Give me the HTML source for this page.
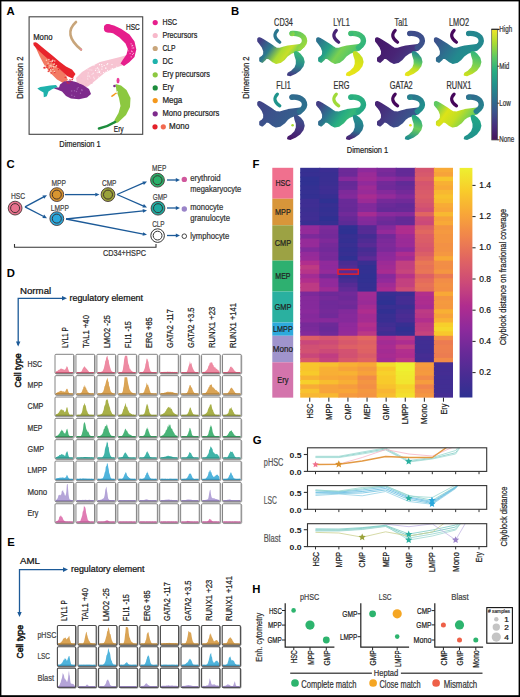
<!DOCTYPE html>
<html><head><meta charset="utf-8"><style>
html,body{margin:0;padding:0;background:#fff;}
svg{display:block;font-family:"Liberation Sans",sans-serif;}
</style></head><body>
<svg width="520" height="697" viewBox="0 0 520 697">
<rect width="520" height="697" fill="#fff"/>
<text x="6.6" y="15.3" font-size="11.3" font-weight="bold" fill="#000">A</text>
<text x="231.0" y="15.2" font-size="11.3" font-weight="bold" fill="#000">B</text>
<text x="6.6" y="167.5" font-size="11.3" font-weight="bold" fill="#000">C</text>
<text x="6.8" y="277.3" font-size="11.3" font-weight="bold" fill="#000">D</text>
<text x="7.2" y="545.5" font-size="11.3" font-weight="bold" fill="#000">E</text>
<text x="252.5" y="167.5" font-size="11.3" font-weight="bold" fill="#000">F</text>
<text x="252.8" y="443.8" font-size="11.3" font-weight="bold" fill="#000">G</text>
<text x="252.3" y="593.2" font-size="11.3" font-weight="bold" fill="#000">H</text>
<rect x="29.1" y="16.8" width="113.6" height="117.5" fill="none" stroke="#444" stroke-width="1.1"/>
<path d="M76,22 Q62.5,34.2 81,49.6" fill="none" stroke="#c8a57a" stroke-width="2.6" stroke-linecap="round"/>
<circle cx="81" cy="49.5" r="1" fill="#f08aa8"/>
<path d="M35,46 L42,52 L50,60 L58,67 L65,74 L68,80 L63,83 L57,79.5 L50,72.5 L44,64.5 L39.5,56 Z" fill="#f27a62"/>
<path d="M33.3,42.8 Q35.5,41.6 37.5,43.3 L45,49.5 L53,56 L60,62 L66,66.5 L72,69.5 L75.5,74 L72.5,78.5 L67,76 L60,69.5 L52,62.5 L44,55.5 L37.5,49.5 L33.6,45.3 Z" fill="#e8242c"/>
<path d="M76,78 L82,72 L90,67 L100,62 L110,59.5 L120,57 L127,55 L128,60 L125,64.5 L115,68 L105,72.5 L96,80 L88,86.5 L82,87.5 L77,84 Z" fill="#f7c4d2"/>
<path d="M60,84.5 L64,81.5 L70,80.5 L76,82 L83,85 L89,89 L91,94 L87,97.5 L79,99.2 L71,98.6 L66,96 L62,91.5 L57,89.6 L54,88.6 L55,87.2 L59,87.4 Z" fill="#7e2a8c"/>
<path d="M37.3,88.6 Q40,86.5 44,86.4 L50,85.6 L56,85 L57.5,87 L52,89.2 L48.5,91.5 L46.8,96.2 L43.8,97.2 L43.5,92.5 L40,90.6 Z" fill="#1fb2ac"/>
<path d="M104,27.5 Q104.3,24 108,24 L114,25.6 L121,28.8 L129.5,34.5 L134.5,41.5 L136.3,49.5 L134.5,57 L129,62.5 L124,66 L120.5,63.5 L123,59.5 L126.5,54.5 L127.8,49 L125.5,43.5 L119.5,37.5 L113,33.2 L107.5,32.3 Q104,31 104,27.5 Z" fill="#e61e8c"/>
<circle cx="108" cy="28.4" r="4.1" fill="#e61e8c"/>
<path d="M115.5,84 L121,85.5 L126.5,90 L130.5,98 L130,107 L126,115 L118,122.5 L114,123.5 L114.5,120 L118.5,113 L120.5,106 L119,98 L116.5,91 Z" fill="#8cc840"/>
<path d="M115,122 Q108,126.5 99,128.5" fill="none" stroke="#1c8c3c" stroke-width="2.6" stroke-linecap="round"/>
<path d="M112,96.2 L116,93.4" stroke="#f4981c" stroke-width="1.6" stroke-linecap="round"/>
<ellipse cx="118" cy="80.5" rx="1.5" ry="2.8" fill="#ea3c9a"/>
<circle cx="114.5" cy="86" r="1.3" fill="#7e2a8c"/>
<circle cx="54.3" cy="71.5" r="0.7" fill="#fbd0c0"/><circle cx="50.3" cy="62.0" r="0.7" fill="#fbd0c0"/><circle cx="45.3" cy="66.2" r="0.7" fill="#fbd0c0"/><circle cx="46.4" cy="60.2" r="0.7" fill="#fbd0c0"/><circle cx="51.0" cy="66.7" r="0.7" fill="#fbd0c0"/><circle cx="52.4" cy="61.5" r="0.7" fill="#fbd0c0"/><circle cx="50.0" cy="65.6" r="0.7" fill="#fbd0c0"/><circle cx="44.4" cy="68.3" r="0.7" fill="#fbd0c0"/><circle cx="50.9" cy="73.7" r="0.7" fill="#fbd0c0"/><circle cx="51.0" cy="65.2" r="0.7" fill="#fbd0c0"/><circle cx="55.1" cy="66.9" r="0.7" fill="#fbd0c0"/><circle cx="54.0" cy="64.2" r="0.7" fill="#fbd0c0"/><circle cx="50.9" cy="71.1" r="0.7" fill="#fbd0c0"/><circle cx="53.2" cy="66.7" r="0.7" fill="#fbd0c0"/><circle cx="45.4" cy="68.1" r="0.7" fill="#fbd0c0"/><circle cx="50.4" cy="69.8" r="0.7" fill="#fbd0c0"/><circle cx="50.9" cy="71.3" r="0.7" fill="#fbd0c0"/><circle cx="49.7" cy="67.1" r="0.7" fill="#fbd0c0"/><circle cx="52.7" cy="60.9" r="0.7" fill="#fbd0c0"/><circle cx="48.1" cy="63.3" r="0.7" fill="#fbd0c0"/><circle cx="56.5" cy="65.7" r="0.7" fill="#fbd0c0"/><circle cx="52.9" cy="69.2" r="0.7" fill="#fbd0c0"/><circle cx="48.9" cy="59.4" r="0.7" fill="#fbd0c0"/><circle cx="54.2" cy="64.0" r="0.7" fill="#fbd0c0"/><circle cx="52.8" cy="60.3" r="0.7" fill="#fbd0c0"/><circle cx="48.2" cy="71.8" r="0.7" fill="#fbd0c0"/><circle cx="54.8" cy="61.0" r="0.7" fill="#fbd0c0"/><circle cx="44.6" cy="65.8" r="0.7" fill="#fbd0c0"/><circle cx="53.4" cy="66.8" r="0.7" fill="#fbd0c0"/><circle cx="51.3" cy="61.1" r="0.7" fill="#fbd0c0"/><circle cx="54.8" cy="72.6" r="0.7" fill="#e8242c"/><circle cx="50.1" cy="62.5" r="0.7" fill="#e8242c"/><circle cx="48.3" cy="71.3" r="0.7" fill="#e8242c"/><circle cx="45.0" cy="67.7" r="0.7" fill="#e8242c"/><circle cx="47.0" cy="67.4" r="0.7" fill="#e8242c"/><circle cx="50.6" cy="68.1" r="0.7" fill="#e8242c"/><circle cx="58.5" cy="69.6" r="0.7" fill="#e8242c"/><circle cx="58.1" cy="67.4" r="0.7" fill="#e8242c"/><circle cx="49.4" cy="69.8" r="0.7" fill="#e8242c"/><circle cx="44.1" cy="67.9" r="0.7" fill="#e8242c"/><circle cx="52.8" cy="62.9" r="0.7" fill="#e8242c"/><circle cx="54.5" cy="65.4" r="0.7" fill="#e8242c"/><circle cx="44.2" cy="67.4" r="0.7" fill="#e8242c"/><circle cx="47.2" cy="65.8" r="0.7" fill="#e8242c"/><circle cx="51.3" cy="73.1" r="0.7" fill="#e8242c"/><circle cx="52.6" cy="67.9" r="0.7" fill="#e8242c"/><circle cx="53.5" cy="61.8" r="0.7" fill="#e8242c"/><circle cx="57.2" cy="64.1" r="0.7" fill="#e8242c"/><circle cx="117.5" cy="91.9" r="0.6" fill="#ffffff"/><circle cx="115.8" cy="97.1" r="0.6" fill="#ffffff"/><circle cx="118.8" cy="103.9" r="0.6" fill="#ffffff"/><circle cx="116.2" cy="97.7" r="0.6" fill="#ffffff"/><circle cx="115.6" cy="99.8" r="0.6" fill="#ffffff"/><circle cx="116.3" cy="105.5" r="0.6" fill="#ffffff"/><circle cx="115.5" cy="97.7" r="0.6" fill="#ffffff"/><circle cx="116.0" cy="94.7" r="0.6" fill="#ffffff"/><circle cx="117.9" cy="101.0" r="0.6" fill="#ffffff"/><circle cx="117.7" cy="108.2" r="0.6" fill="#ffffff"/><circle cx="112.0" cy="64.6" r="0.6" fill="#ffffff"/><circle cx="107.7" cy="63.7" r="0.6" fill="#ffffff"/><circle cx="103.6" cy="72.6" r="0.6" fill="#ffffff"/><circle cx="102.1" cy="66.7" r="0.6" fill="#ffffff"/><circle cx="105.7" cy="68.1" r="0.6" fill="#ffffff"/><circle cx="104.2" cy="65.5" r="0.6" fill="#ffffff"/><circle cx="112.5" cy="70.5" r="0.6" fill="#ffffff"/><circle cx="101.9" cy="69.1" r="0.6" fill="#ffffff"/><circle cx="109.5" cy="71.1" r="0.6" fill="#ffffff"/><circle cx="107.6" cy="70.3" r="0.6" fill="#ffffff"/><circle cx="101.7" cy="64.7" r="0.6" fill="#ffffff"/><circle cx="99.8" cy="71.1" r="0.6" fill="#ffffff"/><circle cx="112.6" cy="68.5" r="0.6" fill="#ffffff"/><circle cx="98.7" cy="69.0" r="0.6" fill="#ffffff"/><circle cx="114.3" cy="71.0" r="0.6" fill="#ffffff"/><circle cx="97.6" cy="67.9" r="0.6" fill="#ffffff"/><circle cx="94.0" cy="65.2" r="0.6" fill="#ffffff"/><circle cx="105.9" cy="68.1" r="0.6" fill="#ffffff"/><circle cx="111.2" cy="71.4" r="0.6" fill="#ffffff"/><circle cx="110.3" cy="71.5" r="0.6" fill="#ffffff"/><circle cx="99.5" cy="64.7" r="0.6" fill="#ffffff"/><circle cx="106.5" cy="72.9" r="0.6" fill="#ffffff"/><circle cx="107.0" cy="64.6" r="0.6" fill="#ffffff"/><circle cx="105.9" cy="72.0" r="0.6" fill="#ffffff"/><circle cx="95.6" cy="70.3" r="0.6" fill="#ffffff"/><circle cx="99.2" cy="71.6" r="0.6" fill="#ffffff"/><circle cx="111.1" cy="69.0" r="0.6" fill="#ffffff"/><circle cx="116.8" cy="67.1" r="0.6" fill="#ffffff"/><circle cx="99.5" cy="72.3" r="0.6" fill="#ffffff"/><circle cx="99.0" cy="72.5" r="0.6" fill="#ffffff"/><circle cx="91.8" cy="70.1" r="0.7" fill="#fbe0e8"/><circle cx="92.0" cy="74.6" r="0.7" fill="#fbe0e8"/><circle cx="93.4" cy="73.2" r="0.7" fill="#fbe0e8"/><circle cx="96.1" cy="68.7" r="0.7" fill="#fbe0e8"/><circle cx="88.3" cy="72.9" r="0.7" fill="#fbe0e8"/><circle cx="98.7" cy="69.6" r="0.7" fill="#fbe0e8"/><circle cx="90.0" cy="69.9" r="0.7" fill="#fbe0e8"/><circle cx="87.8" cy="76.5" r="0.7" fill="#fbe0e8"/><circle cx="94.3" cy="78.7" r="0.7" fill="#fbe0e8"/><circle cx="88.0" cy="75.1" r="0.7" fill="#fbe0e8"/><circle cx="98.5" cy="77.0" r="0.7" fill="#fbe0e8"/><circle cx="90.0" cy="78.1" r="0.7" fill="#fbe0e8"/><circle cx="87.7" cy="79.0" r="0.7" fill="#fbe0e8"/><circle cx="93.1" cy="73.5" r="0.7" fill="#fbe0e8"/><circle cx="93.7" cy="77.3" r="0.7" fill="#fbe0e8"/><circle cx="100.8" cy="73.6" r="0.7" fill="#fbe0e8"/><circle cx="89.5" cy="76.3" r="0.7" fill="#fbe0e8"/><circle cx="87.8" cy="69.1" r="0.7" fill="#fbe0e8"/><circle cx="97.3" cy="72.5" r="0.7" fill="#fbe0e8"/><circle cx="98.1" cy="70.7" r="0.7" fill="#fbe0e8"/><circle cx="128.0" cy="50.8" r="0.6" fill="#f9b8d8"/><circle cx="131.2" cy="56.8" r="0.6" fill="#f9b8d8"/><circle cx="132.1" cy="51.7" r="0.6" fill="#f9b8d8"/><circle cx="132.2" cy="48.0" r="0.6" fill="#f9b8d8"/><circle cx="131.1" cy="43.8" r="0.6" fill="#f9b8d8"/><circle cx="132.0" cy="45.9" r="0.6" fill="#f9b8d8"/><circle cx="130.1" cy="53.6" r="0.6" fill="#f9b8d8"/><circle cx="132.6" cy="45.4" r="0.6" fill="#f9b8d8"/><circle cx="133.7" cy="47.9" r="0.6" fill="#f9b8d8"/><circle cx="132.5" cy="54.5" r="0.6" fill="#f9b8d8"/><circle cx="131.5" cy="51.0" r="0.6" fill="#f9b8d8"/><circle cx="133.5" cy="53.3" r="0.6" fill="#f9b8d8"/><circle cx="78.2" cy="87.6" r="0.7" fill="#a060b0"/><circle cx="71.8" cy="95.3" r="0.7" fill="#a060b0"/><circle cx="77.2" cy="89.0" r="0.7" fill="#a060b0"/><circle cx="71.7" cy="91.0" r="0.7" fill="#a060b0"/><circle cx="80.5" cy="93.3" r="0.7" fill="#a060b0"/><circle cx="81.8" cy="89.6" r="0.7" fill="#a060b0"/><circle cx="82.0" cy="90.5" r="0.7" fill="#a060b0"/><circle cx="74.5" cy="96.4" r="0.7" fill="#a060b0"/><circle cx="76.5" cy="91.5" r="0.7" fill="#a060b0"/><circle cx="74.5" cy="90.7" r="0.7" fill="#a060b0"/><circle cx="91.6" cy="83.1" r="0.7" fill="#f6c0cf"/><circle cx="89.8" cy="80.6" r="0.7" fill="#f6c0cf"/><circle cx="91.2" cy="79.8" r="0.7" fill="#f6c0cf"/><circle cx="88.4" cy="81.4" r="0.7" fill="#f6c0cf"/><circle cx="86.4" cy="84.3" r="0.7" fill="#f6c0cf"/><circle cx="92.1" cy="82.9" r="0.7" fill="#f6c0cf"/><circle cx="80.3" cy="83.4" r="0.7" fill="#f6c0cf"/><circle cx="89.7" cy="78.5" r="0.7" fill="#f6c0cf"/><circle cx="85.9" cy="83.5" r="0.7" fill="#f6c0cf"/><circle cx="91.2" cy="82.4" r="0.7" fill="#f6c0cf"/><circle cx="86.8" cy="80.1" r="0.7" fill="#f6c0cf"/><circle cx="90.3" cy="79.7" r="0.7" fill="#f6c0cf"/><circle cx="81.6" cy="78.1" r="0.7" fill="#f6c0cf"/><circle cx="85.2" cy="81.2" r="0.7" fill="#f6c0cf"/><circle cx="73.1" cy="78.0" r="0.6" fill="#e8242c"/><circle cx="70.0" cy="79.7" r="0.6" fill="#e8242c"/><circle cx="69.0" cy="83.1" r="0.6" fill="#e8242c"/><circle cx="72.4" cy="79.6" r="0.6" fill="#e8242c"/><circle cx="66.2" cy="77.0" r="0.6" fill="#e8242c"/><circle cx="67.7" cy="82.9" r="0.6" fill="#e8242c"/><circle cx="67.0" cy="81.9" r="0.6" fill="#e8242c"/><circle cx="70.8" cy="81.0" r="0.6" fill="#e8242c"/><circle cx="72.0" cy="79.7" r="0.6" fill="#e8242c"/><circle cx="65.2" cy="77.4" r="0.6" fill="#e8242c"/>
<text x="33.20" y="40.10" font-size="8.6" text-anchor="start" fill="#222" stroke="#222" stroke-width="0.22" textLength="19.30" lengthAdjust="spacingAndGlyphs">Mono</text>
<text x="126.00" y="29.80" font-size="8.6" text-anchor="start" fill="#222" stroke="#222" stroke-width="0.22" textLength="13.80" lengthAdjust="spacingAndGlyphs">HSC</text>
<text x="113.80" y="131.60" font-size="8.6" text-anchor="start" fill="#222" stroke="#222" stroke-width="0.22" textLength="9.80" lengthAdjust="spacingAndGlyphs">Ery</text>
<text x="80.00" y="146.80" font-size="9.2" text-anchor="middle" fill="#222" stroke="#222" stroke-width="0.22" textLength="41.50" lengthAdjust="spacingAndGlyphs">Dimension 1</text>
<text transform="translate(22.90,77.70) rotate(-90)" font-size="9.2" text-anchor="middle" fill="#222" stroke="#222" stroke-width="0.22" textLength="42.20" lengthAdjust="spacingAndGlyphs">Dimension 2</text>
<circle cx="155.2" cy="22.6" r="2.6" fill="#e61e8c"/>
<text x="162.40" y="25.00" font-size="9.0" text-anchor="start" fill="#222" stroke="#222" stroke-width="0.22" textLength="14.70" lengthAdjust="spacingAndGlyphs">HSC</text>
<circle cx="155.2" cy="35.5" r="2.6" fill="#f7b8ca"/>
<text x="162.40" y="37.90" font-size="9.0" text-anchor="start" fill="#222" stroke="#222" stroke-width="0.22" textLength="34.90" lengthAdjust="spacingAndGlyphs">Precursors</text>
<circle cx="155.2" cy="48.5" r="2.6" fill="#c8a57a"/>
<text x="162.40" y="50.90" font-size="9.0" text-anchor="start" fill="#222" stroke="#222" stroke-width="0.22" textLength="13.20" lengthAdjust="spacingAndGlyphs">CLP</text>
<circle cx="155.2" cy="61.4" r="2.6" fill="#1fb2ac"/>
<text x="162.40" y="63.80" font-size="9.0" text-anchor="start" fill="#222" stroke="#222" stroke-width="0.22" textLength="10.50" lengthAdjust="spacingAndGlyphs">DC</text>
<circle cx="155.2" cy="74.8" r="2.6" fill="#8cc840"/>
<text x="162.40" y="77.20" font-size="9.0" text-anchor="start" fill="#222" stroke="#222" stroke-width="0.22" textLength="47.40" lengthAdjust="spacingAndGlyphs">Ery precursors</text>
<circle cx="155.2" cy="87.9" r="2.6" fill="#1c8c3c"/>
<text x="162.40" y="90.30" font-size="9.0" text-anchor="start" fill="#222" stroke="#222" stroke-width="0.22" textLength="11.30" lengthAdjust="spacingAndGlyphs">Ery</text>
<circle cx="155.2" cy="100.6" r="2.6" fill="#f4981c"/>
<text x="162.40" y="103.00" font-size="9.0" text-anchor="start" fill="#222" stroke="#222" stroke-width="0.22" textLength="19.90" lengthAdjust="spacingAndGlyphs">Mega</text>
<circle cx="155.2" cy="113.8" r="2.6" fill="#7e2a8c"/>
<text x="162.40" y="116.20" font-size="9.0" text-anchor="start" fill="#222" stroke="#222" stroke-width="0.22" textLength="57.00" lengthAdjust="spacingAndGlyphs">Mono precursors</text>
<circle cx="155" cy="126.8" r="2.6" fill="#e3212a"/>
<circle cx="163.3" cy="126.8" r="2.6" fill="#f26a50"/>
<text x="169.10" y="129.20" font-size="9.0" text-anchor="start" fill="#222" stroke="#222" stroke-width="0.22" textLength="20.10" lengthAdjust="spacingAndGlyphs">Mono</text>
<defs><linearGradient id="bbCD34" x1="0" y1="0.2" x2="1" y2="0.6"><stop offset="0" stop-color="#433e85"/><stop offset="0.3" stop-color="#2c7a8e"/><stop offset="0.55" stop-color="#aadc32"/><stop offset="0.7" stop-color="#c8df2a"/><stop offset="0.85" stop-color="#7ad151"/><stop offset="1" stop-color="#5ec962"/></linearGradient><linearGradient id="bhCD34" x1="0" y1="0" x2="1" y2="1"><stop offset="0" stop-color="#52c569"/><stop offset="1" stop-color="#a0da39"/></linearGradient><linearGradient id="beCD34" x1="0.5" y1="0" x2="0.3" y2="1"><stop offset="0" stop-color="#35b779"/><stop offset="0.5" stop-color="#2a8a8c"/><stop offset="1" stop-color="#413d84"/></linearGradient><linearGradient id="bbLYL1" x1="0" y1="0.2" x2="1" y2="0.6"><stop offset="0" stop-color="#2c728e"/><stop offset="0.3" stop-color="#25a286"/><stop offset="0.55" stop-color="#7ad151"/><stop offset="0.75" stop-color="#5ec962"/><stop offset="1" stop-color="#3fbc73"/></linearGradient><linearGradient id="bhLYL1" x1="0" y1="0" x2="1" y2="1"><stop offset="0" stop-color="#48c16e"/><stop offset="1" stop-color="#2fb47c"/></linearGradient><linearGradient id="beLYL1" x1="0.5" y1="0" x2="0.3" y2="1"><stop offset="0" stop-color="#c2df23"/><stop offset="0.5" stop-color="#dde318"/><stop offset="1" stop-color="#e8e419"/></linearGradient><linearGradient id="bbTal1" x1="0" y1="0.2" x2="1" y2="0.6"><stop offset="0" stop-color="#46186a"/><stop offset="0.5" stop-color="#482475"/><stop offset="0.8" stop-color="#453781"/><stop offset="1" stop-color="#3e4989"/></linearGradient><linearGradient id="bhTal1" x1="0" y1="0" x2="1" y2="1"><stop offset="0" stop-color="#3e4989"/><stop offset="1" stop-color="#3b528b"/></linearGradient><linearGradient id="beTal1" x1="0.5" y1="0" x2="0.3" y2="1"><stop offset="0" stop-color="#23898e"/><stop offset="0.4" stop-color="#5ec962"/><stop offset="0.7" stop-color="#c2df23"/><stop offset="1" stop-color="#e5e419"/></linearGradient><linearGradient id="bbLMO2" x1="0" y1="0.2" x2="1" y2="0.6"><stop offset="0" stop-color="#3b528b"/><stop offset="0.35" stop-color="#2c728e"/><stop offset="0.6" stop-color="#23898e"/><stop offset="1" stop-color="#21918c"/></linearGradient><linearGradient id="bhLMO2" x1="0" y1="0" x2="1" y2="1"><stop offset="0" stop-color="#25858e"/><stop offset="1" stop-color="#23898e"/></linearGradient><linearGradient id="beLMO2" x1="0.5" y1="0" x2="0.3" y2="1"><stop offset="0" stop-color="#35b779"/><stop offset="0.5" stop-color="#7ad151"/><stop offset="1" stop-color="#c8e020"/></linearGradient><linearGradient id="bbFLI1" x1="0" y1="0.2" x2="1" y2="0.6"><stop offset="0" stop-color="#414487"/><stop offset="0.35" stop-color="#3b528b"/><stop offset="1" stop-color="#33638d"/></linearGradient><linearGradient id="bhFLI1" x1="0" y1="0" x2="1" y2="1"><stop offset="0" stop-color="#31688e"/><stop offset="1" stop-color="#2c728e"/></linearGradient><linearGradient id="beFLI1" x1="0.5" y1="0" x2="0.3" y2="1"><stop offset="0" stop-color="#3b528b"/><stop offset="0.5" stop-color="#453781"/><stop offset="1" stop-color="#46186a"/></linearGradient><linearGradient id="bbERG" x1="0" y1="0.2" x2="1" y2="0.6"><stop offset="0" stop-color="#433e85"/><stop offset="0.3" stop-color="#2c728e"/><stop offset="0.6" stop-color="#27ad81"/><stop offset="0.75" stop-color="#35b779"/><stop offset="1" stop-color="#22a785"/></linearGradient><linearGradient id="bhERG" x1="0" y1="0" x2="1" y2="1"><stop offset="0" stop-color="#2fb47c"/><stop offset="1" stop-color="#22a785"/></linearGradient><linearGradient id="beERG" x1="0.5" y1="0" x2="0.3" y2="1"><stop offset="0" stop-color="#21918c"/><stop offset="0.6" stop-color="#2c728e"/><stop offset="1" stop-color="#482575"/></linearGradient><linearGradient id="bbGATA2" x1="0" y1="0.2" x2="1" y2="0.6"><stop offset="0" stop-color="#482475"/><stop offset="0.4" stop-color="#433e85"/><stop offset="0.75" stop-color="#3b528b"/><stop offset="1" stop-color="#33638d"/></linearGradient><linearGradient id="bhGATA2" x1="0" y1="0" x2="1" y2="1"><stop offset="0" stop-color="#2c728e"/><stop offset="1" stop-color="#1f948c"/></linearGradient><linearGradient id="beGATA2" x1="0.5" y1="0" x2="0.3" y2="1"><stop offset="0" stop-color="#20a386"/><stop offset="0.5" stop-color="#6ccd5a"/><stop offset="1" stop-color="#218e8d"/></linearGradient><linearGradient id="bbRUNX1" x1="0" y1="0.2" x2="1" y2="0.6"><stop offset="0" stop-color="#5ec962"/><stop offset="0.3" stop-color="#dde318"/><stop offset="0.55" stop-color="#c2df23"/><stop offset="0.8" stop-color="#7ad151"/><stop offset="1" stop-color="#35b779"/></linearGradient><linearGradient id="bhRUNX1" x1="0" y1="0" x2="1" y2="1"><stop offset="0" stop-color="#31688e"/><stop offset="1" stop-color="#25858e"/></linearGradient><linearGradient id="beRUNX1" x1="0.5" y1="0" x2="0.3" y2="1"><stop offset="0" stop-color="#22a785"/><stop offset="0.5" stop-color="#1f9a8a"/><stop offset="1" stop-color="#21918c"/></linearGradient></defs>
<g transform="translate(254.00,26.00)">
<path d="M4.3,13 Q5,11.5 8,13.5 L12,16 L16,18.5 L19.5,21 L22,22.5 L26,22.8 L30,21.5 L34,20.5 L38,20 L42,19.5 L46,19 L49,20.5 L46,23.8 L41,25.3 L36.5,27 L33,29.5 L30,33 L26,36 L22,36.8 L18.5,35 L15,32.2 L12.5,31.2 L10.5,33.8 L8.3,35.8 L6.3,34.8 L6.3,32.2 L8.6,30.6 L10.2,28.5 L10.3,25 L8.8,21 L6.3,17.5 L4.3,15 Z" fill="url(#bbCD34)" stroke="url(#bbCD34)" stroke-width="2.2" stroke-linejoin="round"/>
<path d="M38.2,7.4 Q45.5,7 49.3,11 Q52.2,15.2 48.6,19.2 L45.6,21.6" fill="none" stroke="url(#bhCD34)" stroke-width="5.4" stroke-linecap="round" stroke-linejoin="round"/>
<circle cx="38" cy="7.6" r="2.7" fill="url(#bhCD34)"/>
<path d="M40.8,26.5 Q42,25.6 43.5,26.5 L46,28.5 L48.7,32 L49.7,36 L48.6,40 L45.6,44 L41,47.2 L36.5,49.2 L34,48.8 L34.5,47.3 L38,45.3 L41.3,42 L42.8,38 L42.8,34 L41.5,30 Z" fill="url(#beCD34)" stroke="url(#beCD34)" stroke-width="2.0" stroke-linejoin="round"/>
<path d="M23.4,4.4 Q17.5,10.5 25.8,16.2" fill="none" stroke="#2a768e" stroke-width="3.2" stroke-linecap="round"/>
</g>
<text x="283.50" y="25.60" font-size="10.2" text-anchor="middle" fill="#333" stroke="#333" stroke-width="0.22" textLength="18.78" lengthAdjust="spacingAndGlyphs">CD34</text>
<g transform="translate(312.90,26.00)">
<path d="M4.3,13 Q5,11.5 8,13.5 L12,16 L16,18.5 L19.5,21 L22,22.5 L26,22.8 L30,21.5 L34,20.5 L38,20 L42,19.5 L46,19 L49,20.5 L46,23.8 L41,25.3 L36.5,27 L33,29.5 L30,33 L26,36 L22,36.8 L18.5,35 L15,32.2 L12.5,31.2 L10.5,33.8 L8.3,35.8 L6.3,34.8 L6.3,32.2 L8.6,30.6 L10.2,28.5 L10.3,25 L8.8,21 L6.3,17.5 L4.3,15 Z" fill="url(#bbLYL1)" stroke="url(#bbLYL1)" stroke-width="2.2" stroke-linejoin="round"/>
<path d="M38.2,7.4 Q45.5,7 49.3,11 Q52.2,15.2 48.6,19.2 L45.6,21.6" fill="none" stroke="url(#bhLYL1)" stroke-width="5.4" stroke-linecap="round" stroke-linejoin="round"/>
<circle cx="38" cy="7.6" r="2.7" fill="url(#bhLYL1)"/>
<path d="M40.8,26.5 Q42,25.6 43.5,26.5 L46,28.5 L48.7,32 L49.7,36 L48.6,40 L45.6,44 L41,47.2 L36.5,49.2 L34,48.8 L34.5,47.3 L38,45.3 L41.3,42 L42.8,38 L42.8,34 L41.5,30 Z" fill="url(#beLYL1)" stroke="url(#beLYL1)" stroke-width="2.0" stroke-linejoin="round"/>
<path d="M23.4,4.4 Q17.5,10.5 25.8,16.2" fill="none" stroke="#482374" stroke-width="3.2" stroke-linecap="round"/>
</g>
<text x="341.50" y="25.60" font-size="10.2" text-anchor="middle" fill="#333" stroke="#333" stroke-width="0.22" textLength="16.61" lengthAdjust="spacingAndGlyphs">LYL1</text>
<g transform="translate(371.80,26.00)">
<path d="M4.3,13 Q5,11.5 8,13.5 L12,16 L16,18.5 L19.5,21 L22,22.5 L26,22.8 L30,21.5 L34,20.5 L38,20 L42,19.5 L46,19 L49,20.5 L46,23.8 L41,25.3 L36.5,27 L33,29.5 L30,33 L26,36 L22,36.8 L18.5,35 L15,32.2 L12.5,31.2 L10.5,33.8 L8.3,35.8 L6.3,34.8 L6.3,32.2 L8.6,30.6 L10.2,28.5 L10.3,25 L8.8,21 L6.3,17.5 L4.3,15 Z" fill="url(#bbTal1)" stroke="url(#bbTal1)" stroke-width="2.2" stroke-linejoin="round"/>
<path d="M38.2,7.4 Q45.5,7 49.3,11 Q52.2,15.2 48.6,19.2 L45.6,21.6" fill="none" stroke="url(#bhTal1)" stroke-width="5.4" stroke-linecap="round" stroke-linejoin="round"/>
<circle cx="38" cy="7.6" r="2.7" fill="url(#bhTal1)"/>
<path d="M40.8,26.5 Q42,25.6 43.5,26.5 L46,28.5 L48.7,32 L49.7,36 L48.6,40 L45.6,44 L41,47.2 L36.5,49.2 L34,48.8 L34.5,47.3 L38,45.3 L41.3,42 L42.8,38 L42.8,34 L41.5,30 Z" fill="url(#beTal1)" stroke="url(#beTal1)" stroke-width="2.0" stroke-linejoin="round"/>
<path d="M23.4,4.4 Q17.5,10.5 25.8,16.2" fill="none" stroke="#450c5e" stroke-width="3.2" stroke-linecap="round"/>
</g>
<text x="401.20" y="25.60" font-size="10.2" text-anchor="middle" fill="#333" stroke="#333" stroke-width="0.22" textLength="13.47" lengthAdjust="spacingAndGlyphs">Tal1</text>
<g transform="translate(430.70,26.00)">
<path d="M4.3,13 Q5,11.5 8,13.5 L12,16 L16,18.5 L19.5,21 L22,22.5 L26,22.8 L30,21.5 L34,20.5 L38,20 L42,19.5 L46,19 L49,20.5 L46,23.8 L41,25.3 L36.5,27 L33,29.5 L30,33 L26,36 L22,36.8 L18.5,35 L15,32.2 L12.5,31.2 L10.5,33.8 L8.3,35.8 L6.3,34.8 L6.3,32.2 L8.6,30.6 L10.2,28.5 L10.3,25 L8.8,21 L6.3,17.5 L4.3,15 Z" fill="url(#bbLMO2)" stroke="url(#bbLMO2)" stroke-width="2.2" stroke-linejoin="round"/>
<path d="M38.2,7.4 Q45.5,7 49.3,11 Q52.2,15.2 48.6,19.2 L45.6,21.6" fill="none" stroke="url(#bhLMO2)" stroke-width="5.4" stroke-linecap="round" stroke-linejoin="round"/>
<circle cx="38" cy="7.6" r="2.7" fill="url(#bhLMO2)"/>
<path d="M40.8,26.5 Q42,25.6 43.5,26.5 L46,28.5 L48.7,32 L49.7,36 L48.6,40 L45.6,44 L41,47.2 L36.5,49.2 L34,48.8 L34.5,47.3 L38,45.3 L41.3,42 L42.8,38 L42.8,34 L41.5,30 Z" fill="url(#beLMO2)" stroke="url(#beLMO2)" stroke-width="2.0" stroke-linejoin="round"/>
<path d="M23.4,4.4 Q17.5,10.5 25.8,16.2" fill="none" stroke="#46085c" stroke-width="3.2" stroke-linecap="round"/>
</g>
<text x="459.00" y="25.60" font-size="10.2" text-anchor="middle" fill="#333" stroke="#333" stroke-width="0.22" textLength="20.00" lengthAdjust="spacingAndGlyphs">LMO2</text>
<g transform="translate(254.00,89.70)">
<path d="M4.3,13 Q5,11.5 8,13.5 L12,16 L16,18.5 L19.5,21 L22,22.5 L26,22.8 L30,21.5 L34,20.5 L38,20 L42,19.5 L46,19 L49,20.5 L46,23.8 L41,25.3 L36.5,27 L33,29.5 L30,33 L26,36 L22,36.8 L18.5,35 L15,32.2 L12.5,31.2 L10.5,33.8 L8.3,35.8 L6.3,34.8 L6.3,32.2 L8.6,30.6 L10.2,28.5 L10.3,25 L8.8,21 L6.3,17.5 L4.3,15 Z" fill="url(#bbFLI1)" stroke="url(#bbFLI1)" stroke-width="2.2" stroke-linejoin="round"/>
<path d="M38.2,7.4 Q45.5,7 49.3,11 Q52.2,15.2 48.6,19.2 L45.6,21.6" fill="none" stroke="url(#bhFLI1)" stroke-width="5.4" stroke-linecap="round" stroke-linejoin="round"/>
<circle cx="38" cy="7.6" r="2.7" fill="url(#bhFLI1)"/>
<path d="M40.8,26.5 Q42,25.6 43.5,26.5 L46,28.5 L48.7,32 L49.7,36 L48.6,40 L45.6,44 L41,47.2 L36.5,49.2 L34,48.8 L34.5,47.3 L38,45.3 L41.3,42 L42.8,38 L42.8,34 L41.5,30 Z" fill="url(#beFLI1)" stroke="url(#beFLI1)" stroke-width="2.0" stroke-linejoin="round"/>
<path d="M23.4,4.4 Q17.5,10.5 25.8,16.2" fill="none" stroke="#1f948c" stroke-width="3.2" stroke-linecap="round"/>
<circle cx="38.6" cy="35.5" r="1.3" fill="#aadc32"/>
</g>
<text x="283.50" y="89.30" font-size="10.2" text-anchor="middle" fill="#333" stroke="#333" stroke-width="0.22" textLength="14.69" lengthAdjust="spacingAndGlyphs">FLI1</text>
<g transform="translate(312.90,89.70)">
<path d="M4.3,13 Q5,11.5 8,13.5 L12,16 L16,18.5 L19.5,21 L22,22.5 L26,22.8 L30,21.5 L34,20.5 L38,20 L42,19.5 L46,19 L49,20.5 L46,23.8 L41,25.3 L36.5,27 L33,29.5 L30,33 L26,36 L22,36.8 L18.5,35 L15,32.2 L12.5,31.2 L10.5,33.8 L8.3,35.8 L6.3,34.8 L6.3,32.2 L8.6,30.6 L10.2,28.5 L10.3,25 L8.8,21 L6.3,17.5 L4.3,15 Z" fill="url(#bbERG)" stroke="url(#bbERG)" stroke-width="2.2" stroke-linejoin="round"/>
<path d="M38.2,7.4 Q45.5,7 49.3,11 Q52.2,15.2 48.6,19.2 L45.6,21.6" fill="none" stroke="url(#bhERG)" stroke-width="5.4" stroke-linecap="round" stroke-linejoin="round"/>
<circle cx="38" cy="7.6" r="2.7" fill="url(#bhERG)"/>
<path d="M40.8,26.5 Q42,25.6 43.5,26.5 L46,28.5 L48.7,32 L49.7,36 L48.6,40 L45.6,44 L41,47.2 L36.5,49.2 L34,48.8 L34.5,47.3 L38,45.3 L41.3,42 L42.8,38 L42.8,34 L41.5,30 Z" fill="url(#beERG)" stroke="url(#beERG)" stroke-width="2.0" stroke-linejoin="round"/>
<path d="M23.4,4.4 Q17.5,10.5 25.8,16.2" fill="none" stroke="#a0da39" stroke-width="3.2" stroke-linecap="round"/>
</g>
<text x="341.50" y="89.30" font-size="10.2" text-anchor="middle" fill="#333" stroke="#333" stroke-width="0.22" textLength="15.91" lengthAdjust="spacingAndGlyphs">ERG</text>
<g transform="translate(371.80,89.70)">
<path d="M4.3,13 Q5,11.5 8,13.5 L12,16 L16,18.5 L19.5,21 L22,22.5 L26,22.8 L30,21.5 L34,20.5 L38,20 L42,19.5 L46,19 L49,20.5 L46,23.8 L41,25.3 L36.5,27 L33,29.5 L30,33 L26,36 L22,36.8 L18.5,35 L15,32.2 L12.5,31.2 L10.5,33.8 L8.3,35.8 L6.3,34.8 L6.3,32.2 L8.6,30.6 L10.2,28.5 L10.3,25 L8.8,21 L6.3,17.5 L4.3,15 Z" fill="url(#bbGATA2)" stroke="url(#bbGATA2)" stroke-width="2.2" stroke-linejoin="round"/>
<path d="M38.2,7.4 Q45.5,7 49.3,11 Q52.2,15.2 48.6,19.2 L45.6,21.6" fill="none" stroke="url(#bhGATA2)" stroke-width="5.4" stroke-linecap="round" stroke-linejoin="round"/>
<circle cx="38" cy="7.6" r="2.7" fill="url(#bhGATA2)"/>
<path d="M40.8,26.5 Q42,25.6 43.5,26.5 L46,28.5 L48.7,32 L49.7,36 L48.6,40 L45.6,44 L41,47.2 L36.5,49.2 L34,48.8 L34.5,47.3 L38,45.3 L41.3,42 L42.8,38 L42.8,34 L41.5,30 Z" fill="url(#beGATA2)" stroke="url(#beGATA2)" stroke-width="2.0" stroke-linejoin="round"/>
<path d="M23.4,4.4 Q17.5,10.5 25.8,16.2" fill="none" stroke="#46085c" stroke-width="3.2" stroke-linecap="round"/>
<circle cx="38.6" cy="35.5" r="1.3" fill="#e8e419"/>
</g>
<text x="401.20" y="89.30" font-size="10.2" text-anchor="middle" fill="#333" stroke="#333" stroke-width="0.22" textLength="22.99" lengthAdjust="spacingAndGlyphs">GATA2</text>
<g transform="translate(430.70,89.70)">
<path d="M4.3,13 Q5,11.5 8,13.5 L12,16 L16,18.5 L19.5,21 L22,22.5 L26,22.8 L30,21.5 L34,20.5 L38,20 L42,19.5 L46,19 L49,20.5 L46,23.8 L41,25.3 L36.5,27 L33,29.5 L30,33 L26,36 L22,36.8 L18.5,35 L15,32.2 L12.5,31.2 L10.5,33.8 L8.3,35.8 L6.3,34.8 L6.3,32.2 L8.6,30.6 L10.2,28.5 L10.3,25 L8.8,21 L6.3,17.5 L4.3,15 Z" fill="url(#bbRUNX1)" stroke="url(#bbRUNX1)" stroke-width="2.2" stroke-linejoin="round"/>
<path d="M38.2,7.4 Q45.5,7 49.3,11 Q52.2,15.2 48.6,19.2 L45.6,21.6" fill="none" stroke="url(#bhRUNX1)" stroke-width="5.4" stroke-linecap="round" stroke-linejoin="round"/>
<circle cx="38" cy="7.6" r="2.7" fill="url(#bhRUNX1)"/>
<path d="M40.8,26.5 Q42,25.6 43.5,26.5 L46,28.5 L48.7,32 L49.7,36 L48.6,40 L45.6,44 L41,47.2 L36.5,49.2 L34,48.8 L34.5,47.3 L38,45.3 L41.3,42 L42.8,38 L42.8,34 L41.5,30 Z" fill="url(#beRUNX1)" stroke="url(#beRUNX1)" stroke-width="2.0" stroke-linejoin="round"/>
<path d="M23.4,4.4 Q17.5,10.5 25.8,16.2" fill="none" stroke="#45065a" stroke-width="3.2" stroke-linecap="round"/>
</g>
<text x="459.00" y="89.30" font-size="10.2" text-anchor="middle" fill="#333" stroke="#333" stroke-width="0.22" textLength="24.89" lengthAdjust="spacingAndGlyphs">RUNX1</text>
<linearGradient id="vcb" x1="0" y1="0" x2="0" y2="1"><stop offset="0.0" stop-color="#f2e52a"/><stop offset="0.125" stop-color="#aadc32"/><stop offset="0.25" stop-color="#5ec962"/><stop offset="0.375" stop-color="#27ad81"/><stop offset="0.5" stop-color="#21918c"/><stop offset="0.625" stop-color="#2c728e"/><stop offset="0.75" stop-color="#3b528b"/><stop offset="0.875" stop-color="#472e7c"/><stop offset="1.0" stop-color="#46155a"/></linearGradient>
<rect x="491.7" y="29.2" width="5.9" height="110.8" fill="url(#vcb)" stroke="#555" stroke-width="0.7"/>
<line x1="491.4" y1="29.3" x2="499.4" y2="29.3" stroke="#222" stroke-width="1.1"/>
<line x1="497.4" y1="29.6" x2="499.4" y2="29.6" stroke="#222" stroke-width="0.9"/>
<text x="499.30" y="32.00" font-size="8.2" text-anchor="start" fill="#333" stroke="#333" stroke-width="0.22" textLength="12.82" lengthAdjust="spacingAndGlyphs">High</text>
<line x1="497.4" y1="66.2" x2="499.4" y2="66.2" stroke="#222" stroke-width="0.9"/>
<text x="499.30" y="68.60" font-size="8.2" text-anchor="start" fill="#333" stroke="#333" stroke-width="0.22" textLength="10.04" lengthAdjust="spacingAndGlyphs">Mid</text>
<line x1="497.4" y1="103.2" x2="499.4" y2="103.2" stroke="#222" stroke-width="0.9"/>
<text x="499.30" y="105.60" font-size="8.2" text-anchor="start" fill="#333" stroke="#333" stroke-width="0.22" textLength="11.43" lengthAdjust="spacingAndGlyphs">Low</text>
<line x1="497.4" y1="139.8" x2="499.4" y2="139.8" stroke="#222" stroke-width="0.9"/>
<text x="499.30" y="142.20" font-size="8.2" text-anchor="start" fill="#333" stroke="#333" stroke-width="0.22" textLength="14.90" lengthAdjust="spacingAndGlyphs">None</text>
<text x="367.50" y="153.00" font-size="9.2" text-anchor="middle" fill="#222" stroke="#222" stroke-width="0.22" textLength="41.50" lengthAdjust="spacingAndGlyphs">Dimension 1</text>
<text transform="translate(249.30,77.60) rotate(-90)" font-size="9.2" text-anchor="middle" fill="#222" stroke="#222" stroke-width="0.22" textLength="42.20" lengthAdjust="spacingAndGlyphs">Dimension 2</text>
<line x1="25.00" y1="206.80" x2="43.73" y2="196.93" stroke="#1c5a98" stroke-width="1.3"/>
<path d="M47.00,195.20 L44.17,198.83 L42.40,195.49 Z" fill="#1c5a98"/>
<line x1="25.00" y1="206.80" x2="43.71" y2="216.50" stroke="#1c5a98" stroke-width="1.3"/>
<path d="M47.00,218.20 L42.40,217.95 L44.14,214.59 Z" fill="#1c5a98"/>
<line x1="65.00" y1="194.60" x2="95.80" y2="194.60" stroke="#1c5a98" stroke-width="1.3"/>
<path d="M99.50,194.60 L95.30,196.49 L95.30,192.71 Z" fill="#1c5a98"/>
<line x1="117.00" y1="194.50" x2="143.61" y2="182.97" stroke="#1c5a98" stroke-width="1.3"/>
<path d="M147.00,181.50 L143.90,184.90 L142.39,181.44 Z" fill="#1c5a98"/>
<line x1="117.00" y1="194.50" x2="143.61" y2="206.03" stroke="#1c5a98" stroke-width="1.3"/>
<path d="M147.00,207.50 L142.39,207.56 L143.90,204.10 Z" fill="#1c5a98"/>
<line x1="66.00" y1="219.00" x2="143.32" y2="210.89" stroke="#1c5a98" stroke-width="1.3"/>
<path d="M147.00,210.50 L143.02,212.82 L142.63,209.06 Z" fill="#1c5a98"/>
<line x1="66.00" y1="219.00" x2="143.37" y2="234.09" stroke="#1c5a98" stroke-width="1.3"/>
<path d="M147.00,234.80 L142.52,235.85 L143.24,232.14 Z" fill="#1c5a98"/>
<line x1="167.00" y1="180.00" x2="176.30" y2="180.00" stroke="#1c5a98" stroke-width="1.3"/>
<path d="M180.00,180.00 L175.80,181.89 L175.80,178.11 Z" fill="#1c5a98"/>
<line x1="167.00" y1="208.00" x2="176.30" y2="208.00" stroke="#1c5a98" stroke-width="1.3"/>
<path d="M180.00,208.00 L175.80,209.89 L175.80,206.11 Z" fill="#1c5a98"/>
<line x1="167.00" y1="235.50" x2="176.30" y2="235.50" stroke="#1c5a98" stroke-width="1.3"/>
<path d="M180.00,235.50 L175.80,237.39 L175.80,233.61 Z" fill="#1c5a98"/>
<circle cx="15.1" cy="208.1" r="6.9" fill="#e8728e" stroke="#4a3a3a" stroke-width="0.9"/>
<circle cx="15.1" cy="208.1" r="4.5" fill="#e8728e" stroke="#3a2a2a" stroke-width="0.9"/>
<circle cx="56.8" cy="194.6" r="6.9" fill="#d99530" stroke="#4a3a3a" stroke-width="0.9"/>
<circle cx="56.8" cy="194.6" r="4.5" fill="#d99530" stroke="#3a2a2a" stroke-width="0.9"/>
<circle cx="56.8" cy="218.6" r="6.9" fill="#2aa8dc" stroke="#4a3a3a" stroke-width="0.9"/>
<circle cx="56.8" cy="218.6" r="4.5" fill="#2aa8dc" stroke="#3a2a2a" stroke-width="0.9"/>
<circle cx="108" cy="194.6" r="6.9" fill="#9aa23a" stroke="#4a3a3a" stroke-width="0.9"/>
<circle cx="108" cy="194.6" r="4.5" fill="#9aa23a" stroke="#3a2a2a" stroke-width="0.9"/>
<circle cx="157.5" cy="180.2" r="6.9" fill="#2ab06a" stroke="#4a3a3a" stroke-width="0.9"/>
<circle cx="157.5" cy="180.2" r="4.5" fill="#2ab06a" stroke="#3a2a2a" stroke-width="0.9"/>
<circle cx="158" cy="208.2" r="6.9" fill="#1eaaa0" stroke="#4a3a3a" stroke-width="0.9"/>
<circle cx="158" cy="208.2" r="4.5" fill="#1eaaa0" stroke="#3a2a2a" stroke-width="0.9"/>
<circle cx="157.6" cy="235.6" r="6.8" fill="#fff" stroke="#333" stroke-width="1"/>
<circle cx="157.6" cy="235.6" r="4.4" fill="#fff" stroke="#333" stroke-width="1"/>
<circle cx="184.3" cy="179.4" r="2.7" fill="#d0589c"/>
<circle cx="184.3" cy="209" r="2.7" fill="#9a84c8"/>
<circle cx="184.3" cy="236.2" r="2.3" fill="#fff" stroke="#333" stroke-width="0.9"/>
<text x="18.10" y="198.50" font-size="9.4" text-anchor="middle" fill="#444" stroke="#444" stroke-width="0.22" textLength="14.20" lengthAdjust="spacingAndGlyphs">HSC</text>
<text x="58.80" y="186.40" font-size="9.4" text-anchor="middle" fill="#444" stroke="#444" stroke-width="0.22" textLength="14.50" lengthAdjust="spacingAndGlyphs">MPP</text>
<text x="59.90" y="211.20" font-size="9.4" text-anchor="middle" fill="#444" stroke="#444" stroke-width="0.22" textLength="18.10" lengthAdjust="spacingAndGlyphs">LMPP</text>
<text x="109.20" y="186.40" font-size="9.4" text-anchor="middle" fill="#444" stroke="#444" stroke-width="0.22" textLength="14.50" lengthAdjust="spacingAndGlyphs">CMP</text>
<text x="159.20" y="171.40" font-size="9.4" text-anchor="middle" fill="#444" stroke="#444" stroke-width="0.22" textLength="14.20" lengthAdjust="spacingAndGlyphs">MEP</text>
<text x="160.00" y="199.60" font-size="9.4" text-anchor="middle" fill="#444" stroke="#444" stroke-width="0.22" textLength="14.50" lengthAdjust="spacingAndGlyphs">GMP</text>
<text x="158.40" y="226.80" font-size="9.4" text-anchor="middle" fill="#444" stroke="#444" stroke-width="0.22" textLength="12.50" lengthAdjust="spacingAndGlyphs">CLP</text>
<text x="190.20" y="181.00" font-size="9.0" text-anchor="start" fill="#333" stroke="#333" stroke-width="0.22" textLength="30.40" lengthAdjust="spacingAndGlyphs">erythroid</text>
<text x="190.20" y="192.30" font-size="9.0" text-anchor="start" fill="#333" stroke="#333" stroke-width="0.22" textLength="51.00" lengthAdjust="spacingAndGlyphs">megakaryocyte</text>
<text x="190.20" y="210.10" font-size="9.0" text-anchor="start" fill="#333" stroke="#333" stroke-width="0.22" textLength="33.00" lengthAdjust="spacingAndGlyphs">monocyte</text>
<text x="190.20" y="220.90" font-size="9.0" text-anchor="start" fill="#333" stroke="#333" stroke-width="0.22" textLength="39.80" lengthAdjust="spacingAndGlyphs">granulocyte</text>
<text x="190.20" y="239.30" font-size="9.0" text-anchor="start" fill="#333" stroke="#333" stroke-width="0.22" textLength="39.00" lengthAdjust="spacingAndGlyphs">lymphocyte</text>
<path d="M14.5,244 L14.5,247.2 L156,247.2 L156,244" fill="none" stroke="#333" stroke-width="1.1"/>
<text x="124.50" y="255.60" font-size="9.4" text-anchor="middle" fill="#333" stroke="#333" stroke-width="0.22" textLength="43.00" lengthAdjust="spacingAndGlyphs">CD34+HSPC</text>
<text x="20.00" y="293.80" font-size="8.8" text-anchor="start" fill="#111" stroke="#111" stroke-width="0.22" textLength="31.20" lengthAdjust="spacingAndGlyphs">Normal</text>
<path d="M18.2,345 L18.2,298.3 L62,298.3" fill="none" stroke="#1c5a98" stroke-width="1.3"/>
<path d="M67,298.3 L62,296 L62,300.6 Z" fill="#1c5a98"/>
<path d="M18.2,346.5 L16,341.5 L20.4,341.5 Z" fill="#1c5a98"/>
<text x="69.50" y="300.50" font-size="8.2" text-anchor="start" fill="#111" stroke="#111" stroke-width="0.22" textLength="73.50" lengthAdjust="spacingAndGlyphs">regulatory element</text>
<g stroke="#111" stroke-width="0.45">
<text transform="translate(21.40,370.40) rotate(-90)" font-size="9.6" text-anchor="middle" fill="#111" stroke="#111" stroke-width="0.5" textLength="34.20" lengthAdjust="spacingAndGlyphs">Cell type</text>
</g>
<text transform="translate(68.00,348.00) rotate(-90)" font-size="9.4" text-anchor="start" fill="#222" stroke="#222" stroke-width="0.22" textLength="20.90" lengthAdjust="spacingAndGlyphs">LYL1 P</text>
<text transform="translate(88.94,348.00) rotate(-90)" font-size="9.4" text-anchor="start" fill="#222" stroke="#222" stroke-width="0.22" textLength="32.90" lengthAdjust="spacingAndGlyphs">TAL1 +40</text>
<text transform="translate(109.88,348.00) rotate(-90)" font-size="9.4" text-anchor="start" fill="#222" stroke="#222" stroke-width="0.22" textLength="32.90" lengthAdjust="spacingAndGlyphs">LMO2 -25</text>
<text transform="translate(130.82,348.00) rotate(-90)" font-size="9.4" text-anchor="start" fill="#222" stroke="#222" stroke-width="0.22" textLength="26.80" lengthAdjust="spacingAndGlyphs">FLI1 -15</text>
<text transform="translate(151.76,348.00) rotate(-90)" font-size="9.4" text-anchor="start" fill="#222" stroke="#222" stroke-width="0.22" textLength="30.70" lengthAdjust="spacingAndGlyphs">ERG +85</text>
<text transform="translate(172.70,348.00) rotate(-90)" font-size="9.4" text-anchor="start" fill="#222" stroke="#222" stroke-width="0.22" textLength="38.70" lengthAdjust="spacingAndGlyphs">GATA2 -117</text>
<text transform="translate(193.64,348.00) rotate(-90)" font-size="9.4" text-anchor="start" fill="#222" stroke="#222" stroke-width="0.22" textLength="40.40" lengthAdjust="spacingAndGlyphs">GATA2 +3.5</text>
<text transform="translate(214.58,348.00) rotate(-90)" font-size="9.4" text-anchor="start" fill="#222" stroke="#222" stroke-width="0.22" textLength="41.20" lengthAdjust="spacingAndGlyphs">RUNX1 +23</text>
<text transform="translate(235.52,348.00) rotate(-90)" font-size="9.4" text-anchor="start" fill="#222" stroke="#222" stroke-width="0.22" textLength="45.00" lengthAdjust="spacingAndGlyphs">RUNX1 +141</text>
<text x="27.50" y="366.70" font-size="9.2" text-anchor="start" fill="#333" stroke="#333" stroke-width="0.22" textLength="14.60" lengthAdjust="spacingAndGlyphs">HSC</text>
<text x="27.50" y="388.05" font-size="9.2" text-anchor="start" fill="#333" stroke="#333" stroke-width="0.22" textLength="15.30" lengthAdjust="spacingAndGlyphs">MPP</text>
<text x="27.50" y="409.40" font-size="9.2" text-anchor="start" fill="#333" stroke="#333" stroke-width="0.22" textLength="15.90" lengthAdjust="spacingAndGlyphs">CMP</text>
<text x="27.50" y="430.75" font-size="9.2" text-anchor="start" fill="#333" stroke="#333" stroke-width="0.22" textLength="14.90" lengthAdjust="spacingAndGlyphs">MEP</text>
<text x="27.50" y="452.10" font-size="9.2" text-anchor="start" fill="#333" stroke="#333" stroke-width="0.22" textLength="16.60" lengthAdjust="spacingAndGlyphs">GMP</text>
<text x="27.50" y="473.45" font-size="9.2" text-anchor="start" fill="#333" stroke="#333" stroke-width="0.22" textLength="19.40" lengthAdjust="spacingAndGlyphs">LMPP</text>
<text x="27.50" y="494.80" font-size="9.2" text-anchor="start" fill="#333" stroke="#333" stroke-width="0.22" textLength="19.60" lengthAdjust="spacingAndGlyphs">Mono</text>
<text x="27.50" y="516.15" font-size="9.2" text-anchor="start" fill="#333" stroke="#333" stroke-width="0.22" textLength="10.80" lengthAdjust="spacingAndGlyphs">Ery</text>
<rect x="55.60" y="354.90" width="18.60" height="19.20" rx="1" fill="#fff" stroke="#9a9a9a" stroke-width="0.9"/>
<rect x="55.00" y="354.30" width="18.60" height="19.20" rx="1" fill="#fff" stroke="#777" stroke-width="0.9"/>
<path d="M55.80,372.80 L55.80,371.63 L56.22,371.26 L56.65,371.15 L57.07,370.84 L57.50,370.89 L57.92,370.50 L58.35,369.92 L58.77,369.87 L59.20,369.89 L59.62,369.60 L60.05,368.79 L60.47,369.01 L60.90,368.58 L61.32,368.51 L61.75,368.72 L62.17,369.35 L62.60,368.70 L63.02,369.34 L63.45,369.19 L63.88,369.68 L64.30,369.76 L64.72,369.77 L65.15,369.60 L65.57,368.87 L66.00,368.34 L66.42,367.07 L66.85,365.91 L67.28,366.65 L67.70,367.20 L68.12,369.09 L68.55,370.09 L68.97,371.13 L69.40,371.76 L69.82,372.09 L70.25,371.93 L70.67,372.01 L71.10,372.23 L71.53,372.08 L71.95,372.18 L72.38,372.07 L72.80,372.09 L72.80,372.80 Z" fill="#ee8aa2"/>
<line x1="55.60" y1="372.60" x2="73.00" y2="372.60" stroke="#c0506a" stroke-width="1"/>
<rect x="76.54" y="354.90" width="18.60" height="19.20" rx="1" fill="#fff" stroke="#9a9a9a" stroke-width="0.9"/>
<rect x="75.94" y="354.30" width="18.60" height="19.20" rx="1" fill="#fff" stroke="#777" stroke-width="0.9"/>
<path d="M76.74,372.80 L76.74,372.22 L77.16,371.98 L77.59,372.06 L78.02,372.21 L78.44,372.05 L78.86,371.95 L79.29,372.21 L79.71,371.99 L80.14,372.04 L80.56,371.87 L80.99,371.81 L81.41,371.42 L81.84,370.82 L82.27,369.83 L82.69,368.72 L83.11,368.18 L83.54,367.13 L83.96,367.19 L84.39,365.96 L84.81,366.83 L85.24,367.24 L85.66,367.71 L86.09,368.28 L86.51,368.73 L86.94,368.91 L87.36,369.63 L87.79,370.23 L88.22,370.86 L88.64,371.26 L89.06,371.90 L89.49,371.99 L89.91,371.88 L90.34,372.21 L90.76,372.01 L91.19,372.02 L91.61,372.23 L92.04,372.04 L92.47,372.14 L92.89,372.24 L93.31,371.99 L93.74,372.27 L93.74,372.80 Z" fill="#ee8aa2"/>
<line x1="76.54" y1="372.60" x2="93.94" y2="372.60" stroke="#c0506a" stroke-width="1"/>
<rect x="97.48" y="354.90" width="18.60" height="19.20" rx="1" fill="#fff" stroke="#9a9a9a" stroke-width="0.9"/>
<rect x="96.88" y="354.30" width="18.60" height="19.20" rx="1" fill="#fff" stroke="#777" stroke-width="0.9"/>
<path d="M97.68,372.80 L97.68,372.08 L98.10,372.05 L98.53,372.16 L98.95,372.09 L99.38,372.10 L99.80,372.09 L100.23,372.00 L100.65,372.13 L101.08,371.87 L101.50,371.76 L101.93,371.59 L102.35,371.27 L102.78,370.74 L103.20,369.64 L103.63,369.06 L104.05,367.40 L104.48,365.38 L104.90,363.77 L105.33,360.39 L105.75,360.77 L106.18,357.65 L106.60,356.93 L107.03,355.91 L107.45,355.80 L107.88,358.15 L108.30,359.86 L108.73,360.34 L109.16,363.76 L109.58,365.15 L110.00,367.02 L110.43,368.16 L110.85,369.71 L111.28,370.53 L111.70,371.20 L112.13,371.56 L112.55,371.78 L112.98,372.03 L113.41,371.98 L113.83,372.11 L114.25,372.11 L114.68,372.25 L114.68,372.80 Z" fill="#ee8aa2"/>
<line x1="97.48" y1="372.60" x2="114.88" y2="372.60" stroke="#c0506a" stroke-width="1"/>
<rect x="118.42" y="354.90" width="18.60" height="19.20" rx="1" fill="#fff" stroke="#9a9a9a" stroke-width="0.9"/>
<rect x="117.82" y="354.30" width="18.60" height="19.20" rx="1" fill="#fff" stroke="#777" stroke-width="0.9"/>
<path d="M118.62,372.80 L118.62,372.13 L119.05,372.04 L119.47,372.26 L119.90,372.25 L120.32,371.98 L120.75,372.22 L121.17,372.13 L121.59,371.98 L122.02,371.63 L122.45,370.77 L122.87,369.43 L123.30,366.32 L123.72,363.71 L124.15,359.49 L124.57,357.39 L125.00,355.80 L125.42,355.80 L125.84,355.80 L126.27,355.80 L126.70,355.80 L127.12,355.80 L127.55,358.48 L127.97,361.88 L128.40,364.15 L128.82,364.86 L129.25,366.60 L129.67,368.73 L130.09,368.41 L130.52,369.52 L130.94,370.13 L131.37,370.58 L131.80,370.95 L132.22,371.28 L132.65,371.69 L133.07,371.78 L133.50,371.88 L133.92,371.96 L134.34,372.10 L134.77,372.03 L135.19,372.11 L135.62,372.09 L135.62,372.80 Z" fill="#ee8aa2"/>
<line x1="118.42" y1="372.60" x2="135.82" y2="372.60" stroke="#c0506a" stroke-width="1"/>
<rect x="139.36" y="354.90" width="18.60" height="19.20" rx="1" fill="#fff" stroke="#9a9a9a" stroke-width="0.9"/>
<rect x="138.76" y="354.30" width="18.60" height="19.20" rx="1" fill="#fff" stroke="#777" stroke-width="0.9"/>
<path d="M139.56,372.80 L139.56,371.99 L139.99,372.21 L140.41,372.05 L140.84,372.28 L141.26,371.97 L141.69,372.04 L142.11,371.99 L142.53,371.88 L142.96,371.78 L143.38,371.22 L143.81,370.66 L144.24,369.62 L144.66,368.50 L145.09,367.04 L145.51,363.66 L145.94,363.36 L146.36,359.76 L146.78,358.47 L147.21,358.74 L147.63,359.56 L148.06,361.15 L148.49,361.65 L148.91,365.57 L149.34,367.62 L149.76,369.10 L150.19,370.06 L150.61,371.25 L151.03,371.58 L151.46,371.86 L151.88,371.97 L152.31,372.07 L152.74,372.17 L153.16,372.05 L153.59,371.99 L154.01,372.11 L154.44,372.04 L154.86,372.28 L155.28,372.22 L155.71,372.14 L156.13,372.09 L156.56,372.01 L156.56,372.80 Z" fill="#ee8aa2"/>
<line x1="139.36" y1="372.60" x2="156.76" y2="372.60" stroke="#c0506a" stroke-width="1"/>
<rect x="160.30" y="354.90" width="18.60" height="19.20" rx="1" fill="#fff" stroke="#9a9a9a" stroke-width="0.9"/>
<rect x="159.70" y="354.30" width="18.60" height="19.20" rx="1" fill="#fff" stroke="#777" stroke-width="0.9"/>
<path d="M160.50,372.80 L160.50,372.09 L160.93,371.87 L161.35,371.93 L161.78,372.12 L162.20,371.91 L162.62,371.93 L163.05,372.08 L163.47,371.98 L163.90,371.79 L164.32,371.97 L164.75,371.81 L165.18,371.73 L165.60,371.93 L166.03,371.63 L166.45,371.94 L166.88,371.69 L167.30,371.60 L167.72,371.66 L168.15,371.78 L168.57,371.69 L169.00,371.66 L169.43,371.75 L169.85,371.64 L170.28,371.68 L170.70,371.86 L171.12,371.91 L171.55,371.99 L171.97,371.74 L172.40,371.66 L172.82,372.03 L173.25,372.06 L173.68,371.94 L174.10,371.92 L174.53,371.81 L174.95,372.09 L175.38,372.02 L175.80,372.05 L176.22,371.87 L176.65,372.16 L177.07,371.88 L177.50,372.16 L177.50,372.80 Z" fill="#ee8aa2"/>
<line x1="160.30" y1="372.60" x2="177.70" y2="372.60" stroke="#c0506a" stroke-width="1"/>
<rect x="181.24" y="354.90" width="18.60" height="19.20" rx="1" fill="#fff" stroke="#9a9a9a" stroke-width="0.9"/>
<rect x="180.64" y="354.30" width="18.60" height="19.20" rx="1" fill="#fff" stroke="#777" stroke-width="0.9"/>
<path d="M181.44,372.80 L181.44,371.98 L181.87,371.97 L182.29,372.27 L182.72,372.02 L183.14,371.96 L183.57,372.14 L183.99,372.06 L184.42,372.19 L184.84,372.24 L185.27,372.11 L185.69,372.13 L186.12,372.07 L186.54,371.92 L186.97,371.39 L187.39,370.58 L187.82,369.29 L188.24,367.45 L188.67,365.97 L189.09,364.92 L189.52,363.46 L189.94,361.04 L190.37,363.46 L190.79,363.89 L191.22,362.79 L191.64,364.10 L192.07,366.31 L192.49,367.18 L192.92,368.41 L193.34,369.15 L193.77,370.31 L194.19,370.85 L194.62,371.58 L195.04,371.79 L195.47,371.93 L195.89,372.02 L196.32,372.18 L196.74,372.02 L197.17,372.21 L197.59,372.02 L198.02,372.27 L198.44,372.19 L198.44,372.80 Z" fill="#ee8aa2"/>
<line x1="181.24" y1="372.60" x2="198.64" y2="372.60" stroke="#c0506a" stroke-width="1"/>
<rect x="202.18" y="354.90" width="18.60" height="19.20" rx="1" fill="#fff" stroke="#9a9a9a" stroke-width="0.9"/>
<rect x="201.58" y="354.30" width="18.60" height="19.20" rx="1" fill="#fff" stroke="#777" stroke-width="0.9"/>
<path d="M202.38,372.80 L202.38,372.07 L202.81,372.02 L203.23,372.11 L203.66,371.84 L204.08,371.98 L204.51,371.71 L204.93,371.63 L205.36,371.51 L205.78,370.85 L206.21,370.59 L206.63,370.23 L207.06,369.60 L207.48,368.96 L207.91,367.98 L208.33,366.15 L208.76,365.49 L209.18,365.28 L209.61,363.13 L210.03,362.55 L210.46,362.31 L210.88,363.44 L211.31,362.41 L211.73,361.94 L212.16,362.40 L212.58,363.80 L213.01,364.96 L213.43,365.05 L213.86,366.75 L214.28,366.82 L214.71,367.54 L215.13,367.51 L215.56,367.54 L215.98,369.07 L216.41,368.56 L216.83,369.12 L217.26,369.48 L217.68,369.66 L218.11,369.93 L218.53,370.38 L218.96,370.76 L219.38,371.38 L219.38,372.80 Z" fill="#ee8aa2"/>
<line x1="202.18" y1="372.60" x2="219.58" y2="372.60" stroke="#c0506a" stroke-width="1"/>
<rect x="223.12" y="354.90" width="18.60" height="19.20" rx="1" fill="#fff" stroke="#9a9a9a" stroke-width="0.9"/>
<rect x="222.52" y="354.30" width="18.60" height="19.20" rx="1" fill="#fff" stroke="#777" stroke-width="0.9"/>
<path d="M223.32,372.80 L223.32,372.01 L223.75,372.16 L224.17,372.22 L224.60,372.22 L225.02,372.00 L225.45,372.22 L225.87,371.96 L226.30,372.15 L226.72,372.06 L227.15,371.87 L227.57,371.89 L228.00,371.29 L228.42,371.04 L228.85,370.01 L229.27,369.23 L229.70,368.32 L230.12,366.96 L230.55,367.02 L230.97,366.34 L231.40,366.84 L231.82,367.56 L232.25,367.48 L232.67,367.91 L233.10,368.58 L233.52,369.57 L233.95,369.53 L234.37,370.56 L234.80,370.99 L235.22,371.22 L235.65,371.83 L236.07,371.79 L236.50,372.14 L236.92,372.10 L237.35,372.01 L237.77,372.12 L238.20,372.16 L238.62,372.23 L239.05,372.10 L239.47,372.09 L239.90,372.28 L240.32,372.18 L240.32,372.80 Z" fill="#ee8aa2"/>
<line x1="223.12" y1="372.60" x2="240.52" y2="372.60" stroke="#c0506a" stroke-width="1"/>
<rect x="55.60" y="376.25" width="18.60" height="19.20" rx="1" fill="#fff" stroke="#9a9a9a" stroke-width="0.9"/>
<rect x="55.00" y="375.65" width="18.60" height="19.20" rx="1" fill="#fff" stroke="#777" stroke-width="0.9"/>
<path d="M55.80,394.15 L55.80,393.19 L56.22,393.05 L56.65,392.92 L57.07,392.57 L57.50,392.35 L57.92,392.21 L58.35,392.12 L58.77,391.84 L59.20,391.76 L59.62,391.22 L60.05,390.94 L60.47,391.04 L60.90,390.49 L61.32,391.30 L61.75,390.59 L62.17,391.46 L62.60,391.27 L63.02,391.49 L63.45,391.28 L63.88,391.38 L64.30,392.11 L64.72,391.60 L65.15,391.80 L65.57,390.65 L66.00,389.99 L66.42,388.94 L66.85,388.78 L67.28,388.67 L67.70,389.50 L68.12,391.04 L68.55,392.29 L68.97,392.72 L69.40,393.23 L69.82,393.24 L70.25,393.38 L70.67,393.28 L71.10,393.35 L71.53,393.39 L71.95,393.40 L72.38,393.40 L72.80,393.51 L72.80,394.15 Z" fill="#daa455"/>
<line x1="55.60" y1="393.95" x2="73.00" y2="393.95" stroke="#a87830" stroke-width="1"/>
<rect x="76.54" y="376.25" width="18.60" height="19.20" rx="1" fill="#fff" stroke="#9a9a9a" stroke-width="0.9"/>
<rect x="75.94" y="375.65" width="18.60" height="19.20" rx="1" fill="#fff" stroke="#777" stroke-width="0.9"/>
<path d="M76.74,394.15 L76.74,393.58 L77.16,393.52 L77.59,393.54 L78.02,393.43 L78.44,393.43 L78.86,393.46 L79.29,393.39 L79.71,393.59 L80.14,393.48 L80.56,393.01 L80.99,392.86 L81.41,392.47 L81.84,391.86 L82.27,390.50 L82.69,389.22 L83.11,388.94 L83.54,386.19 L83.96,387.06 L84.39,386.78 L84.81,384.67 L85.24,386.53 L85.66,387.84 L86.09,387.81 L86.51,389.56 L86.94,389.93 L87.36,390.52 L87.79,391.91 L88.22,392.06 L88.64,392.67 L89.06,393.10 L89.49,393.09 L89.91,393.29 L90.34,393.35 L90.76,393.45 L91.19,393.59 L91.61,393.62 L92.04,393.34 L92.47,393.31 L92.89,393.42 L93.31,393.54 L93.74,393.53 L93.74,394.15 Z" fill="#daa455"/>
<line x1="76.54" y1="393.95" x2="93.94" y2="393.95" stroke="#a87830" stroke-width="1"/>
<rect x="97.48" y="376.25" width="18.60" height="19.20" rx="1" fill="#fff" stroke="#9a9a9a" stroke-width="0.9"/>
<rect x="96.88" y="375.65" width="18.60" height="19.20" rx="1" fill="#fff" stroke="#777" stroke-width="0.9"/>
<path d="M97.68,394.15 L97.68,393.58 L98.10,393.46 L98.53,393.45 L98.95,393.61 L99.38,393.30 L99.80,393.53 L100.23,393.53 L100.65,393.42 L101.08,393.35 L101.50,393.10 L101.93,393.11 L102.35,392.58 L102.78,392.05 L103.20,391.46 L103.63,390.30 L104.05,388.99 L104.48,386.35 L104.90,386.30 L105.33,384.62 L105.75,382.99 L106.18,380.99 L106.60,379.89 L107.03,379.03 L107.45,377.48 L107.88,379.81 L108.30,381.78 L108.73,381.91 L109.16,386.61 L109.58,386.32 L110.00,388.64 L110.43,390.50 L110.85,391.56 L111.28,391.92 L111.70,392.54 L112.13,392.87 L112.55,393.12 L112.98,393.22 L113.41,393.55 L113.83,393.52 L114.25,393.39 L114.68,393.39 L114.68,394.15 Z" fill="#daa455"/>
<line x1="97.48" y1="393.95" x2="114.88" y2="393.95" stroke="#a87830" stroke-width="1"/>
<rect x="118.42" y="376.25" width="18.60" height="19.20" rx="1" fill="#fff" stroke="#9a9a9a" stroke-width="0.9"/>
<rect x="117.82" y="375.65" width="18.60" height="19.20" rx="1" fill="#fff" stroke="#777" stroke-width="0.9"/>
<path d="M118.62,394.15 L118.62,393.58 L119.05,393.42 L119.47,393.32 L119.90,393.37 L120.32,393.55 L120.75,393.36 L121.17,393.30 L121.59,393.35 L122.02,392.97 L122.45,392.04 L122.87,391.06 L123.30,387.79 L123.72,386.30 L124.15,382.16 L124.57,377.15 L125.00,377.15 L125.42,377.15 L125.84,377.15 L126.27,377.15 L126.70,377.15 L127.12,377.15 L127.55,380.05 L127.97,382.71 L128.40,384.70 L128.82,386.23 L129.25,388.50 L129.67,389.68 L130.09,390.35 L130.52,391.27 L130.94,391.41 L131.37,392.02 L131.80,392.38 L132.22,392.76 L132.65,392.85 L133.07,393.19 L133.50,393.22 L133.92,393.17 L134.34,393.54 L134.77,393.55 L135.19,393.55 L135.62,393.56 L135.62,394.15 Z" fill="#daa455"/>
<line x1="118.42" y1="393.95" x2="135.82" y2="393.95" stroke="#a87830" stroke-width="1"/>
<rect x="139.36" y="376.25" width="18.60" height="19.20" rx="1" fill="#fff" stroke="#9a9a9a" stroke-width="0.9"/>
<rect x="138.76" y="375.65" width="18.60" height="19.20" rx="1" fill="#fff" stroke="#777" stroke-width="0.9"/>
<path d="M139.56,394.15 L139.56,393.44 L139.99,393.33 L140.41,393.46 L140.84,393.54 L141.26,393.49 L141.69,393.28 L142.11,393.36 L142.53,393.46 L142.96,393.01 L143.38,392.74 L143.81,392.36 L144.24,391.51 L144.66,389.67 L145.09,388.76 L145.51,387.47 L145.94,386.47 L146.36,384.61 L146.78,382.50 L147.21,384.31 L147.63,385.22 L148.06,384.45 L148.49,386.52 L148.91,387.36 L149.34,388.95 L149.76,390.60 L150.19,391.57 L150.61,392.73 L151.03,393.16 L151.46,393.13 L151.88,393.33 L152.31,393.32 L152.74,393.43 L153.16,393.53 L153.59,393.55 L154.01,393.51 L154.44,393.64 L154.86,393.47 L155.28,393.40 L155.71,393.51 L156.13,393.61 L156.56,393.62 L156.56,394.15 Z" fill="#daa455"/>
<line x1="139.36" y1="393.95" x2="156.76" y2="393.95" stroke="#a87830" stroke-width="1"/>
<rect x="160.30" y="376.25" width="18.60" height="19.20" rx="1" fill="#fff" stroke="#9a9a9a" stroke-width="0.9"/>
<rect x="159.70" y="375.65" width="18.60" height="19.20" rx="1" fill="#fff" stroke="#777" stroke-width="0.9"/>
<path d="M160.50,394.15 L160.50,393.32 L160.93,393.18 L161.35,393.17 L161.78,393.11 L162.20,393.10 L162.62,393.15 L163.05,392.92 L163.47,392.89 L163.90,392.94 L164.32,392.65 L164.75,392.46 L165.18,392.48 L165.60,392.46 L166.03,392.32 L166.45,391.91 L166.88,391.89 L167.30,391.83 L167.72,391.82 L168.15,391.68 L168.57,391.89 L169.00,391.62 L169.43,391.89 L169.85,391.90 L170.28,391.82 L170.70,392.01 L171.12,391.83 L171.55,392.27 L171.97,391.96 L172.40,392.11 L172.82,392.31 L173.25,392.61 L173.68,392.62 L174.10,392.90 L174.53,392.73 L174.95,393.05 L175.38,393.23 L175.80,393.22 L176.22,393.23 L176.65,393.39 L177.07,393.19 L177.50,393.29 L177.50,394.15 Z" fill="#daa455"/>
<line x1="160.30" y1="393.95" x2="177.70" y2="393.95" stroke="#a87830" stroke-width="1"/>
<rect x="181.24" y="376.25" width="18.60" height="19.20" rx="1" fill="#fff" stroke="#9a9a9a" stroke-width="0.9"/>
<rect x="180.64" y="375.65" width="18.60" height="19.20" rx="1" fill="#fff" stroke="#777" stroke-width="0.9"/>
<path d="M181.44,394.15 L181.44,393.61 L181.87,393.60 L182.29,393.63 L182.72,393.53 L183.14,393.59 L183.57,393.53 L183.99,393.64 L184.42,393.61 L184.84,393.61 L185.27,393.48 L185.69,393.56 L186.12,393.27 L186.54,393.09 L186.97,392.90 L187.39,391.99 L187.82,391.24 L188.24,390.20 L188.67,388.30 L189.09,387.44 L189.52,385.41 L189.94,385.06 L190.37,385.11 L190.79,386.11 L191.22,387.28 L191.64,387.38 L192.07,387.98 L192.49,389.41 L192.92,390.57 L193.34,391.52 L193.77,391.96 L194.19,392.73 L194.62,393.05 L195.04,393.27 L195.47,393.24 L195.89,393.35 L196.32,393.28 L196.74,393.55 L197.17,393.58 L197.59,393.49 L198.02,393.62 L198.44,393.57 L198.44,394.15 Z" fill="#daa455"/>
<line x1="181.24" y1="393.95" x2="198.64" y2="393.95" stroke="#a87830" stroke-width="1"/>
<rect x="202.18" y="376.25" width="18.60" height="19.20" rx="1" fill="#fff" stroke="#9a9a9a" stroke-width="0.9"/>
<rect x="201.58" y="375.65" width="18.60" height="19.20" rx="1" fill="#fff" stroke="#777" stroke-width="0.9"/>
<path d="M202.38,394.15 L202.38,393.43 L202.81,393.28 L203.23,393.31 L203.66,393.48 L204.08,393.15 L204.51,393.22 L204.93,393.11 L205.36,392.93 L205.78,392.68 L206.21,391.96 L206.63,391.70 L207.06,391.09 L207.48,390.12 L207.91,388.90 L208.33,388.40 L208.76,387.10 L209.18,387.00 L209.61,385.85 L210.03,384.38 L210.46,384.93 L210.88,385.08 L211.31,384.26 L211.73,384.48 L212.16,386.51 L212.58,387.13 L213.01,387.49 L213.43,387.29 L213.86,388.25 L214.28,388.53 L214.71,388.81 L215.13,389.66 L215.56,390.30 L215.98,389.49 L216.41,390.58 L216.83,390.22 L217.26,390.96 L217.68,391.45 L218.11,391.85 L218.53,392.06 L218.96,392.36 L219.38,392.67 L219.38,394.15 Z" fill="#daa455"/>
<line x1="202.18" y1="393.95" x2="219.58" y2="393.95" stroke="#a87830" stroke-width="1"/>
<rect x="223.12" y="376.25" width="18.60" height="19.20" rx="1" fill="#fff" stroke="#9a9a9a" stroke-width="0.9"/>
<rect x="222.52" y="375.65" width="18.60" height="19.20" rx="1" fill="#fff" stroke="#777" stroke-width="0.9"/>
<path d="M223.32,394.15 L223.32,393.56 L223.75,393.54 L224.17,393.52 L224.60,393.43 L225.02,393.40 L225.45,393.46 L225.87,393.41 L226.30,393.50 L226.72,393.49 L227.15,393.41 L227.57,393.14 L228.00,392.76 L228.42,392.21 L228.85,391.48 L229.27,391.20 L229.70,390.31 L230.12,389.12 L230.55,388.51 L230.97,388.12 L231.40,387.40 L231.82,388.05 L232.25,388.31 L232.67,389.10 L233.10,389.47 L233.52,390.30 L233.95,390.79 L234.37,391.40 L234.80,391.98 L235.22,392.70 L235.65,393.06 L236.07,393.20 L236.50,393.42 L236.92,393.28 L237.35,393.45 L237.77,393.40 L238.20,393.44 L238.62,393.56 L239.05,393.39 L239.47,393.48 L239.90,393.55 L240.32,393.55 L240.32,394.15 Z" fill="#daa455"/>
<line x1="223.12" y1="393.95" x2="240.52" y2="393.95" stroke="#a87830" stroke-width="1"/>
<rect x="55.60" y="397.60" width="18.60" height="19.20" rx="1" fill="#fff" stroke="#9a9a9a" stroke-width="0.9"/>
<rect x="55.00" y="397.00" width="18.60" height="19.20" rx="1" fill="#fff" stroke="#777" stroke-width="0.9"/>
<path d="M55.80,415.50 L55.80,414.65 L56.22,414.21 L56.65,414.06 L57.07,414.01 L57.50,413.84 L57.92,413.38 L58.35,412.84 L58.77,412.78 L59.20,411.72 L59.62,411.14 L60.05,410.23 L60.47,410.19 L60.90,409.33 L61.32,409.90 L61.75,408.94 L62.17,409.49 L62.60,410.42 L63.02,410.05 L63.45,410.25 L63.88,410.70 L64.30,411.65 L64.72,412.34 L65.15,412.08 L65.57,411.33 L66.00,410.35 L66.42,408.12 L66.85,407.32 L67.28,407.36 L67.70,408.70 L68.12,411.42 L68.55,412.62 L68.97,413.57 L69.40,414.48 L69.82,414.80 L70.25,414.88 L70.67,414.71 L71.10,414.81 L71.53,414.73 L71.95,414.86 L72.38,414.91 L72.80,414.70 L72.80,415.50 Z" fill="#a8b048"/>
<line x1="55.60" y1="415.30" x2="73.00" y2="415.30" stroke="#7a8430" stroke-width="1"/>
<rect x="76.54" y="397.60" width="18.60" height="19.20" rx="1" fill="#fff" stroke="#9a9a9a" stroke-width="0.9"/>
<rect x="75.94" y="397.00" width="18.60" height="19.20" rx="1" fill="#fff" stroke="#777" stroke-width="0.9"/>
<path d="M76.74,415.50 L76.74,414.78 L77.16,414.82 L77.59,414.95 L78.02,414.79 L78.44,414.77 L78.86,414.69 L79.29,414.68 L79.71,414.81 L80.14,414.81 L80.56,414.54 L80.99,413.87 L81.41,413.37 L81.84,412.48 L82.27,411.08 L82.69,408.40 L83.11,406.61 L83.54,404.90 L83.96,405.28 L84.39,403.69 L84.81,402.98 L85.24,405.65 L85.66,404.94 L86.09,407.62 L86.51,409.71 L86.94,411.03 L87.36,411.43 L87.79,412.91 L88.22,413.74 L88.64,414.06 L89.06,414.45 L89.49,414.72 L89.91,414.67 L90.34,414.87 L90.76,414.68 L91.19,414.71 L91.61,414.83 L92.04,414.98 L92.47,414.66 L92.89,414.88 L93.31,414.73 L93.74,414.78 L93.74,415.50 Z" fill="#a8b048"/>
<line x1="76.54" y1="415.30" x2="93.94" y2="415.30" stroke="#7a8430" stroke-width="1"/>
<rect x="97.48" y="397.60" width="18.60" height="19.20" rx="1" fill="#fff" stroke="#9a9a9a" stroke-width="0.9"/>
<rect x="96.88" y="397.00" width="18.60" height="19.20" rx="1" fill="#fff" stroke="#777" stroke-width="0.9"/>
<path d="M97.68,415.50 L97.68,414.81 L98.10,414.73 L98.53,414.93 L98.95,414.95 L99.38,414.70 L99.80,414.85 L100.23,414.55 L100.65,414.58 L101.08,414.24 L101.50,414.10 L101.93,413.66 L102.35,413.21 L102.78,412.36 L103.20,410.66 L103.63,410.36 L104.05,407.45 L104.48,405.76 L104.90,405.29 L105.33,404.35 L105.75,401.12 L106.18,399.64 L106.60,400.23 L107.03,398.50 L107.45,400.80 L107.88,399.01 L108.30,402.66 L108.73,403.73 L109.16,405.39 L109.58,406.65 L110.00,407.69 L110.43,410.41 L110.85,410.81 L111.28,412.02 L111.70,412.84 L112.13,413.64 L112.55,414.23 L112.98,414.23 L113.41,414.39 L113.83,414.78 L114.25,414.70 L114.68,414.79 L114.68,415.50 Z" fill="#a8b048"/>
<line x1="97.48" y1="415.30" x2="114.88" y2="415.30" stroke="#7a8430" stroke-width="1"/>
<rect x="118.42" y="397.60" width="18.60" height="19.20" rx="1" fill="#fff" stroke="#9a9a9a" stroke-width="0.9"/>
<rect x="117.82" y="397.00" width="18.60" height="19.20" rx="1" fill="#fff" stroke="#777" stroke-width="0.9"/>
<path d="M118.62,415.50 L118.62,414.85 L119.05,414.90 L119.47,414.69 L119.90,414.75 L120.32,414.56 L120.75,414.68 L121.17,414.33 L121.59,414.24 L122.02,413.26 L122.45,412.34 L122.87,410.95 L123.30,409.24 L123.72,408.99 L124.15,407.34 L124.57,406.01 L125.00,405.55 L125.42,402.80 L125.84,404.15 L126.27,406.30 L126.70,407.15 L127.12,406.85 L127.55,408.14 L127.97,410.09 L128.40,410.45 L128.82,411.31 L129.25,412.39 L129.67,412.86 L130.09,413.31 L130.52,413.32 L130.94,413.61 L131.37,413.95 L131.80,414.11 L132.22,414.61 L132.65,414.67 L133.07,414.59 L133.50,414.59 L133.92,414.64 L134.34,414.88 L134.77,414.90 L135.19,414.71 L135.62,414.72 L135.62,415.50 Z" fill="#a8b048"/>
<line x1="118.42" y1="415.30" x2="135.82" y2="415.30" stroke="#7a8430" stroke-width="1"/>
<rect x="139.36" y="397.60" width="18.60" height="19.20" rx="1" fill="#fff" stroke="#9a9a9a" stroke-width="0.9"/>
<rect x="138.76" y="397.00" width="18.60" height="19.20" rx="1" fill="#fff" stroke="#777" stroke-width="0.9"/>
<path d="M139.56,415.50 L139.56,414.84 L139.99,414.92 L140.41,414.91 L140.84,414.84 L141.26,414.74 L141.69,414.65 L142.11,414.80 L142.53,414.73 L142.96,414.77 L143.38,414.58 L143.81,414.11 L144.24,413.70 L144.66,412.71 L145.09,411.42 L145.51,409.70 L145.94,407.32 L146.36,405.82 L146.78,404.27 L147.21,403.69 L147.63,405.19 L148.06,405.71 L148.49,408.47 L148.91,409.32 L149.34,411.72 L149.76,412.78 L150.19,413.49 L150.61,414.09 L151.03,414.64 L151.46,414.69 L151.88,414.67 L152.31,414.94 L152.74,414.77 L153.16,414.91 L153.59,414.81 L154.01,414.83 L154.44,414.90 L154.86,414.84 L155.28,414.75 L155.71,414.89 L156.13,414.72 L156.56,414.70 L156.56,415.50 Z" fill="#a8b048"/>
<line x1="139.36" y1="415.30" x2="156.76" y2="415.30" stroke="#7a8430" stroke-width="1"/>
<rect x="160.30" y="397.60" width="18.60" height="19.20" rx="1" fill="#fff" stroke="#9a9a9a" stroke-width="0.9"/>
<rect x="159.70" y="397.00" width="18.60" height="19.20" rx="1" fill="#fff" stroke="#777" stroke-width="0.9"/>
<path d="M160.50,415.50 L160.50,414.65 L160.93,414.50 L161.35,414.46 L161.78,414.39 L162.20,414.14 L162.62,414.06 L163.05,413.80 L163.47,413.23 L163.90,413.30 L164.32,412.76 L164.75,412.41 L165.18,411.69 L165.60,410.98 L166.03,410.83 L166.45,408.66 L166.88,409.81 L167.30,407.95 L167.72,407.83 L168.15,407.17 L168.57,406.74 L169.00,407.40 L169.43,407.73 L169.85,407.19 L170.28,407.20 L170.70,408.76 L171.12,408.81 L171.55,408.86 L171.97,409.58 L172.40,410.82 L172.82,411.72 L173.25,412.31 L173.68,412.65 L174.10,413.28 L174.53,413.28 L174.95,413.94 L175.38,413.99 L175.80,414.17 L176.22,414.57 L176.65,414.66 L177.07,414.58 L177.50,414.62 L177.50,415.50 Z" fill="#a8b048"/>
<line x1="160.30" y1="415.30" x2="177.70" y2="415.30" stroke="#7a8430" stroke-width="1"/>
<rect x="181.24" y="397.60" width="18.60" height="19.20" rx="1" fill="#fff" stroke="#9a9a9a" stroke-width="0.9"/>
<rect x="180.64" y="397.00" width="18.60" height="19.20" rx="1" fill="#fff" stroke="#777" stroke-width="0.9"/>
<path d="M181.44,415.50 L181.44,414.96 L181.87,414.81 L182.29,414.74 L182.72,414.93 L183.14,414.70 L183.57,414.66 L183.99,414.91 L184.42,414.70 L184.84,414.68 L185.27,414.80 L185.69,414.81 L186.12,414.72 L186.54,414.58 L186.97,414.40 L187.39,414.04 L187.82,413.17 L188.24,412.60 L188.67,411.64 L189.09,410.05 L189.52,408.95 L189.94,407.59 L190.37,407.44 L190.79,407.99 L191.22,409.71 L191.64,410.55 L192.07,411.92 L192.49,412.56 L192.92,413.38 L193.34,414.19 L193.77,414.37 L194.19,414.50 L194.62,414.60 L195.04,414.81 L195.47,414.81 L195.89,414.65 L196.32,414.92 L196.74,414.77 L197.17,414.96 L197.59,414.78 L198.02,414.91 L198.44,414.88 L198.44,415.50 Z" fill="#a8b048"/>
<line x1="181.24" y1="415.30" x2="198.64" y2="415.30" stroke="#7a8430" stroke-width="1"/>
<rect x="202.18" y="397.60" width="18.60" height="19.20" rx="1" fill="#fff" stroke="#9a9a9a" stroke-width="0.9"/>
<rect x="201.58" y="397.00" width="18.60" height="19.20" rx="1" fill="#fff" stroke="#777" stroke-width="0.9"/>
<path d="M202.38,415.50 L202.38,414.95 L202.81,414.87 L203.23,414.89 L203.66,414.65 L204.08,414.42 L204.51,414.51 L204.93,414.16 L205.36,413.97 L205.78,413.56 L206.21,413.21 L206.63,412.76 L207.06,412.23 L207.48,411.41 L207.91,409.72 L208.33,408.83 L208.76,407.83 L209.18,407.03 L209.61,406.29 L210.03,404.29 L210.46,404.46 L210.88,404.78 L211.31,404.37 L211.73,406.47 L212.16,408.40 L212.58,409.77 L213.01,410.08 L213.43,411.83 L213.86,412.52 L214.28,413.57 L214.71,414.04 L215.13,414.47 L215.56,414.70 L215.98,414.54 L216.41,414.80 L216.83,414.65 L217.26,414.76 L217.68,414.88 L218.11,414.86 L218.53,414.75 L218.96,414.67 L219.38,414.94 L219.38,415.50 Z" fill="#a8b048"/>
<line x1="202.18" y1="415.30" x2="219.58" y2="415.30" stroke="#7a8430" stroke-width="1"/>
<rect x="223.12" y="397.60" width="18.60" height="19.20" rx="1" fill="#fff" stroke="#9a9a9a" stroke-width="0.9"/>
<rect x="222.52" y="397.00" width="18.60" height="19.20" rx="1" fill="#fff" stroke="#777" stroke-width="0.9"/>
<path d="M223.32,415.50 L223.32,414.76 L223.75,414.82 L224.17,414.70 L224.60,414.95 L225.02,414.78 L225.45,414.76 L225.87,414.82 L226.30,414.71 L226.72,414.33 L227.15,414.06 L227.57,413.75 L228.00,413.13 L228.42,412.65 L228.85,411.00 L229.27,409.61 L229.70,408.47 L230.12,408.57 L230.55,408.61 L230.97,407.88 L231.40,406.93 L231.82,409.02 L232.25,409.81 L232.67,410.06 L233.10,411.59 L233.52,412.07 L233.95,412.72 L234.37,413.77 L234.80,414.33 L235.22,414.31 L235.65,414.63 L236.07,414.86 L236.50,414.66 L236.92,414.75 L237.35,414.68 L237.77,414.66 L238.20,414.65 L238.62,414.98 L239.05,414.96 L239.47,414.98 L239.90,414.73 L240.32,414.97 L240.32,415.50 Z" fill="#a8b048"/>
<line x1="223.12" y1="415.30" x2="240.52" y2="415.30" stroke="#7a8430" stroke-width="1"/>
<rect x="55.60" y="418.95" width="18.60" height="19.20" rx="1" fill="#fff" stroke="#9a9a9a" stroke-width="0.9"/>
<rect x="55.00" y="418.35" width="18.60" height="19.20" rx="1" fill="#fff" stroke="#777" stroke-width="0.9"/>
<path d="M55.80,436.85 L55.80,435.99 L56.22,435.99 L56.65,435.82 L57.07,435.74 L57.50,435.57 L57.92,435.17 L58.35,434.68 L58.77,434.20 L59.20,433.94 L59.62,433.04 L60.05,432.49 L60.47,431.60 L60.90,431.01 L61.32,430.86 L61.75,429.28 L62.17,430.98 L62.60,430.30 L63.02,431.35 L63.45,431.76 L63.88,432.91 L64.30,433.07 L64.72,433.57 L65.15,433.83 L65.57,432.57 L66.00,431.59 L66.42,429.89 L66.85,428.93 L67.28,428.86 L67.70,430.49 L68.12,432.16 L68.55,434.40 L68.97,435.25 L69.40,435.83 L69.82,436.01 L70.25,436.27 L70.67,436.17 L71.10,436.22 L71.53,436.32 L71.95,436.10 L72.38,436.31 L72.80,436.16 L72.80,436.85 Z" fill="#48b478"/>
<line x1="55.60" y1="436.65" x2="73.00" y2="436.65" stroke="#2a8a50" stroke-width="1"/>
<rect x="76.54" y="418.95" width="18.60" height="19.20" rx="1" fill="#fff" stroke="#9a9a9a" stroke-width="0.9"/>
<rect x="75.94" y="418.35" width="18.60" height="19.20" rx="1" fill="#fff" stroke="#777" stroke-width="0.9"/>
<path d="M76.74,436.85 L76.74,436.21 L77.16,436.01 L77.59,436.13 L78.02,436.13 L78.44,436.08 L78.86,436.05 L79.29,436.01 L79.71,436.23 L80.14,436.29 L80.56,435.97 L80.99,435.91 L81.41,435.09 L81.84,434.29 L82.27,432.23 L82.69,431.12 L83.11,428.48 L83.54,424.38 L83.96,422.93 L84.39,421.96 L84.81,422.81 L85.24,423.69 L85.66,425.77 L86.09,428.35 L86.51,429.51 L86.94,430.33 L87.36,431.06 L87.79,431.95 L88.22,431.41 L88.64,432.56 L89.06,433.41 L89.49,434.75 L89.91,435.32 L90.34,435.63 L90.76,435.80 L91.19,436.03 L91.61,436.26 L92.04,436.27 L92.47,436.31 L92.89,436.23 L93.31,436.01 L93.74,436.08 L93.74,436.85 Z" fill="#48b478"/>
<line x1="76.54" y1="436.65" x2="93.94" y2="436.65" stroke="#2a8a50" stroke-width="1"/>
<rect x="97.48" y="418.95" width="18.60" height="19.20" rx="1" fill="#fff" stroke="#9a9a9a" stroke-width="0.9"/>
<rect x="96.88" y="418.35" width="18.60" height="19.20" rx="1" fill="#fff" stroke="#777" stroke-width="0.9"/>
<path d="M97.68,436.85 L97.68,436.31 L98.10,436.04 L98.53,436.12 L98.95,436.00 L99.38,435.92 L99.80,435.97 L100.23,435.83 L100.65,435.52 L101.08,435.20 L101.50,434.94 L101.93,434.32 L102.35,433.95 L102.78,432.80 L103.20,432.00 L103.63,429.67 L104.05,428.81 L104.48,428.73 L104.90,426.53 L105.33,426.02 L105.75,426.29 L106.18,426.17 L106.60,424.52 L107.03,424.59 L107.45,426.21 L107.88,428.13 L108.30,428.48 L108.73,430.58 L109.16,431.90 L109.58,432.66 L110.00,433.58 L110.43,434.66 L110.85,434.84 L111.28,435.63 L111.70,435.65 L112.13,435.87 L112.55,436.06 L112.98,436.20 L113.41,436.10 L113.83,436.14 L114.25,436.30 L114.68,436.32 L114.68,436.85 Z" fill="#48b478"/>
<line x1="97.48" y1="436.65" x2="114.88" y2="436.65" stroke="#2a8a50" stroke-width="1"/>
<rect x="118.42" y="418.95" width="18.60" height="19.20" rx="1" fill="#fff" stroke="#9a9a9a" stroke-width="0.9"/>
<rect x="117.82" y="418.35" width="18.60" height="19.20" rx="1" fill="#fff" stroke="#777" stroke-width="0.9"/>
<path d="M118.62,436.85 L118.62,436.03 L119.05,436.06 L119.47,436.34 L119.90,436.07 L120.32,436.10 L120.75,436.28 L121.17,436.07 L121.59,436.05 L122.02,435.68 L122.45,435.21 L122.87,434.65 L123.30,433.78 L123.72,432.67 L124.15,431.92 L124.57,430.43 L125.00,429.26 L125.42,428.43 L125.84,429.46 L126.27,430.01 L126.70,431.03 L127.12,430.77 L127.55,432.01 L127.97,432.83 L128.40,433.32 L128.82,434.19 L129.25,434.17 L129.67,434.40 L130.09,434.55 L130.52,434.91 L130.94,435.00 L131.37,435.58 L131.80,435.57 L132.22,435.95 L132.65,435.98 L133.07,436.04 L133.50,435.97 L133.92,436.00 L134.34,436.22 L134.77,436.13 L135.19,436.09 L135.62,436.20 L135.62,436.85 Z" fill="#48b478"/>
<line x1="118.42" y1="436.65" x2="135.82" y2="436.65" stroke="#2a8a50" stroke-width="1"/>
<rect x="139.36" y="418.95" width="18.60" height="19.20" rx="1" fill="#fff" stroke="#9a9a9a" stroke-width="0.9"/>
<rect x="138.76" y="418.35" width="18.60" height="19.20" rx="1" fill="#fff" stroke="#777" stroke-width="0.9"/>
<path d="M139.56,436.85 L139.56,436.16 L139.99,436.01 L140.41,436.20 L140.84,436.06 L141.26,436.24 L141.69,436.00 L142.11,436.31 L142.53,436.22 L142.96,436.00 L143.38,435.84 L143.81,435.45 L144.24,435.02 L144.66,434.41 L145.09,433.15 L145.51,431.76 L145.94,430.02 L146.36,429.38 L146.78,428.30 L147.21,427.37 L147.63,429.28 L148.06,428.77 L148.49,430.85 L148.91,431.84 L149.34,432.83 L149.76,434.30 L150.19,435.00 L150.61,435.55 L151.03,436.01 L151.46,435.97 L151.88,436.28 L152.31,436.30 L152.74,436.13 L153.16,436.33 L153.59,436.25 L154.01,436.26 L154.44,436.19 L154.86,436.04 L155.28,436.12 L155.71,436.10 L156.13,436.24 L156.56,436.02 L156.56,436.85 Z" fill="#48b478"/>
<line x1="139.36" y1="436.65" x2="156.76" y2="436.65" stroke="#2a8a50" stroke-width="1"/>
<rect x="160.30" y="418.95" width="18.60" height="19.20" rx="1" fill="#fff" stroke="#9a9a9a" stroke-width="0.9"/>
<rect x="159.70" y="418.35" width="18.60" height="19.20" rx="1" fill="#fff" stroke="#777" stroke-width="0.9"/>
<path d="M160.50,436.85 L160.50,435.91 L160.93,436.04 L161.35,436.02 L161.78,435.82 L162.20,435.60 L162.62,435.36 L163.05,435.17 L163.47,434.87 L163.90,434.15 L164.32,433.43 L164.75,433.15 L165.18,432.50 L165.60,431.60 L166.03,429.64 L166.45,430.40 L166.88,429.09 L167.30,428.19 L167.72,425.68 L168.15,427.35 L168.57,426.20 L169.00,423.82 L169.43,425.32 L169.85,425.78 L170.28,424.37 L170.70,426.86 L171.12,428.19 L171.55,428.86 L171.97,428.58 L172.40,429.53 L172.82,430.90 L173.25,431.56 L173.68,432.15 L174.10,433.03 L174.53,433.45 L174.95,434.68 L175.38,434.66 L175.80,435.26 L176.22,435.59 L176.65,435.59 L177.07,435.93 L177.50,435.75 L177.50,436.85 Z" fill="#48b478"/>
<line x1="160.30" y1="436.65" x2="177.70" y2="436.65" stroke="#2a8a50" stroke-width="1"/>
<rect x="181.24" y="418.95" width="18.60" height="19.20" rx="1" fill="#fff" stroke="#9a9a9a" stroke-width="0.9"/>
<rect x="180.64" y="418.35" width="18.60" height="19.20" rx="1" fill="#fff" stroke="#777" stroke-width="0.9"/>
<path d="M181.44,436.85 L181.44,436.26 L181.87,436.22 L182.29,436.06 L182.72,436.26 L183.14,436.30 L183.57,436.04 L183.99,436.21 L184.42,436.11 L184.84,436.18 L185.27,436.04 L185.69,436.07 L186.12,436.17 L186.54,435.95 L186.97,435.83 L187.39,435.04 L187.82,434.12 L188.24,433.23 L188.67,431.62 L189.09,431.11 L189.52,428.34 L189.94,427.82 L190.37,428.61 L190.79,429.95 L191.22,431.04 L191.64,433.23 L192.07,434.69 L192.49,435.30 L192.92,435.92 L193.34,435.86 L193.77,436.05 L194.19,436.08 L194.62,436.27 L195.04,436.22 L195.47,436.09 L195.89,436.26 L196.32,436.17 L196.74,436.15 L197.17,436.31 L197.59,436.01 L198.02,436.14 L198.44,436.27 L198.44,436.85 Z" fill="#48b478"/>
<line x1="181.24" y1="436.65" x2="198.64" y2="436.65" stroke="#2a8a50" stroke-width="1"/>
<rect x="202.18" y="418.95" width="18.60" height="19.20" rx="1" fill="#fff" stroke="#9a9a9a" stroke-width="0.9"/>
<rect x="201.58" y="418.35" width="18.60" height="19.20" rx="1" fill="#fff" stroke="#777" stroke-width="0.9"/>
<path d="M202.38,436.85 L202.38,436.00 L202.81,436.31 L203.23,436.08 L203.66,436.12 L204.08,436.32 L204.51,436.15 L204.93,436.31 L205.36,436.09 L205.78,436.30 L206.21,436.25 L206.63,436.14 L207.06,435.73 L207.48,435.40 L207.91,434.84 L208.33,434.08 L208.76,432.11 L209.18,430.57 L209.61,429.48 L210.03,426.57 L210.46,427.03 L210.88,424.79 L211.31,425.90 L211.73,427.10 L212.16,428.64 L212.58,431.39 L213.01,433.01 L213.43,433.81 L213.86,435.11 L214.28,435.61 L214.71,435.78 L215.13,435.95 L215.56,436.01 L215.98,436.30 L216.41,436.31 L216.83,436.05 L217.26,436.08 L217.68,436.30 L218.11,436.18 L218.53,436.13 L218.96,436.20 L219.38,436.13 L219.38,436.85 Z" fill="#48b478"/>
<line x1="202.18" y1="436.65" x2="219.58" y2="436.65" stroke="#2a8a50" stroke-width="1"/>
<rect x="223.12" y="418.95" width="18.60" height="19.20" rx="1" fill="#fff" stroke="#9a9a9a" stroke-width="0.9"/>
<rect x="222.52" y="418.35" width="18.60" height="19.20" rx="1" fill="#fff" stroke="#777" stroke-width="0.9"/>
<path d="M223.32,436.85 L223.32,436.11 L223.75,436.05 L224.17,436.32 L224.60,436.18 L225.02,436.06 L225.45,436.09 L225.87,435.92 L226.30,435.99 L226.72,435.67 L227.15,435.22 L227.57,434.93 L228.00,434.35 L228.42,433.50 L228.85,433.10 L229.27,431.62 L229.70,432.06 L230.12,430.65 L230.55,431.15 L230.97,430.90 L231.40,429.89 L231.82,431.12 L232.25,432.03 L232.67,432.36 L233.10,432.70 L233.52,433.76 L233.95,434.36 L234.37,434.80 L234.80,435.50 L235.22,435.47 L235.65,435.80 L236.07,435.93 L236.50,436.18 L236.92,435.97 L237.35,436.22 L237.77,436.01 L238.20,436.11 L238.62,436.28 L239.05,436.09 L239.47,436.23 L239.90,436.18 L240.32,436.33 L240.32,436.85 Z" fill="#48b478"/>
<line x1="223.12" y1="436.65" x2="240.52" y2="436.65" stroke="#2a8a50" stroke-width="1"/>
<rect x="55.60" y="440.30" width="18.60" height="19.20" rx="1" fill="#fff" stroke="#9a9a9a" stroke-width="0.9"/>
<rect x="55.00" y="439.70" width="18.60" height="19.20" rx="1" fill="#fff" stroke="#777" stroke-width="0.9"/>
<path d="M55.80,458.20 L55.80,457.32 L56.22,457.35 L56.65,457.03 L57.07,456.87 L57.50,456.59 L57.92,456.58 L58.35,456.08 L58.77,456.02 L59.20,455.31 L59.62,454.67 L60.05,455.20 L60.47,454.74 L60.90,454.68 L61.32,454.06 L61.75,454.27 L62.17,454.55 L62.60,454.39 L63.02,454.44 L63.45,454.63 L63.88,455.23 L64.30,455.58 L64.72,455.71 L65.15,455.91 L65.57,454.42 L66.00,452.84 L66.42,452.55 L66.85,451.61 L67.28,451.32 L67.70,452.20 L68.12,454.26 L68.55,456.10 L68.97,456.83 L69.40,457.39 L69.82,457.60 L70.25,457.58 L70.67,457.39 L71.10,457.42 L71.53,457.38 L71.95,457.60 L72.38,457.66 L72.80,457.46 L72.80,458.20 Z" fill="#40b4a8"/>
<line x1="55.60" y1="458.00" x2="73.00" y2="458.00" stroke="#228a80" stroke-width="1"/>
<rect x="76.54" y="440.30" width="18.60" height="19.20" rx="1" fill="#fff" stroke="#9a9a9a" stroke-width="0.9"/>
<rect x="75.94" y="439.70" width="18.60" height="19.20" rx="1" fill="#fff" stroke="#777" stroke-width="0.9"/>
<path d="M76.74,458.20 L76.74,457.48 L77.16,457.65 L77.59,457.57 L78.02,457.59 L78.44,457.40 L78.86,457.63 L79.29,457.58 L79.71,457.38 L80.14,457.53 L80.56,457.32 L80.99,457.44 L81.41,457.36 L81.84,457.25 L82.27,457.38 L82.69,457.26 L83.11,457.33 L83.54,457.23 L83.96,456.93 L84.39,456.89 L84.81,457.09 L85.24,456.91 L85.66,457.08 L86.09,457.02 L86.51,456.98 L86.94,457.13 L87.36,457.20 L87.79,457.06 L88.22,457.32 L88.64,457.21 L89.06,457.26 L89.49,457.32 L89.91,457.27 L90.34,457.50 L90.76,457.47 L91.19,457.37 L91.61,457.59 L92.04,457.35 L92.47,457.67 L92.89,457.42 L93.31,457.45 L93.74,457.50 L93.74,458.20 Z" fill="#40b4a8"/>
<line x1="76.54" y1="458.00" x2="93.94" y2="458.00" stroke="#228a80" stroke-width="1"/>
<rect x="97.48" y="440.30" width="18.60" height="19.20" rx="1" fill="#fff" stroke="#9a9a9a" stroke-width="0.9"/>
<rect x="96.88" y="439.70" width="18.60" height="19.20" rx="1" fill="#fff" stroke="#777" stroke-width="0.9"/>
<path d="M97.68,458.20 L97.68,457.38 L98.10,457.58 L98.53,457.60 L98.95,457.42 L99.38,457.38 L99.80,457.52 L100.23,457.49 L100.65,457.40 L101.08,457.59 L101.50,457.54 L101.93,457.51 L102.35,457.30 L102.78,456.78 L103.20,456.23 L103.63,455.62 L104.05,454.60 L104.48,453.11 L104.90,449.47 L105.33,447.64 L105.75,446.51 L106.18,445.48 L106.60,443.25 L107.03,441.20 L107.45,442.63 L107.88,442.78 L108.30,447.46 L108.73,446.82 L109.16,451.22 L109.58,452.82 L110.00,454.59 L110.43,455.43 L110.85,456.33 L111.28,456.76 L111.70,457.27 L112.13,457.16 L112.55,457.43 L112.98,457.63 L113.41,457.37 L113.83,457.45 L114.25,457.64 L114.68,457.65 L114.68,458.20 Z" fill="#40b4a8"/>
<line x1="97.48" y1="458.00" x2="114.88" y2="458.00" stroke="#228a80" stroke-width="1"/>
<rect x="118.42" y="440.30" width="18.60" height="19.20" rx="1" fill="#fff" stroke="#9a9a9a" stroke-width="0.9"/>
<rect x="117.82" y="439.70" width="18.60" height="19.20" rx="1" fill="#fff" stroke="#777" stroke-width="0.9"/>
<path d="M118.62,458.20 L118.62,457.50 L119.05,457.65 L119.47,457.38 L119.90,457.63 L120.32,457.57 L120.75,457.61 L121.17,457.30 L121.59,457.20 L122.02,457.09 L122.45,457.04 L122.87,456.50 L123.30,455.54 L123.72,454.70 L124.15,453.63 L124.57,453.18 L125.00,452.46 L125.42,452.50 L125.84,452.85 L126.27,453.56 L126.70,454.29 L127.12,454.71 L127.55,455.60 L127.97,456.38 L128.40,456.87 L128.82,456.98 L129.25,457.47 L129.67,457.39 L130.09,457.55 L130.52,457.52 L130.94,457.51 L131.37,457.69 L131.80,457.46 L132.22,457.67 L132.65,457.47 L133.07,457.61 L133.50,457.40 L133.92,457.48 L134.34,457.63 L134.77,457.52 L135.19,457.54 L135.62,457.69 L135.62,458.20 Z" fill="#40b4a8"/>
<line x1="118.42" y1="458.00" x2="135.82" y2="458.00" stroke="#228a80" stroke-width="1"/>
<rect x="139.36" y="440.30" width="18.60" height="19.20" rx="1" fill="#fff" stroke="#9a9a9a" stroke-width="0.9"/>
<rect x="138.76" y="439.70" width="18.60" height="19.20" rx="1" fill="#fff" stroke="#777" stroke-width="0.9"/>
<path d="M139.56,458.20 L139.56,457.62 L139.99,457.44 L140.41,457.53 L140.84,457.37 L141.26,457.45 L141.69,457.38 L142.11,457.64 L142.53,457.32 L142.96,457.53 L143.38,457.37 L143.81,457.05 L144.24,456.64 L144.66,456.01 L145.09,455.44 L145.51,454.78 L145.94,453.71 L146.36,452.55 L146.78,451.96 L147.21,450.96 L147.63,452.22 L148.06,452.60 L148.49,453.43 L148.91,453.95 L149.34,455.22 L149.76,456.10 L150.19,456.89 L150.61,457.08 L151.03,457.16 L151.46,457.25 L151.88,457.52 L152.31,457.45 L152.74,457.48 L153.16,457.53 L153.59,457.47 L154.01,457.61 L154.44,457.51 L154.86,457.61 L155.28,457.66 L155.71,457.42 L156.13,457.46 L156.56,457.56 L156.56,458.20 Z" fill="#40b4a8"/>
<line x1="139.36" y1="458.00" x2="156.76" y2="458.00" stroke="#228a80" stroke-width="1"/>
<rect x="160.30" y="440.30" width="18.60" height="19.20" rx="1" fill="#fff" stroke="#9a9a9a" stroke-width="0.9"/>
<rect x="159.70" y="439.70" width="18.60" height="19.20" rx="1" fill="#fff" stroke="#777" stroke-width="0.9"/>
<path d="M160.50,458.20 L160.50,457.41 L160.93,457.35 L161.35,457.44 L161.78,457.37 L162.20,457.33 L162.62,457.19 L163.05,457.10 L163.47,457.11 L163.90,456.94 L164.32,456.90 L164.75,456.58 L165.18,456.66 L165.60,456.49 L166.03,456.42 L166.45,456.04 L166.88,456.27 L167.30,455.90 L167.72,455.68 L168.15,455.67 L168.57,455.81 L169.00,455.90 L169.43,455.88 L169.85,456.23 L170.28,456.20 L170.70,456.37 L171.12,456.25 L171.55,456.51 L171.97,456.78 L172.40,456.74 L172.82,457.03 L173.25,457.26 L173.68,457.03 L174.10,457.27 L174.53,457.35 L174.95,457.33 L175.38,457.36 L175.80,457.41 L176.22,457.34 L176.65,457.45 L177.07,457.51 L177.50,457.49 L177.50,458.20 Z" fill="#40b4a8"/>
<line x1="160.30" y1="458.00" x2="177.70" y2="458.00" stroke="#228a80" stroke-width="1"/>
<rect x="181.24" y="440.30" width="18.60" height="19.20" rx="1" fill="#fff" stroke="#9a9a9a" stroke-width="0.9"/>
<rect x="180.64" y="439.70" width="18.60" height="19.20" rx="1" fill="#fff" stroke="#777" stroke-width="0.9"/>
<path d="M181.44,458.20 L181.44,457.54 L181.87,457.57 L182.29,457.61 L182.72,457.57 L183.14,457.56 L183.57,457.46 L183.99,457.48 L184.42,457.46 L184.84,457.41 L185.27,457.47 L185.69,457.47 L186.12,457.44 L186.54,457.29 L186.97,456.71 L187.39,456.62 L187.82,455.90 L188.24,455.14 L188.67,454.35 L189.09,453.27 L189.52,452.07 L189.94,452.19 L190.37,452.90 L190.79,452.63 L191.22,453.55 L191.64,454.38 L192.07,455.38 L192.49,456.05 L192.92,456.76 L193.34,457.07 L193.77,457.23 L194.19,457.45 L194.62,457.52 L195.04,457.53 L195.47,457.53 L195.89,457.35 L196.32,457.45 L196.74,457.45 L197.17,457.68 L197.59,457.62 L198.02,457.39 L198.44,457.41 L198.44,458.20 Z" fill="#40b4a8"/>
<line x1="181.24" y1="458.00" x2="198.64" y2="458.00" stroke="#228a80" stroke-width="1"/>
<rect x="202.18" y="440.30" width="18.60" height="19.20" rx="1" fill="#fff" stroke="#9a9a9a" stroke-width="0.9"/>
<rect x="201.58" y="439.70" width="18.60" height="19.20" rx="1" fill="#fff" stroke="#777" stroke-width="0.9"/>
<path d="M202.38,458.20 L202.38,457.67 L202.81,457.42 L203.23,457.35 L203.66,457.65 L204.08,457.50 L204.51,457.54 L204.93,457.51 L205.36,457.28 L205.78,457.18 L206.21,456.92 L206.63,456.41 L207.06,455.95 L207.48,455.09 L207.91,454.61 L208.33,453.76 L208.76,452.71 L209.18,449.89 L209.61,449.44 L210.03,448.73 L210.46,446.40 L210.88,446.39 L211.31,448.21 L211.73,446.77 L212.16,448.83 L212.58,449.25 L213.01,452.01 L213.43,451.75 L213.86,453.02 L214.28,452.81 L214.71,453.66 L215.13,453.72 L215.56,454.36 L215.98,454.18 L216.41,453.75 L216.83,454.29 L217.26,454.11 L217.68,454.74 L218.11,455.31 L218.53,455.58 L218.96,456.40 L219.38,456.34 L219.38,458.20 Z" fill="#40b4a8"/>
<line x1="202.18" y1="458.00" x2="219.58" y2="458.00" stroke="#228a80" stroke-width="1"/>
<rect x="223.12" y="440.30" width="18.60" height="19.20" rx="1" fill="#fff" stroke="#9a9a9a" stroke-width="0.9"/>
<rect x="222.52" y="439.70" width="18.60" height="19.20" rx="1" fill="#fff" stroke="#777" stroke-width="0.9"/>
<path d="M223.32,458.20 L223.32,457.43 L223.75,457.65 L224.17,457.47 L224.60,457.50 L225.02,457.36 L225.45,457.36 L225.87,457.57 L226.30,457.45 L226.72,457.40 L227.15,457.39 L227.57,457.02 L228.00,456.34 L228.42,455.41 L228.85,454.59 L229.27,453.36 L229.70,453.22 L230.12,452.07 L230.55,450.93 L230.97,452.30 L231.40,451.79 L231.82,451.88 L232.25,451.39 L232.67,452.23 L233.10,453.11 L233.52,453.65 L233.95,454.50 L234.37,455.55 L234.80,456.45 L235.22,456.82 L235.65,457.37 L236.07,457.58 L236.50,457.52 L236.92,457.67 L237.35,457.55 L237.77,457.62 L238.20,457.37 L238.62,457.51 L239.05,457.39 L239.47,457.67 L239.90,457.47 L240.32,457.69 L240.32,458.20 Z" fill="#40b4a8"/>
<line x1="223.12" y1="458.00" x2="240.52" y2="458.00" stroke="#228a80" stroke-width="1"/>
<rect x="55.60" y="461.65" width="18.60" height="19.20" rx="1" fill="#fff" stroke="#9a9a9a" stroke-width="0.9"/>
<rect x="55.00" y="461.05" width="18.60" height="19.20" rx="1" fill="#fff" stroke="#777" stroke-width="0.9"/>
<path d="M55.80,479.55 L55.80,478.35 L56.22,478.54 L56.65,478.34 L57.07,478.45 L57.50,478.01 L57.92,478.07 L58.35,478.03 L58.77,477.94 L59.20,477.76 L59.62,477.68 L60.05,477.74 L60.47,477.62 L60.90,477.80 L61.32,477.67 L61.75,477.46 L62.17,477.55 L62.60,477.62 L63.02,477.33 L63.45,477.80 L63.88,477.63 L64.30,477.90 L64.72,477.72 L65.15,477.76 L65.57,477.17 L66.00,476.93 L66.42,475.92 L66.85,474.72 L67.28,475.34 L67.70,476.35 L68.12,476.94 L68.55,478.08 L68.97,478.24 L69.40,478.77 L69.82,478.86 L70.25,478.63 L70.67,478.94 L71.10,478.72 L71.53,478.70 L71.95,478.88 L72.38,478.99 L72.80,478.69 L72.80,479.55 Z" fill="#50b4dc"/>
<line x1="55.60" y1="479.35" x2="73.00" y2="479.35" stroke="#2a88b0" stroke-width="1"/>
<rect x="76.54" y="461.65" width="18.60" height="19.20" rx="1" fill="#fff" stroke="#9a9a9a" stroke-width="0.9"/>
<rect x="75.94" y="461.05" width="18.60" height="19.20" rx="1" fill="#fff" stroke="#777" stroke-width="0.9"/>
<path d="M76.74,479.55 L76.74,478.86 L77.16,478.84 L77.59,478.76 L78.02,478.91 L78.44,478.94 L78.86,478.82 L79.29,478.80 L79.71,478.75 L80.14,478.82 L80.56,478.62 L80.99,478.58 L81.41,478.70 L81.84,478.90 L82.27,478.55 L82.69,478.56 L83.11,478.60 L83.54,478.56 L83.96,478.55 L84.39,478.56 L84.81,478.75 L85.24,478.69 L85.66,478.53 L86.09,478.61 L86.51,478.69 L86.94,478.86 L87.36,478.79 L87.79,478.76 L88.22,478.82 L88.64,478.75 L89.06,478.85 L89.49,478.74 L89.91,478.80 L90.34,478.92 L90.76,478.68 L91.19,478.74 L91.61,478.78 L92.04,478.76 L92.47,478.93 L92.89,478.95 L93.31,478.96 L93.74,478.72 L93.74,479.55 Z" fill="#50b4dc"/>
<line x1="76.54" y1="479.35" x2="93.94" y2="479.35" stroke="#2a88b0" stroke-width="1"/>
<rect x="97.48" y="461.65" width="18.60" height="19.20" rx="1" fill="#fff" stroke="#9a9a9a" stroke-width="0.9"/>
<rect x="96.88" y="461.05" width="18.60" height="19.20" rx="1" fill="#fff" stroke="#777" stroke-width="0.9"/>
<path d="M97.68,479.55 L97.68,478.88 L98.10,478.84 L98.53,478.84 L98.95,478.79 L99.38,478.78 L99.80,478.89 L100.23,478.92 L100.65,478.73 L101.08,478.78 L101.50,478.64 L101.93,478.60 L102.35,478.54 L102.78,478.27 L103.20,477.46 L103.63,476.51 L104.05,475.59 L104.48,473.39 L104.90,471.93 L105.33,471.21 L105.75,467.02 L106.18,466.14 L106.60,465.77 L107.03,462.94 L107.45,463.56 L107.88,464.47 L108.30,467.49 L108.73,469.34 L109.16,472.88 L109.58,473.74 L110.00,475.24 L110.43,477.01 L110.85,477.93 L111.28,478.30 L111.70,478.64 L112.13,478.75 L112.55,478.81 L112.98,478.75 L113.41,478.85 L113.83,478.74 L114.25,478.99 L114.68,478.95 L114.68,479.55 Z" fill="#50b4dc"/>
<line x1="97.48" y1="479.35" x2="114.88" y2="479.35" stroke="#2a88b0" stroke-width="1"/>
<rect x="118.42" y="461.65" width="18.60" height="19.20" rx="1" fill="#fff" stroke="#9a9a9a" stroke-width="0.9"/>
<rect x="117.82" y="461.05" width="18.60" height="19.20" rx="1" fill="#fff" stroke="#777" stroke-width="0.9"/>
<path d="M118.62,479.55 L118.62,478.75 L119.05,478.73 L119.47,478.81 L119.90,478.73 L120.32,478.70 L120.75,478.80 L121.17,478.86 L121.59,478.91 L122.02,478.79 L122.45,478.58 L122.87,478.06 L123.30,477.50 L123.72,476.44 L124.15,475.52 L124.57,474.33 L125.00,473.92 L125.42,472.14 L125.84,472.44 L126.27,472.85 L126.70,474.01 L127.12,475.68 L127.55,475.75 L127.97,476.44 L128.40,477.14 L128.82,477.07 L129.25,477.94 L129.67,478.08 L130.09,478.41 L130.52,478.62 L130.94,478.70 L131.37,478.74 L131.80,478.71 L132.22,478.75 L132.65,478.77 L133.07,478.96 L133.50,478.77 L133.92,478.71 L134.34,478.86 L134.77,478.84 L135.19,478.91 L135.62,478.71 L135.62,479.55 Z" fill="#50b4dc"/>
<line x1="118.42" y1="479.35" x2="135.82" y2="479.35" stroke="#2a88b0" stroke-width="1"/>
<rect x="139.36" y="461.65" width="18.60" height="19.20" rx="1" fill="#fff" stroke="#9a9a9a" stroke-width="0.9"/>
<rect x="138.76" y="461.05" width="18.60" height="19.20" rx="1" fill="#fff" stroke="#777" stroke-width="0.9"/>
<path d="M139.56,479.55 L139.56,478.79 L139.99,478.85 L140.41,478.79 L140.84,478.81 L141.26,478.97 L141.69,478.90 L142.11,478.83 L142.53,478.92 L142.96,478.67 L143.38,478.61 L143.81,478.28 L144.24,478.16 L144.66,477.28 L145.09,476.70 L145.51,475.12 L145.94,474.93 L146.36,473.25 L146.78,473.12 L147.21,471.29 L147.63,473.09 L148.06,473.07 L148.49,474.78 L148.91,475.26 L149.34,476.21 L149.76,477.32 L150.19,477.76 L150.61,478.33 L151.03,478.51 L151.46,478.67 L151.88,478.79 L152.31,478.76 L152.74,478.75 L153.16,478.78 L153.59,478.92 L154.01,478.72 L154.44,479.01 L154.86,478.71 L155.28,478.80 L155.71,478.75 L156.13,478.80 L156.56,478.98 L156.56,479.55 Z" fill="#50b4dc"/>
<line x1="139.36" y1="479.35" x2="156.76" y2="479.35" stroke="#2a88b0" stroke-width="1"/>
<rect x="160.30" y="461.65" width="18.60" height="19.20" rx="1" fill="#fff" stroke="#9a9a9a" stroke-width="0.9"/>
<rect x="159.70" y="461.05" width="18.60" height="19.20" rx="1" fill="#fff" stroke="#777" stroke-width="0.9"/>
<path d="M160.50,479.55 L160.50,478.78 L160.93,478.97 L161.35,478.72 L161.78,478.74 L162.20,478.70 L162.62,478.72 L163.05,478.79 L163.47,478.90 L163.90,478.75 L164.32,478.97 L164.75,478.75 L165.18,478.75 L165.60,478.85 L166.03,478.93 L166.45,478.91 L166.88,478.91 L167.30,478.75 L167.72,478.88 L168.15,478.96 L168.57,478.95 L169.00,478.97 L169.43,478.70 L169.85,478.83 L170.28,478.77 L170.70,478.83 L171.12,478.73 L171.55,478.81 L171.97,478.94 L172.40,478.86 L172.82,478.93 L173.25,478.98 L173.68,478.85 L174.10,478.86 L174.53,478.92 L174.95,478.82 L175.38,478.83 L175.80,478.94 L176.22,479.00 L176.65,478.87 L177.07,479.03 L177.50,478.85 L177.50,479.55 Z" fill="#50b4dc"/>
<line x1="160.30" y1="479.35" x2="177.70" y2="479.35" stroke="#2a88b0" stroke-width="1"/>
<rect x="181.24" y="461.65" width="18.60" height="19.20" rx="1" fill="#fff" stroke="#9a9a9a" stroke-width="0.9"/>
<rect x="180.64" y="461.05" width="18.60" height="19.20" rx="1" fill="#fff" stroke="#777" stroke-width="0.9"/>
<path d="M181.44,479.55 L181.44,478.77 L181.87,478.87 L182.29,478.90 L182.72,478.88 L183.14,478.73 L183.57,478.92 L183.99,478.79 L184.42,478.75 L184.84,478.85 L185.27,478.70 L185.69,478.83 L186.12,478.80 L186.54,478.31 L186.97,477.91 L187.39,477.59 L187.82,476.45 L188.24,476.06 L188.67,474.89 L189.09,473.51 L189.52,473.98 L189.94,473.54 L190.37,473.83 L190.79,473.42 L191.22,474.49 L191.64,475.46 L192.07,476.54 L192.49,477.57 L192.92,478.14 L193.34,478.29 L193.77,478.68 L194.19,478.90 L194.62,478.93 L195.04,478.94 L195.47,478.89 L195.89,478.79 L196.32,478.91 L196.74,478.72 L197.17,478.80 L197.59,478.93 L198.02,478.75 L198.44,478.79 L198.44,479.55 Z" fill="#50b4dc"/>
<line x1="181.24" y1="479.35" x2="198.64" y2="479.35" stroke="#2a88b0" stroke-width="1"/>
<rect x="202.18" y="461.65" width="18.60" height="19.20" rx="1" fill="#fff" stroke="#9a9a9a" stroke-width="0.9"/>
<rect x="201.58" y="461.05" width="18.60" height="19.20" rx="1" fill="#fff" stroke="#777" stroke-width="0.9"/>
<path d="M202.38,479.55 L202.38,478.94 L202.81,478.72 L203.23,478.89 L203.66,478.90 L204.08,478.69 L204.51,478.94 L204.93,478.67 L205.36,478.68 L205.78,478.42 L206.21,477.99 L206.63,477.58 L207.06,476.83 L207.48,476.37 L207.91,475.15 L208.33,473.72 L208.76,471.87 L209.18,472.32 L209.61,470.74 L210.03,470.00 L210.46,470.40 L210.88,472.38 L211.31,472.12 L211.73,473.55 L212.16,474.92 L212.58,475.53 L213.01,476.11 L213.43,476.74 L213.86,477.03 L214.28,476.73 L214.71,476.26 L215.13,476.14 L215.56,475.57 L215.98,475.17 L216.41,474.62 L216.83,475.30 L217.26,474.86 L217.68,474.60 L218.11,475.73 L218.53,475.70 L218.96,476.32 L219.38,477.22 L219.38,479.55 Z" fill="#50b4dc"/>
<line x1="202.18" y1="479.35" x2="219.58" y2="479.35" stroke="#2a88b0" stroke-width="1"/>
<rect x="223.12" y="461.65" width="18.60" height="19.20" rx="1" fill="#fff" stroke="#9a9a9a" stroke-width="0.9"/>
<rect x="222.52" y="461.05" width="18.60" height="19.20" rx="1" fill="#fff" stroke="#777" stroke-width="0.9"/>
<path d="M223.32,479.55 L223.32,478.74 L223.75,478.71 L224.17,478.86 L224.60,478.93 L225.02,478.85 L225.45,478.72 L225.87,478.95 L226.30,478.82 L226.72,478.84 L227.15,478.54 L227.57,478.40 L228.00,478.25 L228.42,477.37 L228.85,476.50 L229.27,475.37 L229.70,474.88 L230.12,473.81 L230.55,472.57 L230.97,472.61 L231.40,472.64 L231.82,474.34 L232.25,475.16 L232.67,475.47 L233.10,476.62 L233.52,477.69 L233.95,478.15 L234.37,478.35 L234.80,478.71 L235.22,478.71 L235.65,478.73 L236.07,478.91 L236.50,478.83 L236.92,478.90 L237.35,478.87 L237.77,479.00 L238.20,478.71 L238.62,479.02 L239.05,478.80 L239.47,478.72 L239.90,478.84 L240.32,479.00 L240.32,479.55 Z" fill="#50b4dc"/>
<line x1="223.12" y1="479.35" x2="240.52" y2="479.35" stroke="#2a88b0" stroke-width="1"/>
<rect x="55.60" y="483.00" width="18.60" height="19.20" rx="1" fill="#fff" stroke="#9a9a9a" stroke-width="0.9"/>
<rect x="55.00" y="482.40" width="18.60" height="19.20" rx="1" fill="#fff" stroke="#777" stroke-width="0.9"/>
<path d="M55.80,500.90 L55.80,500.05 L56.22,500.05 L56.65,499.42 L57.07,498.96 L57.50,498.49 L57.92,497.46 L58.35,495.85 L58.77,495.07 L59.20,495.17 L59.62,494.71 L60.05,494.73 L60.47,495.42 L60.90,494.45 L61.32,494.18 L61.75,491.20 L62.17,490.51 L62.60,491.28 L63.02,489.56 L63.45,492.57 L63.88,492.21 L64.30,493.23 L64.72,494.99 L65.15,495.89 L65.57,494.97 L66.00,494.31 L66.42,490.91 L66.85,484.67 L67.28,483.90 L67.70,483.90 L68.12,489.48 L68.55,494.50 L68.97,497.21 L69.40,498.97 L69.82,499.53 L70.25,499.73 L70.67,499.77 L71.10,499.99 L71.53,500.21 L71.95,500.13 L72.38,500.33 L72.80,500.25 L72.80,500.90 Z" fill="#b4a4d8"/>
<line x1="55.60" y1="500.70" x2="73.00" y2="500.70" stroke="#8a78b0" stroke-width="1"/>
<rect x="76.54" y="483.00" width="18.60" height="19.20" rx="1" fill="#fff" stroke="#9a9a9a" stroke-width="0.9"/>
<rect x="75.94" y="482.40" width="18.60" height="19.20" rx="1" fill="#fff" stroke="#777" stroke-width="0.9"/>
<path d="M76.74,500.90 L76.74,500.04 L77.16,500.23 L77.59,500.08 L78.02,500.05 L78.44,499.99 L78.86,500.22 L79.29,500.17 L79.71,499.87 L80.14,500.11 L80.56,500.11 L80.99,500.04 L81.41,499.97 L81.84,500.08 L82.27,499.86 L82.69,499.90 L83.11,499.79 L83.54,499.90 L83.96,499.93 L84.39,499.95 L84.81,499.75 L85.24,499.83 L85.66,499.83 L86.09,499.83 L86.51,500.03 L86.94,500.00 L87.36,499.88 L87.79,500.07 L88.22,499.87 L88.64,499.95 L89.06,499.79 L89.49,499.79 L89.91,499.81 L90.34,499.94 L90.76,500.07 L91.19,500.08 L91.61,500.07 L92.04,499.99 L92.47,500.27 L92.89,500.01 L93.31,500.13 L93.74,500.25 L93.74,500.90 Z" fill="#b4a4d8"/>
<line x1="76.54" y1="500.70" x2="93.94" y2="500.70" stroke="#8a78b0" stroke-width="1"/>
<rect x="97.48" y="483.00" width="18.60" height="19.20" rx="1" fill="#fff" stroke="#9a9a9a" stroke-width="0.9"/>
<rect x="96.88" y="482.40" width="18.60" height="19.20" rx="1" fill="#fff" stroke="#777" stroke-width="0.9"/>
<path d="M97.68,500.90 L97.68,500.32 L98.10,500.28 L98.53,500.19 L98.95,500.19 L99.38,500.14 L99.80,499.92 L100.23,499.66 L100.65,499.78 L101.08,499.69 L101.50,499.58 L101.93,499.32 L102.35,499.00 L102.78,498.84 L103.20,498.53 L103.63,498.35 L104.05,497.42 L104.48,496.00 L104.90,493.72 L105.33,489.85 L105.75,488.64 L106.18,486.48 L106.60,487.91 L107.03,491.15 L107.45,493.61 L107.88,497.06 L108.30,498.72 L108.73,499.26 L109.16,499.89 L109.58,499.87 L110.00,500.05 L110.43,499.97 L110.85,500.12 L111.28,500.12 L111.70,500.17 L112.13,500.25 L112.55,500.04 L112.98,500.25 L113.41,500.26 L113.83,500.13 L114.25,500.26 L114.68,500.33 L114.68,500.90 Z" fill="#b4a4d8"/>
<line x1="97.48" y1="500.70" x2="114.88" y2="500.70" stroke="#8a78b0" stroke-width="1"/>
<rect x="118.42" y="483.00" width="18.60" height="19.20" rx="1" fill="#fff" stroke="#9a9a9a" stroke-width="0.9"/>
<rect x="117.82" y="482.40" width="18.60" height="19.20" rx="1" fill="#fff" stroke="#777" stroke-width="0.9"/>
<path d="M118.62,500.90 L118.62,500.14 L119.05,500.22 L119.47,500.31 L119.90,500.21 L120.32,500.14 L120.75,500.06 L121.17,500.32 L121.59,500.28 L122.02,500.39 L122.45,500.18 L122.87,500.28 L123.30,500.18 L123.72,500.29 L124.15,500.21 L124.57,500.05 L125.00,500.27 L125.42,500.15 L125.84,500.06 L126.27,500.36 L126.70,500.32 L127.12,500.34 L127.55,500.14 L127.97,500.27 L128.40,500.12 L128.82,500.35 L129.25,500.31 L129.67,500.17 L130.09,500.22 L130.52,500.10 L130.94,500.19 L131.37,500.07 L131.80,500.30 L132.22,500.26 L132.65,500.30 L133.07,500.10 L133.50,500.35 L133.92,500.33 L134.34,500.11 L134.77,500.39 L135.19,500.14 L135.62,500.30 L135.62,500.90 Z" fill="#b4a4d8"/>
<line x1="118.42" y1="500.70" x2="135.82" y2="500.70" stroke="#8a78b0" stroke-width="1"/>
<rect x="139.36" y="483.00" width="18.60" height="19.20" rx="1" fill="#fff" stroke="#9a9a9a" stroke-width="0.9"/>
<rect x="138.76" y="482.40" width="18.60" height="19.20" rx="1" fill="#fff" stroke="#777" stroke-width="0.9"/>
<path d="M139.56,500.90 L139.56,500.29 L139.99,500.10 L140.41,500.06 L140.84,500.30 L141.26,500.17 L141.69,500.14 L142.11,500.16 L142.53,500.28 L142.96,500.14 L143.38,500.23 L143.81,500.14 L144.24,500.14 L144.66,499.71 L145.09,499.59 L145.51,499.66 L145.94,499.13 L146.36,499.19 L146.78,499.53 L147.21,499.41 L147.63,499.48 L148.06,499.95 L148.49,499.80 L148.91,500.26 L149.34,500.23 L149.76,500.13 L150.19,500.32 L150.61,500.05 L151.03,500.37 L151.46,500.38 L151.88,500.24 L152.31,500.28 L152.74,500.13 L153.16,500.07 L153.59,500.39 L154.01,500.17 L154.44,500.19 L154.86,500.14 L155.28,500.38 L155.71,500.23 L156.13,500.16 L156.56,500.07 L156.56,500.90 Z" fill="#b4a4d8"/>
<line x1="139.36" y1="500.70" x2="156.76" y2="500.70" stroke="#8a78b0" stroke-width="1"/>
<rect x="160.30" y="483.00" width="18.60" height="19.20" rx="1" fill="#fff" stroke="#9a9a9a" stroke-width="0.9"/>
<rect x="159.70" y="482.40" width="18.60" height="19.20" rx="1" fill="#fff" stroke="#777" stroke-width="0.9"/>
<path d="M160.50,500.90 L160.50,500.16 L160.93,500.30 L161.35,500.15 L161.78,500.13 L162.20,500.33 L162.62,500.28 L163.05,500.00 L163.47,500.15 L163.90,500.20 L164.32,500.20 L164.75,499.87 L165.18,499.82 L165.60,499.85 L166.03,499.86 L166.45,499.76 L166.88,499.59 L167.30,499.65 L167.72,499.54 L168.15,499.42 L168.57,499.56 L169.00,499.54 L169.43,499.66 L169.85,499.57 L170.28,499.85 L170.70,499.94 L171.12,499.86 L171.55,499.87 L171.97,499.97 L172.40,499.91 L172.82,500.04 L173.25,500.04 L173.68,500.31 L174.10,500.35 L174.53,500.27 L174.95,500.24 L175.38,500.16 L175.80,500.33 L176.22,500.05 L176.65,500.29 L177.07,500.23 L177.50,500.09 L177.50,500.90 Z" fill="#b4a4d8"/>
<line x1="160.30" y1="500.70" x2="177.70" y2="500.70" stroke="#8a78b0" stroke-width="1"/>
<rect x="181.24" y="483.00" width="18.60" height="19.20" rx="1" fill="#fff" stroke="#9a9a9a" stroke-width="0.9"/>
<rect x="180.64" y="482.40" width="18.60" height="19.20" rx="1" fill="#fff" stroke="#777" stroke-width="0.9"/>
<path d="M181.44,500.90 L181.44,500.12 L181.87,500.11 L182.29,500.18 L182.72,500.28 L183.14,500.02 L183.57,500.22 L183.99,499.98 L184.42,499.99 L184.84,500.18 L185.27,500.06 L185.69,500.04 L186.12,499.87 L186.54,499.74 L186.97,499.64 L187.39,499.55 L187.82,499.53 L188.24,499.57 L188.67,499.41 L189.09,499.40 L189.52,499.38 L189.94,499.67 L190.37,499.57 L190.79,499.71 L191.22,499.78 L191.64,499.77 L192.07,500.06 L192.49,499.98 L192.92,500.13 L193.34,500.18 L193.77,500.16 L194.19,499.99 L194.62,500.32 L195.04,500.29 L195.47,500.10 L195.89,500.25 L196.32,500.04 L196.74,500.23 L197.17,500.34 L197.59,500.10 L198.02,500.15 L198.44,500.28 L198.44,500.90 Z" fill="#b4a4d8"/>
<line x1="181.24" y1="500.70" x2="198.64" y2="500.70" stroke="#8a78b0" stroke-width="1"/>
<rect x="202.18" y="483.00" width="18.60" height="19.20" rx="1" fill="#fff" stroke="#9a9a9a" stroke-width="0.9"/>
<rect x="201.58" y="482.40" width="18.60" height="19.20" rx="1" fill="#fff" stroke="#777" stroke-width="0.9"/>
<path d="M202.38,500.90 L202.38,500.34 L202.81,500.22 L203.23,500.24 L203.66,500.04 L204.08,500.12 L204.51,500.20 L204.93,500.04 L205.36,500.08 L205.78,499.79 L206.21,499.65 L206.63,499.82 L207.06,499.45 L207.48,499.45 L207.91,498.96 L208.33,498.24 L208.76,495.91 L209.18,493.37 L209.61,491.19 L210.03,489.64 L210.46,489.93 L210.88,493.74 L211.31,495.88 L211.73,497.42 L212.16,497.68 L212.58,498.14 L213.01,498.24 L213.43,498.01 L213.86,498.40 L214.28,498.21 L214.71,498.45 L215.13,498.70 L215.56,498.96 L215.98,499.04 L216.41,498.91 L216.83,499.25 L217.26,499.25 L217.68,499.52 L218.11,499.73 L218.53,499.70 L218.96,499.79 L219.38,499.93 L219.38,500.90 Z" fill="#b4a4d8"/>
<line x1="202.18" y1="500.70" x2="219.58" y2="500.70" stroke="#8a78b0" stroke-width="1"/>
<rect x="223.12" y="483.00" width="18.60" height="19.20" rx="1" fill="#fff" stroke="#9a9a9a" stroke-width="0.9"/>
<rect x="222.52" y="482.40" width="18.60" height="19.20" rx="1" fill="#fff" stroke="#777" stroke-width="0.9"/>
<path d="M223.32,500.90 L223.32,500.16 L223.75,500.25 L224.17,500.38 L224.60,500.38 L225.02,500.20 L225.45,500.09 L225.87,500.35 L226.30,500.21 L226.72,500.04 L227.15,499.85 L227.57,499.76 L228.00,499.65 L228.42,499.55 L228.85,499.63 L229.27,499.33 L229.70,499.55 L230.12,499.57 L230.55,499.59 L230.97,499.99 L231.40,499.92 L231.82,499.96 L232.25,500.07 L232.67,500.13 L233.10,500.26 L233.52,500.25 L233.95,500.15 L234.37,500.34 L234.80,500.19 L235.22,500.35 L235.65,500.34 L236.07,500.15 L236.50,500.18 L236.92,500.23 L237.35,500.13 L237.77,500.24 L238.20,500.09 L238.62,500.29 L239.05,500.34 L239.47,500.11 L239.90,500.34 L240.32,500.17 L240.32,500.90 Z" fill="#b4a4d8"/>
<line x1="223.12" y1="500.70" x2="240.52" y2="500.70" stroke="#8a78b0" stroke-width="1"/>
<rect x="55.60" y="504.35" width="18.60" height="19.20" rx="1" fill="#fff" stroke="#9a9a9a" stroke-width="0.9"/>
<rect x="55.00" y="503.75" width="18.60" height="19.20" rx="1" fill="#fff" stroke="#777" stroke-width="0.9"/>
<path d="M55.80,522.25 L55.80,521.54 L56.22,521.37 L56.65,521.39 L57.07,520.92 L57.50,520.98 L57.92,520.16 L58.35,519.91 L58.77,519.23 L59.20,517.34 L59.62,516.57 L60.05,516.40 L60.47,516.04 L60.90,515.25 L61.32,515.99 L61.75,516.97 L62.17,516.95 L62.60,517.63 L63.02,518.95 L63.45,519.67 L63.88,520.41 L64.30,520.64 L64.72,521.08 L65.15,521.44 L65.57,521.25 L66.00,521.40 L66.42,521.42 L66.85,521.50 L67.28,521.41 L67.70,521.57 L68.12,521.49 L68.55,521.65 L68.97,521.51 L69.40,521.60 L69.82,521.54 L70.25,521.60 L70.67,521.66 L71.10,521.56 L71.53,521.67 L71.95,521.73 L72.38,521.66 L72.80,521.71 L72.80,522.25 Z" fill="#e07cb4"/>
<line x1="55.60" y1="522.05" x2="73.00" y2="522.05" stroke="#b04a88" stroke-width="1"/>
<rect x="76.54" y="504.35" width="18.60" height="19.20" rx="1" fill="#fff" stroke="#9a9a9a" stroke-width="0.9"/>
<rect x="75.94" y="503.75" width="18.60" height="19.20" rx="1" fill="#fff" stroke="#777" stroke-width="0.9"/>
<path d="M76.74,522.25 L76.74,521.66 L77.16,521.64 L77.59,521.57 L78.02,521.64 L78.44,521.56 L78.86,521.59 L79.29,521.32 L79.71,521.15 L80.14,520.89 L80.56,520.47 L80.99,519.03 L81.41,517.98 L81.84,516.62 L82.27,515.27 L82.69,511.71 L83.11,511.17 L83.54,509.89 L83.96,505.33 L84.39,506.81 L84.81,506.85 L85.24,507.51 L85.66,508.99 L86.09,512.78 L86.51,514.21 L86.94,515.95 L87.36,518.07 L87.79,519.68 L88.22,520.31 L88.64,520.79 L89.06,521.27 L89.49,521.33 L89.91,521.35 L90.34,521.70 L90.76,521.64 L91.19,521.54 L91.61,521.54 L92.04,521.66 L92.47,521.62 L92.89,521.68 L93.31,521.41 L93.74,521.47 L93.74,522.25 Z" fill="#e07cb4"/>
<line x1="76.54" y1="522.05" x2="93.94" y2="522.05" stroke="#b04a88" stroke-width="1"/>
<rect x="97.48" y="504.35" width="18.60" height="19.20" rx="1" fill="#fff" stroke="#9a9a9a" stroke-width="0.9"/>
<rect x="96.88" y="503.75" width="18.60" height="19.20" rx="1" fill="#fff" stroke="#777" stroke-width="0.9"/>
<path d="M97.68,522.25 L97.68,521.71 L98.10,521.46 L98.53,521.48 L98.95,521.59 L99.38,521.72 L99.80,521.53 L100.23,521.68 L100.65,521.46 L101.08,521.71 L101.50,521.42 L101.93,521.48 L102.35,521.50 L102.78,521.70 L103.20,521.46 L103.63,521.47 L104.05,521.48 L104.48,521.50 L104.90,521.12 L105.33,521.25 L105.75,520.58 L106.18,520.51 L106.60,520.40 L107.03,519.99 L107.45,520.45 L107.88,520.50 L108.30,520.87 L108.73,521.08 L109.16,521.30 L109.58,521.38 L110.00,521.60 L110.43,521.54 L110.85,521.67 L111.28,521.41 L111.70,521.67 L112.13,521.54 L112.55,521.61 L112.98,521.66 L113.41,521.56 L113.83,521.41 L114.25,521.52 L114.68,521.61 L114.68,522.25 Z" fill="#e07cb4"/>
<line x1="97.48" y1="522.05" x2="114.88" y2="522.05" stroke="#b04a88" stroke-width="1"/>
<rect x="118.42" y="504.35" width="18.60" height="19.20" rx="1" fill="#fff" stroke="#9a9a9a" stroke-width="0.9"/>
<rect x="117.82" y="503.75" width="18.60" height="19.20" rx="1" fill="#fff" stroke="#777" stroke-width="0.9"/>
<path d="M118.62,522.25 L118.62,521.66 L119.05,521.73 L119.47,521.49 L119.90,521.71 L120.32,521.42 L120.75,521.57 L121.17,521.62 L121.59,521.63 L122.02,521.59 L122.45,521.43 L122.87,521.65 L123.30,521.57 L123.72,521.57 L124.15,521.63 L124.57,521.49 L125.00,521.53 L125.42,521.43 L125.84,521.67 L126.27,521.53 L126.70,521.61 L127.12,521.52 L127.55,521.71 L127.97,521.62 L128.40,521.73 L128.82,521.45 L129.25,521.60 L129.67,521.60 L130.09,521.64 L130.52,521.44 L130.94,521.61 L131.37,521.60 L131.80,521.62 L132.22,521.70 L132.65,521.73 L133.07,521.66 L133.50,521.68 L133.92,521.58 L134.34,521.45 L134.77,521.73 L135.19,521.48 L135.62,521.73 L135.62,522.25 Z" fill="#e07cb4"/>
<line x1="118.42" y1="522.05" x2="135.82" y2="522.05" stroke="#b04a88" stroke-width="1"/>
<rect x="139.36" y="504.35" width="18.60" height="19.20" rx="1" fill="#fff" stroke="#9a9a9a" stroke-width="0.9"/>
<rect x="138.76" y="503.75" width="18.60" height="19.20" rx="1" fill="#fff" stroke="#777" stroke-width="0.9"/>
<path d="M139.56,522.25 L139.56,521.59 L139.99,521.56 L140.41,521.51 L140.84,521.56 L141.26,521.48 L141.69,521.41 L142.11,521.43 L142.53,521.62 L142.96,521.60 L143.38,521.51 L143.81,521.41 L144.24,521.46 L144.66,521.55 L145.09,521.68 L145.51,521.70 L145.94,521.57 L146.36,521.62 L146.78,521.47 L147.21,521.50 L147.63,521.55 L148.06,521.64 L148.49,521.57 L148.91,521.44 L149.34,521.43 L149.76,521.54 L150.19,521.71 L150.61,521.53 L151.03,521.59 L151.46,521.74 L151.88,521.63 L152.31,521.60 L152.74,521.48 L153.16,521.74 L153.59,521.69 L154.01,521.47 L154.44,521.61 L154.86,521.66 L155.28,521.54 L155.71,521.56 L156.13,521.55 L156.56,521.73 L156.56,522.25 Z" fill="#e07cb4"/>
<line x1="139.36" y1="522.05" x2="156.76" y2="522.05" stroke="#b04a88" stroke-width="1"/>
<rect x="160.30" y="504.35" width="18.60" height="19.20" rx="1" fill="#fff" stroke="#9a9a9a" stroke-width="0.9"/>
<rect x="159.70" y="503.75" width="18.60" height="19.20" rx="1" fill="#fff" stroke="#777" stroke-width="0.9"/>
<path d="M160.50,522.25 L160.50,521.68 L160.93,521.56 L161.35,521.60 L161.78,521.56 L162.20,521.63 L162.62,521.70 L163.05,521.60 L163.47,521.60 L163.90,521.61 L164.32,521.49 L164.75,521.43 L165.18,521.53 L165.60,521.52 L166.03,521.42 L166.45,521.72 L166.88,521.71 L167.30,521.59 L167.72,521.57 L168.15,521.45 L168.57,521.56 L169.00,521.50 L169.43,521.42 L169.85,521.50 L170.28,521.66 L170.70,521.52 L171.12,521.58 L171.55,521.41 L171.97,521.44 L172.40,521.48 L172.82,521.69 L173.25,521.42 L173.68,521.55 L174.10,521.68 L174.53,521.71 L174.95,521.49 L175.38,521.58 L175.80,521.42 L176.22,521.60 L176.65,521.71 L177.07,521.72 L177.50,521.72 L177.50,522.25 Z" fill="#e07cb4"/>
<line x1="160.30" y1="522.05" x2="177.70" y2="522.05" stroke="#b04a88" stroke-width="1"/>
<rect x="181.24" y="504.35" width="18.60" height="19.20" rx="1" fill="#fff" stroke="#9a9a9a" stroke-width="0.9"/>
<rect x="180.64" y="503.75" width="18.60" height="19.20" rx="1" fill="#fff" stroke="#777" stroke-width="0.9"/>
<path d="M181.44,522.25 L181.44,521.66 L181.87,521.43 L182.29,521.68 L182.72,521.48 L183.14,521.74 L183.57,521.73 L183.99,521.57 L184.42,521.67 L184.84,521.70 L185.27,521.58 L185.69,521.70 L186.12,521.44 L186.54,521.39 L186.97,521.33 L187.39,521.00 L187.82,520.85 L188.24,520.89 L188.67,521.14 L189.09,521.09 L189.52,521.24 L189.94,521.48 L190.37,521.38 L190.79,521.46 L191.22,521.60 L191.64,521.45 L192.07,521.67 L192.49,521.40 L192.92,521.49 L193.34,521.70 L193.77,521.70 L194.19,521.43 L194.62,521.40 L195.04,521.68 L195.47,521.63 L195.89,521.47 L196.32,521.71 L196.74,521.61 L197.17,521.57 L197.59,521.51 L198.02,521.70 L198.44,521.42 L198.44,522.25 Z" fill="#e07cb4"/>
<line x1="181.24" y1="522.05" x2="198.64" y2="522.05" stroke="#b04a88" stroke-width="1"/>
<rect x="202.18" y="504.35" width="18.60" height="19.20" rx="1" fill="#fff" stroke="#9a9a9a" stroke-width="0.9"/>
<rect x="201.58" y="503.75" width="18.60" height="19.20" rx="1" fill="#fff" stroke="#777" stroke-width="0.9"/>
<path d="M202.38,522.25 L202.38,521.45 L202.81,521.54 L203.23,521.62 L203.66,521.61 L204.08,521.46 L204.51,521.55 L204.93,521.71 L205.36,521.56 L205.78,521.55 L206.21,521.53 L206.63,521.64 L207.06,521.35 L207.48,521.34 L207.91,521.15 L208.33,520.66 L208.76,519.95 L209.18,519.18 L209.61,518.83 L210.03,519.14 L210.46,519.30 L210.88,519.71 L211.31,519.80 L211.73,520.76 L212.16,520.93 L212.58,521.30 L213.01,521.51 L213.43,521.52 L213.86,521.65 L214.28,521.50 L214.71,521.51 L215.13,521.56 L215.56,521.40 L215.98,521.42 L216.41,521.61 L216.83,521.52 L217.26,521.72 L217.68,521.71 L218.11,521.52 L218.53,521.68 L218.96,521.56 L219.38,521.62 L219.38,522.25 Z" fill="#e07cb4"/>
<line x1="202.18" y1="522.05" x2="219.58" y2="522.05" stroke="#b04a88" stroke-width="1"/>
<rect x="223.12" y="504.35" width="18.60" height="19.20" rx="1" fill="#fff" stroke="#9a9a9a" stroke-width="0.9"/>
<rect x="222.52" y="503.75" width="18.60" height="19.20" rx="1" fill="#fff" stroke="#777" stroke-width="0.9"/>
<path d="M223.32,522.25 L223.32,521.46 L223.75,521.71 L224.17,521.49 L224.60,521.48 L225.02,521.51 L225.45,521.66 L225.87,521.50 L226.30,521.46 L226.72,521.58 L227.15,521.46 L227.57,521.66 L228.00,521.57 L228.42,521.49 L228.85,521.74 L229.27,521.59 L229.70,521.50 L230.12,521.43 L230.55,521.47 L230.97,521.71 L231.40,521.65 L231.82,521.42 L232.25,521.56 L232.67,521.62 L233.10,521.70 L233.52,521.73 L233.95,521.55 L234.37,521.55 L234.80,521.43 L235.22,521.51 L235.65,521.51 L236.07,521.48 L236.50,521.52 L236.92,521.69 L237.35,521.74 L237.77,521.54 L238.20,521.68 L238.62,521.67 L239.05,521.74 L239.47,521.41 L239.90,521.62 L240.32,521.60 L240.32,522.25 Z" fill="#e07cb4"/>
<line x1="223.12" y1="522.05" x2="240.52" y2="522.05" stroke="#b04a88" stroke-width="1"/>
<text x="20.00" y="564.20" font-size="8.8" text-anchor="start" fill="#111" stroke="#111" stroke-width="0.22" textLength="20.00" lengthAdjust="spacingAndGlyphs">AML</text>
<path d="M19.5,615 L19.5,569.6 L63,569.6" fill="none" stroke="#1c5a98" stroke-width="1.3"/>
<path d="M68,569.6 L63,567.3 L63,571.9 Z" fill="#1c5a98"/>
<path d="M19.5,617 L17.3,612 L21.7,612 Z" fill="#1c5a98"/>
<text x="71.00" y="571.80" font-size="8.2" text-anchor="start" fill="#111" stroke="#111" stroke-width="0.22" textLength="73.50" lengthAdjust="spacingAndGlyphs">regulatory element</text>
<g stroke="#111" stroke-width="0.45">
<text transform="translate(22.80,641.80) rotate(-90)" font-size="9.6" text-anchor="middle" fill="#111" stroke="#111" stroke-width="0.5" textLength="33.50" lengthAdjust="spacingAndGlyphs">Cell type</text>
</g>
<text transform="translate(67.40,621.00) rotate(-90)" font-size="9.4" text-anchor="start" fill="#222" stroke="#222" stroke-width="0.22" textLength="20.90" lengthAdjust="spacingAndGlyphs">LYL1 P</text>
<text transform="translate(88.00,621.00) rotate(-90)" font-size="9.4" text-anchor="start" fill="#222" stroke="#222" stroke-width="0.22" textLength="32.90" lengthAdjust="spacingAndGlyphs">TAL1 +40</text>
<text transform="translate(108.60,621.00) rotate(-90)" font-size="9.4" text-anchor="start" fill="#222" stroke="#222" stroke-width="0.22" textLength="32.90" lengthAdjust="spacingAndGlyphs">LMO2 -25</text>
<text transform="translate(129.20,621.00) rotate(-90)" font-size="9.4" text-anchor="start" fill="#222" stroke="#222" stroke-width="0.22" textLength="26.80" lengthAdjust="spacingAndGlyphs">FLI1 -15</text>
<text transform="translate(149.80,621.00) rotate(-90)" font-size="9.4" text-anchor="start" fill="#222" stroke="#222" stroke-width="0.22" textLength="30.70" lengthAdjust="spacingAndGlyphs">ERG +85</text>
<text transform="translate(170.40,621.00) rotate(-90)" font-size="9.4" text-anchor="start" fill="#222" stroke="#222" stroke-width="0.22" textLength="38.70" lengthAdjust="spacingAndGlyphs">GATA2 -117</text>
<text transform="translate(191.00,621.00) rotate(-90)" font-size="9.4" text-anchor="start" fill="#222" stroke="#222" stroke-width="0.22" textLength="40.40" lengthAdjust="spacingAndGlyphs">GATA2 +3.5</text>
<text transform="translate(211.60,621.00) rotate(-90)" font-size="9.4" text-anchor="start" fill="#222" stroke="#222" stroke-width="0.22" textLength="41.20" lengthAdjust="spacingAndGlyphs">RUNX1 +23</text>
<text transform="translate(232.20,621.00) rotate(-90)" font-size="9.4" text-anchor="start" fill="#222" stroke="#222" stroke-width="0.22" textLength="45.00" lengthAdjust="spacingAndGlyphs">RUNX1 +141</text>
<text x="37.40" y="637.90" font-size="9.4" text-anchor="start" fill="#444" stroke="#444" stroke-width="0.22" textLength="18.90" lengthAdjust="spacingAndGlyphs">pHSC</text>
<text x="37.40" y="659.20" font-size="9.4" text-anchor="start" fill="#444" stroke="#444" stroke-width="0.22" textLength="12.60" lengthAdjust="spacingAndGlyphs">LSC</text>
<text x="37.40" y="680.50" font-size="9.4" text-anchor="start" fill="#444" stroke="#444" stroke-width="0.22" textLength="16.80" lengthAdjust="spacingAndGlyphs">Blast</text>
<rect x="58.00" y="626.10" width="18.20" height="19.40" rx="1" fill="#fff" stroke="#888" stroke-width="0.9"/>
<rect x="57.40" y="625.50" width="18.20" height="19.40" rx="1" fill="#fff" stroke="#4a4a4a" stroke-width="1.1"/>
<path d="M58.20,644.20 L58.20,643.55 L58.61,643.36 L59.03,643.27 L59.44,643.30 L59.86,643.07 L60.27,642.69 L60.69,642.51 L61.10,642.21 L61.52,641.64 L61.93,640.91 L62.35,640.67 L62.76,639.75 L63.18,638.54 L63.59,639.00 L64.01,637.50 L64.42,638.14 L64.84,638.25 L65.25,637.59 L65.67,637.85 L66.08,638.84 L66.50,639.42 L66.91,638.76 L67.33,638.52 L67.74,637.99 L68.16,637.38 L68.57,637.14 L68.99,635.83 L69.41,636.36 L69.82,639.17 L70.23,640.41 L70.65,641.74 L71.06,642.97 L71.48,643.11 L71.89,643.40 L72.31,643.47 L72.72,643.47 L73.14,643.39 L73.55,643.55 L73.97,643.65 L74.38,643.51 L74.80,643.37 L74.80,644.20 Z" fill="#daa455"/>
<line x1="58.00" y1="644.00" x2="75.00" y2="644.00" stroke="#a87830" stroke-width="1"/>
<rect x="78.60" y="626.10" width="18.20" height="19.40" rx="1" fill="#fff" stroke="#888" stroke-width="0.9"/>
<rect x="78.00" y="625.50" width="18.20" height="19.40" rx="1" fill="#fff" stroke="#4a4a4a" stroke-width="1.1"/>
<path d="M78.80,644.20 L78.80,643.58 L79.22,643.55 L79.63,643.59 L80.05,643.35 L80.46,643.46 L80.88,643.54 L81.29,643.49 L81.70,643.50 L82.12,643.53 L82.53,643.49 L82.95,643.48 L83.36,642.88 L83.78,642.35 L84.19,641.04 L84.61,639.02 L85.02,636.90 L85.44,634.92 L85.85,633.22 L86.27,631.81 L86.69,632.30 L87.10,634.64 L87.52,636.04 L87.93,638.09 L88.34,638.74 L88.76,640.19 L89.17,640.65 L89.59,641.34 L90.00,642.30 L90.42,642.63 L90.83,642.89 L91.25,642.95 L91.66,643.31 L92.08,643.22 L92.49,643.40 L92.91,643.34 L93.32,643.42 L93.74,643.41 L94.16,643.48 L94.57,643.50 L94.98,643.43 L95.40,643.61 L95.40,644.20 Z" fill="#daa455"/>
<line x1="78.60" y1="644.00" x2="95.60" y2="644.00" stroke="#a87830" stroke-width="1"/>
<rect x="99.20" y="626.10" width="18.20" height="19.40" rx="1" fill="#fff" stroke="#888" stroke-width="0.9"/>
<rect x="98.60" y="625.50" width="18.20" height="19.40" rx="1" fill="#fff" stroke="#4a4a4a" stroke-width="1.1"/>
<path d="M99.40,644.20 L99.40,643.46 L99.81,643.66 L100.23,643.45 L100.64,643.61 L101.06,643.50 L101.47,643.46 L101.89,643.48 L102.30,643.37 L102.72,643.44 L103.13,643.12 L103.55,643.13 L103.96,642.65 L104.38,641.94 L104.79,641.53 L105.21,640.37 L105.62,638.77 L106.04,636.94 L106.45,636.06 L106.87,633.45 L107.28,630.85 L107.70,631.44 L108.11,627.27 L108.53,627.82 L108.94,628.72 L109.36,630.15 L109.77,633.27 L110.19,634.32 L110.60,634.27 L111.02,636.88 L111.43,638.76 L111.85,640.22 L112.26,640.95 L112.68,642.18 L113.09,642.54 L113.51,642.90 L113.92,643.05 L114.34,643.37 L114.75,643.57 L115.17,643.60 L115.58,643.59 L116.00,643.68 L116.00,644.20 Z" fill="#daa455"/>
<line x1="99.20" y1="644.00" x2="116.20" y2="644.00" stroke="#a87830" stroke-width="1"/>
<rect x="119.80" y="626.10" width="18.20" height="19.40" rx="1" fill="#fff" stroke="#888" stroke-width="0.9"/>
<rect x="119.20" y="625.50" width="18.20" height="19.40" rx="1" fill="#fff" stroke="#4a4a4a" stroke-width="1.1"/>
<path d="M120.00,644.20 L120.00,643.46 L120.42,643.62 L120.83,643.55 L121.25,643.60 L121.66,643.38 L122.08,643.65 L122.49,643.57 L122.91,643.60 L123.32,643.44 L123.73,642.82 L124.15,641.56 L124.56,639.22 L124.98,634.93 L125.39,632.29 L125.81,627.01 L126.22,627.00 L126.64,627.00 L127.05,627.00 L127.47,627.00 L127.89,628.05 L128.30,628.58 L128.72,632.94 L129.13,635.83 L129.54,637.59 L129.96,638.00 L130.38,639.74 L130.79,640.48 L131.21,641.39 L131.62,641.73 L132.03,641.95 L132.45,642.41 L132.87,642.84 L133.28,643.00 L133.69,643.43 L134.11,643.49 L134.53,643.52 L134.94,643.49 L135.35,643.64 L135.77,643.65 L136.19,643.40 L136.60,643.37 L136.60,644.20 Z" fill="#daa455"/>
<line x1="119.80" y1="644.00" x2="136.80" y2="644.00" stroke="#a87830" stroke-width="1"/>
<rect x="140.40" y="626.10" width="18.20" height="19.40" rx="1" fill="#fff" stroke="#888" stroke-width="0.9"/>
<rect x="139.80" y="625.50" width="18.20" height="19.40" rx="1" fill="#fff" stroke="#4a4a4a" stroke-width="1.1"/>
<path d="M140.60,644.20 L140.60,643.37 L141.02,643.55 L141.43,643.34 L141.85,643.67 L142.26,643.35 L142.68,643.51 L143.09,643.51 L143.51,643.39 L143.92,643.53 L144.34,643.28 L144.75,642.88 L145.17,642.09 L145.58,640.54 L146.00,639.75 L146.41,637.75 L146.83,634.32 L147.24,633.47 L147.66,632.61 L148.07,632.68 L148.49,631.74 L148.90,634.93 L149.32,636.60 L149.73,638.17 L150.15,640.08 L150.56,640.70 L150.98,642.09 L151.39,642.67 L151.81,643.13 L152.22,643.49 L152.64,643.40 L153.05,643.55 L153.47,643.56 L153.88,643.59 L154.30,643.61 L154.71,643.39 L155.13,643.65 L155.54,643.40 L155.96,643.43 L156.37,643.54 L156.79,643.56 L157.20,643.45 L157.20,644.20 Z" fill="#daa455"/>
<line x1="140.40" y1="644.00" x2="157.40" y2="644.00" stroke="#a87830" stroke-width="1"/>
<rect x="161.00" y="626.10" width="18.20" height="19.40" rx="1" fill="#fff" stroke="#888" stroke-width="0.9"/>
<rect x="160.40" y="625.50" width="18.20" height="19.40" rx="1" fill="#fff" stroke="#4a4a4a" stroke-width="1.1"/>
<path d="M161.20,644.20 L161.20,643.44 L161.62,643.33 L162.03,643.50 L162.45,643.47 L162.86,643.34 L163.28,643.24 L163.69,643.18 L164.11,643.08 L164.52,643.35 L164.94,643.12 L165.35,643.20 L165.77,643.27 L166.18,642.99 L166.60,643.02 L167.01,643.09 L167.43,642.98 L167.84,643.04 L168.26,642.84 L168.67,643.17 L169.09,643.09 L169.50,642.81 L169.92,642.94 L170.33,643.07 L170.75,642.88 L171.16,643.13 L171.58,642.97 L171.99,642.98 L172.41,643.16 L172.82,643.07 L173.24,643.25 L173.65,643.04 L174.07,643.20 L174.48,643.08 L174.90,643.38 L175.31,643.29 L175.73,643.12 L176.14,643.22 L176.56,643.29 L176.97,643.45 L177.39,643.43 L177.80,643.52 L177.80,644.20 Z" fill="#daa455"/>
<line x1="161.00" y1="644.00" x2="178.00" y2="644.00" stroke="#a87830" stroke-width="1"/>
<rect x="181.60" y="626.10" width="18.20" height="19.40" rx="1" fill="#fff" stroke="#888" stroke-width="0.9"/>
<rect x="181.00" y="625.50" width="18.20" height="19.40" rx="1" fill="#fff" stroke="#4a4a4a" stroke-width="1.1"/>
<path d="M181.80,644.20 L181.80,643.34 L182.22,643.66 L182.63,643.59 L183.05,643.57 L183.46,643.63 L183.88,643.64 L184.29,643.43 L184.71,643.48 L185.12,643.24 L185.54,643.01 L185.95,642.62 L186.37,641.30 L186.78,640.50 L187.20,638.22 L187.61,636.44 L188.03,633.98 L188.44,630.98 L188.86,631.35 L189.27,632.45 L189.69,631.63 L190.10,631.79 L190.52,632.89 L190.93,632.18 L191.34,634.29 L191.76,637.00 L192.18,638.99 L192.59,640.70 L193.01,641.70 L193.42,642.34 L193.84,643.15 L194.25,643.19 L194.67,643.47 L195.08,643.42 L195.50,643.41 L195.91,643.65 L196.33,643.47 L196.74,643.55 L197.16,643.57 L197.57,643.43 L197.99,643.55 L198.40,643.43 L198.40,644.20 Z" fill="#daa455"/>
<line x1="181.60" y1="644.00" x2="198.60" y2="644.00" stroke="#a87830" stroke-width="1"/>
<rect x="202.20" y="626.10" width="18.20" height="19.40" rx="1" fill="#fff" stroke="#888" stroke-width="0.9"/>
<rect x="201.60" y="625.50" width="18.20" height="19.40" rx="1" fill="#fff" stroke="#4a4a4a" stroke-width="1.1"/>
<path d="M202.40,644.20 L202.40,643.67 L202.82,643.59 L203.23,643.44 L203.65,643.52 L204.06,643.44 L204.48,643.66 L204.89,643.33 L205.31,643.60 L205.72,643.38 L206.14,643.29 L206.55,643.03 L206.97,642.57 L207.38,641.92 L207.80,641.73 L208.21,639.73 L208.63,638.86 L209.04,637.99 L209.46,635.76 L209.87,634.17 L210.29,634.72 L210.70,632.91 L211.12,634.54 L211.53,636.44 L211.95,636.73 L212.36,638.13 L212.78,638.62 L213.19,639.83 L213.61,640.85 L214.02,641.46 L214.44,641.30 L214.85,640.95 L215.27,640.71 L215.68,640.23 L216.10,640.41 L216.51,640.04 L216.93,640.04 L217.34,640.48 L217.76,641.11 L218.17,641.81 L218.59,641.96 L219.00,642.35 L219.00,644.20 Z" fill="#daa455"/>
<line x1="202.20" y1="644.00" x2="219.20" y2="644.00" stroke="#a87830" stroke-width="1"/>
<rect x="222.80" y="626.10" width="18.20" height="19.40" rx="1" fill="#fff" stroke="#888" stroke-width="0.9"/>
<rect x="222.20" y="625.50" width="18.20" height="19.40" rx="1" fill="#fff" stroke="#4a4a4a" stroke-width="1.1"/>
<path d="M223.00,644.20 L223.00,643.39 L223.42,643.67 L223.83,643.46 L224.25,643.35 L224.66,643.35 L225.08,643.54 L225.49,643.26 L225.91,643.35 L226.32,643.21 L226.74,642.65 L227.15,642.02 L227.57,641.58 L227.98,639.97 L228.40,639.00 L228.81,638.79 L229.23,638.33 L229.64,637.98 L230.06,637.06 L230.47,637.48 L230.89,638.02 L231.30,638.87 L231.72,638.39 L232.13,639.61 L232.55,640.60 L232.96,641.14 L233.38,641.80 L233.79,642.42 L234.21,642.95 L234.62,643.20 L235.04,643.42 L235.45,643.51 L235.87,643.52 L236.28,643.59 L236.70,643.62 L237.11,643.44 L237.53,643.58 L237.94,643.60 L238.36,643.43 L238.77,643.67 L239.19,643.36 L239.60,643.54 L239.60,644.20 Z" fill="#daa455"/>
<line x1="222.80" y1="644.00" x2="239.80" y2="644.00" stroke="#a87830" stroke-width="1"/>
<rect x="58.00" y="647.40" width="18.20" height="19.40" rx="1" fill="#fff" stroke="#888" stroke-width="0.9"/>
<rect x="57.40" y="646.80" width="18.20" height="19.40" rx="1" fill="#fff" stroke="#4a4a4a" stroke-width="1.1"/>
<path d="M58.20,665.50 L58.20,664.79 L58.61,664.62 L59.03,664.71 L59.44,664.72 L59.86,664.64 L60.27,664.46 L60.69,664.09 L61.10,663.90 L61.52,663.25 L61.93,662.84 L62.35,662.58 L62.76,661.52 L63.18,661.05 L63.59,659.38 L64.01,660.07 L64.42,659.38 L64.84,657.96 L65.25,658.76 L65.67,658.70 L66.08,659.11 L66.50,660.62 L66.91,660.53 L67.33,660.24 L67.74,658.59 L68.16,657.82 L68.57,656.54 L68.99,656.01 L69.41,656.05 L69.82,658.26 L70.23,660.80 L70.65,662.54 L71.06,664.08 L71.48,664.59 L71.89,664.68 L72.31,664.76 L72.72,664.74 L73.14,664.80 L73.55,664.88 L73.97,664.80 L74.38,664.77 L74.80,664.78 L74.80,665.50 Z" fill="#50b4dc"/>
<line x1="58.00" y1="665.30" x2="75.00" y2="665.30" stroke="#2a88b0" stroke-width="1"/>
<rect x="78.60" y="647.40" width="18.20" height="19.40" rx="1" fill="#fff" stroke="#888" stroke-width="0.9"/>
<rect x="78.00" y="646.80" width="18.20" height="19.40" rx="1" fill="#fff" stroke="#4a4a4a" stroke-width="1.1"/>
<path d="M78.80,665.50 L78.80,664.76 L79.22,664.93 L79.63,664.84 L80.05,664.84 L80.46,664.85 L80.88,664.98 L81.29,664.74 L81.70,664.77 L82.12,664.97 L82.53,664.66 L82.95,664.73 L83.36,664.67 L83.78,664.67 L84.19,664.64 L84.61,664.77 L85.02,664.88 L85.44,664.75 L85.85,664.66 L86.27,664.67 L86.69,664.85 L87.10,664.66 L87.52,664.82 L87.93,664.86 L88.34,664.64 L88.76,664.74 L89.17,664.82 L89.59,664.71 L90.00,664.86 L90.42,664.97 L90.83,664.69 L91.25,664.91 L91.66,664.71 L92.08,664.93 L92.49,664.91 L92.91,664.90 L93.32,664.67 L93.74,664.95 L94.16,664.85 L94.57,664.84 L94.98,664.88 L95.40,664.67 L95.40,665.50 Z" fill="#50b4dc"/>
<line x1="78.60" y1="665.30" x2="95.60" y2="665.30" stroke="#2a88b0" stroke-width="1"/>
<rect x="99.20" y="647.40" width="18.20" height="19.40" rx="1" fill="#fff" stroke="#888" stroke-width="0.9"/>
<rect x="98.60" y="646.80" width="18.20" height="19.40" rx="1" fill="#fff" stroke="#4a4a4a" stroke-width="1.1"/>
<path d="M99.40,665.50 L99.40,664.73 L99.81,664.79 L100.23,664.93 L100.64,664.82 L101.06,664.84 L101.47,664.75 L101.89,664.92 L102.30,664.88 L102.72,664.73 L103.13,664.37 L103.55,664.43 L103.96,663.68 L104.38,663.38 L104.79,662.57 L105.21,661.86 L105.62,660.54 L106.04,658.33 L106.45,655.61 L106.87,654.93 L107.28,654.08 L107.70,652.25 L108.11,648.49 L108.53,648.43 L108.94,650.52 L109.36,651.90 L109.77,652.58 L110.19,654.05 L110.60,657.15 L111.02,659.54 L111.43,660.60 L111.85,661.01 L112.26,662.74 L112.68,663.61 L113.09,663.67 L113.51,664.41 L113.92,664.67 L114.34,664.52 L114.75,664.63 L115.17,664.88 L115.58,664.79 L116.00,664.80 L116.00,665.50 Z" fill="#50b4dc"/>
<line x1="99.20" y1="665.30" x2="116.20" y2="665.30" stroke="#2a88b0" stroke-width="1"/>
<rect x="119.80" y="647.40" width="18.20" height="19.40" rx="1" fill="#fff" stroke="#888" stroke-width="0.9"/>
<rect x="119.20" y="646.80" width="18.20" height="19.40" rx="1" fill="#fff" stroke="#4a4a4a" stroke-width="1.1"/>
<path d="M120.00,665.50 L120.00,664.84 L120.42,664.92 L120.83,664.81 L121.25,664.81 L121.66,664.67 L122.08,664.79 L122.49,664.90 L122.91,664.91 L123.32,664.71 L123.73,664.77 L124.15,664.58 L124.56,664.44 L124.98,663.77 L125.39,663.33 L125.81,662.93 L126.22,662.45 L126.64,662.30 L127.05,662.57 L127.47,662.75 L127.89,663.43 L128.30,664.07 L128.72,664.25 L129.13,664.62 L129.54,664.83 L129.96,664.70 L130.38,664.85 L130.79,664.78 L131.21,664.92 L131.62,664.87 L132.03,664.97 L132.45,664.69 L132.87,664.77 L133.28,664.77 L133.69,664.72 L134.11,664.82 L134.53,664.75 L134.94,664.65 L135.35,664.87 L135.77,664.72 L136.19,664.68 L136.60,664.92 L136.60,665.50 Z" fill="#50b4dc"/>
<line x1="119.80" y1="665.30" x2="136.80" y2="665.30" stroke="#2a88b0" stroke-width="1"/>
<rect x="140.40" y="647.40" width="18.20" height="19.40" rx="1" fill="#fff" stroke="#888" stroke-width="0.9"/>
<rect x="139.80" y="646.80" width="18.20" height="19.40" rx="1" fill="#fff" stroke="#4a4a4a" stroke-width="1.1"/>
<path d="M140.60,665.50 L140.60,664.86 L141.02,664.78 L141.43,664.76 L141.85,664.76 L142.26,664.77 L142.68,664.77 L143.09,664.71 L143.51,664.77 L143.92,664.64 L144.34,664.51 L144.75,664.15 L145.17,663.48 L145.58,662.42 L146.00,661.54 L146.41,659.52 L146.83,658.63 L147.24,656.32 L147.66,656.91 L148.07,654.42 L148.49,656.16 L148.90,655.70 L149.32,657.58 L149.73,659.31 L150.15,661.29 L150.56,663.04 L150.98,663.41 L151.39,664.25 L151.81,664.65 L152.22,664.65 L152.64,664.72 L153.05,664.78 L153.47,664.90 L153.88,664.96 L154.30,664.69 L154.71,664.90 L155.13,664.89 L155.54,664.69 L155.96,664.66 L156.37,664.84 L156.79,664.78 L157.20,664.95 L157.20,665.50 Z" fill="#50b4dc"/>
<line x1="140.40" y1="665.30" x2="157.40" y2="665.30" stroke="#2a88b0" stroke-width="1"/>
<rect x="161.00" y="647.40" width="18.20" height="19.40" rx="1" fill="#fff" stroke="#888" stroke-width="0.9"/>
<rect x="160.40" y="646.80" width="18.20" height="19.40" rx="1" fill="#fff" stroke="#4a4a4a" stroke-width="1.1"/>
<path d="M161.20,665.50 L161.20,664.67 L161.62,664.82 L162.03,664.91 L162.45,664.90 L162.86,664.94 L163.28,664.66 L163.69,664.66 L164.11,664.84 L164.52,664.83 L164.94,664.68 L165.35,664.72 L165.77,664.72 L166.18,664.84 L166.60,664.86 L167.01,664.75 L167.43,664.89 L167.84,664.77 L168.26,664.93 L168.67,664.70 L169.09,664.90 L169.50,664.73 L169.92,664.75 L170.33,664.83 L170.75,664.93 L171.16,664.67 L171.58,664.73 L171.99,664.82 L172.41,664.84 L172.82,664.86 L173.24,664.74 L173.65,664.75 L174.07,664.94 L174.48,664.77 L174.90,664.65 L175.31,664.92 L175.73,664.95 L176.14,664.89 L176.56,664.67 L176.97,664.75 L177.39,664.92 L177.80,664.83 L177.80,665.50 Z" fill="#50b4dc"/>
<line x1="161.00" y1="665.30" x2="178.00" y2="665.30" stroke="#2a88b0" stroke-width="1"/>
<rect x="181.60" y="647.40" width="18.20" height="19.40" rx="1" fill="#fff" stroke="#888" stroke-width="0.9"/>
<rect x="181.00" y="646.80" width="18.20" height="19.40" rx="1" fill="#fff" stroke="#4a4a4a" stroke-width="1.1"/>
<path d="M181.80,665.50 L181.80,664.93 L182.22,664.72 L182.63,664.69 L183.05,664.73 L183.46,664.68 L183.88,664.60 L184.29,664.46 L184.71,664.51 L185.12,664.20 L185.54,663.72 L185.95,663.72 L186.37,662.82 L186.78,662.89 L187.20,662.14 L187.61,662.55 L188.03,661.41 L188.44,660.89 L188.86,659.79 L189.27,659.80 L189.69,658.76 L190.10,658.67 L190.52,659.57 L190.93,659.79 L191.34,660.48 L191.76,661.31 L192.18,662.49 L192.59,663.47 L193.01,664.27 L193.42,664.49 L193.84,664.74 L194.25,664.69 L194.67,664.84 L195.08,664.72 L195.50,664.90 L195.91,664.87 L196.33,664.82 L196.74,664.94 L197.16,664.86 L197.57,664.86 L197.99,664.82 L198.40,664.95 L198.40,665.50 Z" fill="#50b4dc"/>
<line x1="181.60" y1="665.30" x2="198.60" y2="665.30" stroke="#2a88b0" stroke-width="1"/>
<rect x="202.20" y="647.40" width="18.20" height="19.40" rx="1" fill="#fff" stroke="#888" stroke-width="0.9"/>
<rect x="201.60" y="646.80" width="18.20" height="19.40" rx="1" fill="#fff" stroke="#4a4a4a" stroke-width="1.1"/>
<path d="M202.40,665.50 L202.40,664.87 L202.82,664.85 L203.23,664.77 L203.65,664.92 L204.06,664.75 L204.48,664.96 L204.89,664.83 L205.31,664.95 L205.72,664.91 L206.14,664.88 L206.55,664.62 L206.97,664.51 L207.38,663.84 L207.80,663.13 L208.21,661.80 L208.63,660.70 L209.04,658.88 L209.46,657.14 L209.87,655.24 L210.29,652.94 L210.70,654.65 L211.12,652.52 L211.53,656.65 L211.95,656.42 L212.36,659.57 L212.78,661.14 L213.19,661.45 L213.61,662.63 L214.02,662.56 L214.44,662.81 L214.85,662.12 L215.27,661.87 L215.68,660.92 L216.10,660.41 L216.51,660.99 L216.93,660.85 L217.34,660.70 L217.76,661.47 L218.17,662.04 L218.59,662.62 L219.00,663.05 L219.00,665.50 Z" fill="#50b4dc"/>
<line x1="202.20" y1="665.30" x2="219.20" y2="665.30" stroke="#2a88b0" stroke-width="1"/>
<rect x="222.80" y="647.40" width="18.20" height="19.40" rx="1" fill="#fff" stroke="#888" stroke-width="0.9"/>
<rect x="222.20" y="646.80" width="18.20" height="19.40" rx="1" fill="#fff" stroke="#4a4a4a" stroke-width="1.1"/>
<path d="M223.00,665.50 L223.00,664.95 L223.42,664.74 L223.83,664.85 L224.25,664.88 L224.66,664.95 L225.08,664.96 L225.49,664.93 L225.91,664.63 L226.32,664.61 L226.74,664.26 L227.15,663.91 L227.57,663.22 L227.98,661.65 L228.40,660.49 L228.81,658.32 L229.23,656.92 L229.64,657.85 L230.06,656.35 L230.47,656.92 L230.89,658.18 L231.30,659.83 L231.72,660.38 L232.13,660.46 L232.55,660.16 L232.96,659.91 L233.38,660.84 L233.79,660.91 L234.21,661.55 L234.62,662.59 L235.04,663.65 L235.45,663.82 L235.87,664.26 L236.28,664.51 L236.70,664.81 L237.11,664.58 L237.53,664.95 L237.94,664.82 L238.36,664.83 L238.77,664.77 L239.19,664.77 L239.60,664.80 L239.60,665.50 Z" fill="#50b4dc"/>
<line x1="222.80" y1="665.30" x2="239.80" y2="665.30" stroke="#2a88b0" stroke-width="1"/>
<rect x="58.00" y="668.70" width="18.20" height="19.40" rx="1" fill="#fff" stroke="#888" stroke-width="0.9"/>
<rect x="57.40" y="668.10" width="18.20" height="19.40" rx="1" fill="#fff" stroke="#4a4a4a" stroke-width="1.1"/>
<path d="M58.20,686.80 L58.20,686.19 L58.61,685.99 L59.03,685.61 L59.44,685.14 L59.86,684.31 L60.27,683.04 L60.69,682.54 L61.10,680.42 L61.52,679.28 L61.93,677.94 L62.35,675.83 L62.76,672.45 L63.18,674.94 L63.59,673.46 L64.01,675.79 L64.42,678.34 L64.84,678.85 L65.25,678.86 L65.67,679.98 L66.08,680.06 L66.50,680.88 L66.91,682.03 L67.33,681.58 L67.74,679.71 L68.16,677.18 L68.57,672.91 L68.99,670.55 L69.41,674.67 L69.82,676.04 L70.23,680.82 L70.65,683.01 L71.06,683.74 L71.48,683.70 L71.89,683.41 L72.31,683.73 L72.72,683.92 L73.14,684.10 L73.55,683.98 L73.97,684.99 L74.38,685.16 L74.80,685.59 L74.80,686.80 Z" fill="#b4a4d8"/>
<line x1="58.00" y1="686.60" x2="75.00" y2="686.60" stroke="#8a78b0" stroke-width="1"/>
<rect x="78.60" y="668.70" width="18.20" height="19.40" rx="1" fill="#fff" stroke="#888" stroke-width="0.9"/>
<rect x="78.00" y="668.10" width="18.20" height="19.40" rx="1" fill="#fff" stroke="#4a4a4a" stroke-width="1.1"/>
<path d="M78.80,686.80 L78.80,686.03 L79.22,686.17 L79.63,686.12 L80.05,686.13 L80.46,686.01 L80.88,686.24 L81.29,685.95 L81.70,686.04 L82.12,686.23 L82.53,685.97 L82.95,686.00 L83.36,686.13 L83.78,686.11 L84.19,686.18 L84.61,686.14 L85.02,685.97 L85.44,685.95 L85.85,685.63 L86.27,685.13 L86.69,684.73 L87.10,684.24 L87.52,684.92 L87.93,685.30 L88.34,685.69 L88.76,685.80 L89.17,685.98 L89.59,686.18 L90.00,686.14 L90.42,686.22 L90.83,686.11 L91.25,686.06 L91.66,686.02 L92.08,686.22 L92.49,685.97 L92.91,685.96 L93.32,686.15 L93.74,686.08 L94.16,686.01 L94.57,686.00 L94.98,686.03 L95.40,686.00 L95.40,686.80 Z" fill="#b4a4d8"/>
<line x1="78.60" y1="686.60" x2="95.60" y2="686.60" stroke="#8a78b0" stroke-width="1"/>
<rect x="99.20" y="668.70" width="18.20" height="19.40" rx="1" fill="#fff" stroke="#888" stroke-width="0.9"/>
<rect x="98.60" y="668.10" width="18.20" height="19.40" rx="1" fill="#fff" stroke="#4a4a4a" stroke-width="1.1"/>
<path d="M99.40,686.80 L99.40,685.96 L99.81,686.27 L100.23,686.12 L100.64,686.21 L101.06,686.14 L101.47,685.95 L101.89,686.00 L102.30,686.20 L102.72,685.95 L103.13,686.03 L103.55,685.96 L103.96,685.89 L104.38,685.53 L104.79,685.12 L105.21,684.59 L105.62,683.63 L106.04,682.88 L106.45,681.32 L106.87,680.50 L107.28,679.23 L107.70,680.14 L108.11,679.44 L108.53,680.81 L108.94,681.16 L109.36,682.41 L109.77,683.73 L110.19,684.90 L110.60,685.30 L111.02,685.74 L111.43,685.87 L111.85,685.98 L112.26,685.98 L112.68,685.93 L113.09,685.96 L113.51,686.23 L113.92,686.26 L114.34,686.04 L114.75,686.26 L115.17,686.00 L115.58,686.17 L116.00,686.16 L116.00,686.80 Z" fill="#b4a4d8"/>
<line x1="99.20" y1="686.60" x2="116.20" y2="686.60" stroke="#8a78b0" stroke-width="1"/>
<rect x="119.80" y="668.70" width="18.20" height="19.40" rx="1" fill="#fff" stroke="#888" stroke-width="0.9"/>
<rect x="119.20" y="668.10" width="18.20" height="19.40" rx="1" fill="#fff" stroke="#4a4a4a" stroke-width="1.1"/>
<path d="M120.00,686.80 L120.00,686.07 L120.42,686.09 L120.83,686.11 L121.25,686.11 L121.66,686.06 L122.08,686.21 L122.49,686.25 L122.91,686.12 L123.32,686.09 L123.73,686.27 L124.15,686.06 L124.56,685.99 L124.98,685.97 L125.39,685.98 L125.81,686.26 L126.22,686.01 L126.64,686.24 L127.05,685.98 L127.47,685.96 L127.89,685.95 L128.30,686.00 L128.72,685.95 L129.13,686.01 L129.54,685.95 L129.96,686.25 L130.38,686.15 L130.79,686.07 L131.21,686.18 L131.62,686.25 L132.03,686.28 L132.45,685.98 L132.87,686.28 L133.28,686.10 L133.69,686.09 L134.11,685.95 L134.53,686.13 L134.94,686.19 L135.35,686.08 L135.77,686.13 L136.19,686.23 L136.60,686.22 L136.60,686.80 Z" fill="#b4a4d8"/>
<line x1="119.80" y1="686.60" x2="136.80" y2="686.60" stroke="#8a78b0" stroke-width="1"/>
<rect x="140.40" y="668.70" width="18.20" height="19.40" rx="1" fill="#fff" stroke="#888" stroke-width="0.9"/>
<rect x="139.80" y="668.10" width="18.20" height="19.40" rx="1" fill="#fff" stroke="#4a4a4a" stroke-width="1.1"/>
<path d="M140.60,686.80 L140.60,686.16 L141.02,686.07 L141.43,685.97 L141.85,685.95 L142.26,686.19 L142.68,685.86 L143.09,685.96 L143.51,685.73 L143.92,685.75 L144.34,685.33 L144.75,684.90 L145.17,684.22 L145.58,683.84 L146.00,683.61 L146.41,683.55 L146.83,683.36 L147.24,683.99 L147.66,684.58 L148.07,684.95 L148.49,685.05 L148.90,685.41 L149.32,685.70 L149.73,685.77 L150.15,685.94 L150.56,686.23 L150.98,686.01 L151.39,686.26 L151.81,686.25 L152.22,685.98 L152.64,686.25 L153.05,686.08 L153.47,685.99 L153.88,686.03 L154.30,686.25 L154.71,686.04 L155.13,686.18 L155.54,686.13 L155.96,686.08 L156.37,686.08 L156.79,686.24 L157.20,686.23 L157.20,686.80 Z" fill="#b4a4d8"/>
<line x1="140.40" y1="686.60" x2="157.40" y2="686.60" stroke="#8a78b0" stroke-width="1"/>
<rect x="161.00" y="668.70" width="18.20" height="19.40" rx="1" fill="#fff" stroke="#888" stroke-width="0.9"/>
<rect x="160.40" y="668.10" width="18.20" height="19.40" rx="1" fill="#fff" stroke="#4a4a4a" stroke-width="1.1"/>
<path d="M161.20,686.80 L161.20,686.06 L161.62,686.08 L162.03,685.83 L162.45,685.80 L162.86,685.86 L163.28,685.86 L163.69,685.81 L164.11,685.65 L164.52,685.75 L164.94,685.77 L165.35,685.68 L165.77,685.74 L166.18,685.50 L166.60,685.56 L167.01,685.42 L167.43,685.57 L167.84,685.38 L168.26,685.28 L168.67,685.26 L169.09,685.54 L169.50,685.47 L169.92,685.66 L170.33,685.41 L170.75,685.71 L171.16,685.46 L171.58,685.49 L171.99,685.44 L172.41,685.62 L172.82,685.55 L173.24,685.69 L173.65,685.70 L174.07,685.76 L174.48,685.79 L174.90,685.69 L175.31,685.71 L175.73,685.69 L176.14,685.87 L176.56,685.75 L176.97,685.97 L177.39,685.90 L177.80,686.05 L177.80,686.80 Z" fill="#b4a4d8"/>
<line x1="161.00" y1="686.60" x2="178.00" y2="686.60" stroke="#8a78b0" stroke-width="1"/>
<rect x="181.60" y="668.70" width="18.20" height="19.40" rx="1" fill="#fff" stroke="#888" stroke-width="0.9"/>
<rect x="181.00" y="668.10" width="18.20" height="19.40" rx="1" fill="#fff" stroke="#4a4a4a" stroke-width="1.1"/>
<path d="M181.80,686.80 L181.80,686.17 L182.22,686.14 L182.63,685.98 L183.05,685.98 L183.46,686.11 L183.88,685.83 L184.29,685.91 L184.71,685.77 L185.12,685.88 L185.54,685.59 L185.95,685.56 L186.37,685.53 L186.78,685.32 L187.20,685.35 L187.61,685.25 L188.03,684.99 L188.44,684.95 L188.86,685.32 L189.27,685.15 L189.69,685.31 L190.10,685.38 L190.52,685.26 L190.93,685.52 L191.34,685.58 L191.76,685.63 L192.18,686.00 L192.59,685.78 L193.01,686.00 L193.42,686.07 L193.84,686.00 L194.25,686.08 L194.67,686.16 L195.08,685.96 L195.50,686.10 L195.91,685.95 L196.33,686.05 L196.74,685.95 L197.16,686.21 L197.57,686.12 L197.99,686.25 L198.40,686.01 L198.40,686.80 Z" fill="#b4a4d8"/>
<line x1="181.60" y1="686.60" x2="198.60" y2="686.60" stroke="#8a78b0" stroke-width="1"/>
<rect x="202.20" y="668.70" width="18.20" height="19.40" rx="1" fill="#fff" stroke="#888" stroke-width="0.9"/>
<rect x="201.60" y="668.10" width="18.20" height="19.40" rx="1" fill="#fff" stroke="#4a4a4a" stroke-width="1.1"/>
<path d="M202.40,686.80 L202.40,686.06 L202.82,685.99 L203.23,685.99 L203.65,685.87 L204.06,685.86 L204.48,686.00 L204.89,685.89 L205.31,686.00 L205.72,685.93 L206.14,685.57 L206.55,685.60 L206.97,685.42 L207.38,685.39 L207.80,685.06 L208.21,684.94 L208.63,683.80 L209.04,682.32 L209.46,679.54 L209.87,678.23 L210.29,680.33 L210.70,680.65 L211.12,682.72 L211.53,684.17 L211.95,684.50 L212.36,684.67 L212.78,684.58 L213.19,684.25 L213.61,684.81 L214.02,684.33 L214.44,684.36 L214.85,684.66 L215.27,684.84 L215.68,685.23 L216.10,685.17 L216.51,685.39 L216.93,685.43 L217.34,685.37 L217.76,685.45 L218.17,685.45 L218.59,685.85 L219.00,685.95 L219.00,686.80 Z" fill="#b4a4d8"/>
<line x1="202.20" y1="686.60" x2="219.20" y2="686.60" stroke="#8a78b0" stroke-width="1"/>
<rect x="222.80" y="668.70" width="18.20" height="19.40" rx="1" fill="#fff" stroke="#888" stroke-width="0.9"/>
<rect x="222.20" y="668.10" width="18.20" height="19.40" rx="1" fill="#fff" stroke="#4a4a4a" stroke-width="1.1"/>
<path d="M223.00,686.80 L223.00,686.20 L223.42,686.20 L223.83,685.95 L224.25,685.90 L224.66,685.87 L225.08,685.87 L225.49,685.63 L225.91,685.54 L226.32,685.37 L226.74,685.03 L227.15,684.58 L227.57,684.52 L227.98,684.37 L228.40,684.44 L228.81,684.75 L229.23,684.69 L229.64,685.03 L230.06,685.48 L230.47,685.71 L230.89,685.85 L231.30,685.91 L231.72,686.05 L232.13,686.21 L232.55,685.94 L232.96,685.98 L233.38,685.15 L233.79,683.75 L234.21,682.98 L234.62,681.26 L235.04,682.05 L235.45,683.74 L235.87,685.31 L236.28,685.69 L236.70,686.13 L237.11,686.15 L237.53,686.11 L237.94,686.26 L238.36,686.25 L238.77,686.25 L239.19,686.20 L239.60,686.13 L239.60,686.80 Z" fill="#b4a4d8"/>
<line x1="222.80" y1="686.60" x2="239.80" y2="686.60" stroke="#8a78b0" stroke-width="1"/>
<rect x="300.20" y="167.80" width="20.10" height="5.42" fill="#353092"/><rect x="319.30" y="167.80" width="20.10" height="5.42" fill="#3c2e93"/><rect x="338.40" y="167.80" width="20.10" height="5.42" fill="#6d2a98"/><rect x="357.50" y="167.80" width="20.10" height="5.42" fill="#8e2a9c"/><rect x="376.60" y="167.80" width="20.10" height="5.42" fill="#7b2a9a"/><rect x="395.70" y="167.80" width="20.10" height="5.42" fill="#632a97"/><rect x="414.80" y="167.80" width="20.10" height="5.42" fill="#d4556f"/><rect x="433.90" y="167.80" width="19.10" height="5.42" fill="#f8aa37"/><rect x="300.20" y="172.22" width="20.10" height="5.42" fill="#372f92"/><rect x="319.30" y="172.22" width="20.10" height="5.42" fill="#392f92"/><rect x="338.40" y="172.22" width="20.10" height="5.42" fill="#6c2a98"/><rect x="357.50" y="172.22" width="20.10" height="5.42" fill="#9a2b97"/><rect x="376.60" y="172.22" width="20.10" height="5.42" fill="#752a99"/><rect x="395.70" y="172.22" width="20.10" height="5.42" fill="#642a97"/><rect x="414.80" y="172.22" width="20.10" height="5.42" fill="#d7596c"/><rect x="433.90" y="172.22" width="19.10" height="5.42" fill="#f7a33a"/><rect x="300.20" y="176.64" width="20.10" height="5.42" fill="#303192"/><rect x="319.30" y="176.64" width="20.10" height="5.42" fill="#3a2f92"/><rect x="338.40" y="176.64" width="20.10" height="5.42" fill="#862a9b"/><rect x="357.50" y="176.64" width="20.10" height="5.42" fill="#9f2b95"/><rect x="376.60" y="176.64" width="20.10" height="5.42" fill="#8c2a9c"/><rect x="395.70" y="176.64" width="20.10" height="5.42" fill="#7f2a9a"/><rect x="414.80" y="176.64" width="20.10" height="5.42" fill="#dc5f66"/><rect x="433.90" y="176.64" width="19.10" height="5.42" fill="#f8c52d"/><rect x="300.20" y="181.06" width="20.10" height="5.42" fill="#303192"/><rect x="319.30" y="181.06" width="20.10" height="5.42" fill="#3b2f92"/><rect x="338.40" y="181.06" width="20.10" height="5.42" fill="#652a97"/><rect x="357.50" y="181.06" width="20.10" height="5.42" fill="#912a9b"/><rect x="376.60" y="181.06" width="20.10" height="5.42" fill="#722a99"/><rect x="395.70" y="181.06" width="20.10" height="5.42" fill="#612b97"/><rect x="414.80" y="181.06" width="20.10" height="5.42" fill="#d5556f"/><rect x="433.90" y="181.06" width="19.10" height="5.42" fill="#f8b034"/><rect x="300.20" y="185.48" width="20.10" height="5.42" fill="#343092"/><rect x="319.30" y="185.48" width="20.10" height="5.42" fill="#3f2e93"/><rect x="338.40" y="185.48" width="20.10" height="5.42" fill="#692a98"/><rect x="357.50" y="185.48" width="20.10" height="5.42" fill="#9e2b95"/><rect x="376.60" y="185.48" width="20.10" height="5.42" fill="#702a99"/><rect x="395.70" y="185.48" width="20.10" height="5.42" fill="#682a98"/><rect x="414.80" y="185.48" width="20.10" height="5.42" fill="#d7586c"/><rect x="433.90" y="185.48" width="19.10" height="5.42" fill="#f8a937"/><rect x="300.20" y="189.90" width="20.10" height="5.42" fill="#353092"/><rect x="319.30" y="189.90" width="20.10" height="5.42" fill="#3d2e93"/><rect x="338.40" y="189.90" width="20.10" height="5.42" fill="#7d2a9a"/><rect x="357.50" y="189.90" width="20.10" height="5.42" fill="#982b98"/><rect x="376.60" y="189.90" width="20.10" height="5.42" fill="#842a9b"/><rect x="395.70" y="189.90" width="20.10" height="5.42" fill="#732a99"/><rect x="414.80" y="189.90" width="20.10" height="5.42" fill="#d95b6a"/><rect x="433.90" y="189.90" width="19.10" height="5.42" fill="#f8b831"/><rect x="300.20" y="194.32" width="20.10" height="5.42" fill="#333092"/><rect x="319.30" y="194.32" width="20.10" height="5.42" fill="#372f92"/><rect x="338.40" y="194.32" width="20.10" height="5.42" fill="#832a9b"/><rect x="357.50" y="194.32" width="20.10" height="5.42" fill="#a82c91"/><rect x="376.60" y="194.32" width="20.10" height="5.42" fill="#942b9a"/><rect x="395.70" y="194.32" width="20.10" height="5.42" fill="#822a9b"/><rect x="414.80" y="194.32" width="20.10" height="5.42" fill="#db5d68"/><rect x="433.90" y="194.32" width="19.10" height="5.42" fill="#f8c12e"/><rect x="300.20" y="198.74" width="20.10" height="5.42" fill="#3e2e93"/><rect x="319.30" y="198.74" width="20.10" height="5.42" fill="#2f3192"/><rect x="338.40" y="198.74" width="20.10" height="5.42" fill="#692a98"/><rect x="357.50" y="198.74" width="20.10" height="5.42" fill="#9b2b96"/><rect x="376.60" y="198.74" width="20.10" height="5.42" fill="#752a99"/><rect x="395.70" y="198.74" width="20.10" height="5.42" fill="#712a99"/><rect x="414.80" y="198.74" width="20.10" height="5.42" fill="#d7596b"/><rect x="433.90" y="198.74" width="19.10" height="5.42" fill="#f8bb30"/><rect x="300.20" y="203.16" width="20.10" height="5.42" fill="#3f2e93"/><rect x="319.30" y="203.16" width="20.10" height="5.42" fill="#372f92"/><rect x="338.40" y="203.16" width="20.10" height="5.42" fill="#692a98"/><rect x="357.50" y="203.16" width="20.10" height="5.42" fill="#812a9b"/><rect x="376.60" y="203.16" width="20.10" height="5.42" fill="#6a2a98"/><rect x="395.70" y="203.16" width="20.10" height="5.42" fill="#632a97"/><rect x="414.80" y="203.16" width="20.10" height="5.42" fill="#d4546f"/><rect x="433.90" y="203.16" width="19.10" height="5.42" fill="#f8ab36"/><rect x="300.20" y="207.58" width="20.10" height="5.42" fill="#3c2f92"/><rect x="319.30" y="207.58" width="20.10" height="5.42" fill="#333092"/><rect x="338.40" y="207.58" width="20.10" height="5.42" fill="#662a97"/><rect x="357.50" y="207.58" width="20.10" height="5.42" fill="#822a9b"/><rect x="376.60" y="207.58" width="20.10" height="5.42" fill="#642a97"/><rect x="395.70" y="207.58" width="20.10" height="5.42" fill="#662a97"/><rect x="414.80" y="207.58" width="20.10" height="5.42" fill="#cf4e75"/><rect x="433.90" y="207.58" width="19.10" height="5.42" fill="#f8a539"/><rect x="300.20" y="212.00" width="20.10" height="5.42" fill="#3f2e93"/><rect x="319.30" y="212.00" width="20.10" height="5.42" fill="#363092"/><rect x="338.40" y="212.00" width="20.10" height="5.42" fill="#712a99"/><rect x="357.50" y="212.00" width="20.10" height="5.42" fill="#a62c92"/><rect x="376.60" y="212.00" width="20.10" height="5.42" fill="#8b2a9c"/><rect x="395.70" y="212.00" width="20.10" height="5.42" fill="#862a9b"/><rect x="414.80" y="212.00" width="20.10" height="5.42" fill="#e16561"/><rect x="433.90" y="212.00" width="19.10" height="5.42" fill="#f8b931"/><rect x="300.20" y="216.42" width="20.10" height="5.42" fill="#402e93"/><rect x="319.30" y="216.42" width="20.10" height="5.42" fill="#2f3192"/><rect x="338.40" y="216.42" width="20.10" height="5.42" fill="#652a97"/><rect x="357.50" y="216.42" width="20.10" height="5.42" fill="#872a9b"/><rect x="376.60" y="216.42" width="20.10" height="5.42" fill="#722a99"/><rect x="395.70" y="216.42" width="20.10" height="5.42" fill="#652a97"/><rect x="414.80" y="216.42" width="20.10" height="5.42" fill="#ce4d75"/><rect x="433.90" y="216.42" width="19.10" height="5.42" fill="#f7a33a"/><rect x="300.20" y="220.84" width="20.10" height="5.42" fill="#392f92"/><rect x="319.30" y="220.84" width="20.10" height="5.42" fill="#353092"/><rect x="338.40" y="220.84" width="20.10" height="5.42" fill="#5c2b96"/><rect x="357.50" y="220.84" width="20.10" height="5.42" fill="#812a9b"/><rect x="376.60" y="220.84" width="20.10" height="5.42" fill="#6a2a98"/><rect x="395.70" y="220.84" width="20.10" height="5.42" fill="#642a97"/><rect x="414.80" y="220.84" width="20.10" height="5.42" fill="#cb4979"/><rect x="433.90" y="220.84" width="19.10" height="5.42" fill="#f8a937"/><rect x="300.20" y="225.26" width="20.10" height="5.42" fill="#942b9a"/><rect x="319.30" y="225.26" width="20.10" height="5.42" fill="#7f2a9a"/><rect x="338.40" y="225.26" width="20.10" height="5.42" fill="#2f3192"/><rect x="357.50" y="225.26" width="20.10" height="5.42" fill="#542b95"/><rect x="376.60" y="225.26" width="20.10" height="5.42" fill="#852a9b"/><rect x="395.70" y="225.26" width="20.10" height="5.42" fill="#b02d8e"/><rect x="414.80" y="225.26" width="20.10" height="5.42" fill="#dc5f67"/><rect x="433.90" y="225.26" width="19.10" height="5.42" fill="#f49542"/><rect x="300.20" y="229.68" width="20.10" height="5.42" fill="#942b9a"/><rect x="319.30" y="229.68" width="20.10" height="5.42" fill="#772a99"/><rect x="338.40" y="229.68" width="20.10" height="5.42" fill="#2e3192"/><rect x="357.50" y="229.68" width="20.10" height="5.42" fill="#562b95"/><rect x="376.60" y="229.68" width="20.10" height="5.42" fill="#932a9a"/><rect x="395.70" y="229.68" width="20.10" height="5.42" fill="#af2d8e"/><rect x="414.80" y="229.68" width="20.10" height="5.42" fill="#e16760"/><rect x="433.90" y="229.68" width="19.10" height="5.42" fill="#f59940"/><rect x="300.20" y="234.10" width="20.10" height="5.42" fill="#7c2a9a"/><rect x="319.30" y="234.10" width="20.10" height="5.42" fill="#732a99"/><rect x="338.40" y="234.10" width="20.10" height="5.42" fill="#372f92"/><rect x="357.50" y="234.10" width="20.10" height="5.42" fill="#442d93"/><rect x="376.60" y="234.10" width="20.10" height="5.42" fill="#722a99"/><rect x="395.70" y="234.10" width="20.10" height="5.42" fill="#9e2b95"/><rect x="414.80" y="234.10" width="20.10" height="5.42" fill="#dc5e67"/><rect x="433.90" y="234.10" width="19.10" height="5.42" fill="#f49542"/><rect x="300.20" y="238.52" width="20.10" height="5.42" fill="#962b99"/><rect x="319.30" y="238.52" width="20.10" height="5.42" fill="#7f2a9a"/><rect x="338.40" y="238.52" width="20.10" height="5.42" fill="#343092"/><rect x="357.50" y="238.52" width="20.10" height="5.42" fill="#4f2c94"/><rect x="376.60" y="238.52" width="20.10" height="5.42" fill="#7b2a9a"/><rect x="395.70" y="238.52" width="20.10" height="5.42" fill="#9a2b97"/><rect x="414.80" y="238.52" width="20.10" height="5.42" fill="#da5d68"/><rect x="433.90" y="238.52" width="19.10" height="5.42" fill="#f49542"/><rect x="300.20" y="242.94" width="20.10" height="5.42" fill="#962b99"/><rect x="319.30" y="242.94" width="20.10" height="5.42" fill="#762a99"/><rect x="338.40" y="242.94" width="20.10" height="5.42" fill="#392f92"/><rect x="357.50" y="242.94" width="20.10" height="5.42" fill="#582b95"/><rect x="376.60" y="242.94" width="20.10" height="5.42" fill="#7f2a9a"/><rect x="395.70" y="242.94" width="20.10" height="5.42" fill="#9b2b97"/><rect x="414.80" y="242.94" width="20.10" height="5.42" fill="#d8596b"/><rect x="433.90" y="242.94" width="19.10" height="5.42" fill="#f39145"/><rect x="300.20" y="247.36" width="20.10" height="5.42" fill="#812a9b"/><rect x="319.30" y="247.36" width="20.10" height="5.42" fill="#712a99"/><rect x="338.40" y="247.36" width="20.10" height="5.42" fill="#333092"/><rect x="357.50" y="247.36" width="20.10" height="5.42" fill="#462d93"/><rect x="376.60" y="247.36" width="20.10" height="5.42" fill="#7a2a9a"/><rect x="395.70" y="247.36" width="20.10" height="5.42" fill="#8b2a9c"/><rect x="414.80" y="247.36" width="20.10" height="5.42" fill="#d5566e"/><rect x="433.90" y="247.36" width="19.10" height="5.42" fill="#f39244"/><rect x="300.20" y="251.78" width="20.10" height="5.42" fill="#942b9a"/><rect x="319.30" y="251.78" width="20.10" height="5.42" fill="#792a9a"/><rect x="338.40" y="251.78" width="20.10" height="5.42" fill="#372f92"/><rect x="357.50" y="251.78" width="20.10" height="5.42" fill="#4e2c94"/><rect x="376.60" y="251.78" width="20.10" height="5.42" fill="#8b2a9c"/><rect x="395.70" y="251.78" width="20.10" height="5.42" fill="#ad2d8f"/><rect x="414.80" y="251.78" width="20.10" height="5.42" fill="#db5e67"/><rect x="433.90" y="251.78" width="19.10" height="5.42" fill="#f59741"/><rect x="300.20" y="256.20" width="20.10" height="5.42" fill="#982b98"/><rect x="319.30" y="256.20" width="20.10" height="5.42" fill="#772a99"/><rect x="338.40" y="256.20" width="20.10" height="5.42" fill="#303192"/><rect x="357.50" y="256.20" width="20.10" height="5.42" fill="#5d2b96"/><rect x="376.60" y="256.20" width="20.10" height="5.42" fill="#8f2a9b"/><rect x="395.70" y="256.20" width="20.10" height="5.42" fill="#a12c94"/><rect x="414.80" y="256.20" width="20.10" height="5.42" fill="#e2695f"/><rect x="433.90" y="256.20" width="19.10" height="5.42" fill="#f8a837"/><rect x="300.20" y="260.62" width="20.10" height="5.42" fill="#b12e8d"/><rect x="319.30" y="260.62" width="20.10" height="5.42" fill="#902a9b"/><rect x="338.40" y="260.62" width="20.10" height="5.42" fill="#4a2c93"/><rect x="357.50" y="260.62" width="20.10" height="5.42" fill="#392f92"/><rect x="376.60" y="260.62" width="20.10" height="5.42" fill="#9c2b96"/><rect x="395.70" y="260.62" width="20.10" height="5.42" fill="#c24080"/><rect x="414.80" y="260.62" width="20.10" height="5.42" fill="#e97755"/><rect x="433.90" y="260.62" width="19.10" height="5.42" fill="#f28e46"/><rect x="300.20" y="265.04" width="20.10" height="5.42" fill="#be3b83"/><rect x="319.30" y="265.04" width="20.10" height="5.42" fill="#8f2a9c"/><rect x="338.40" y="265.04" width="20.10" height="5.42" fill="#522c94"/><rect x="357.50" y="265.04" width="20.10" height="5.42" fill="#313192"/><rect x="376.60" y="265.04" width="20.10" height="5.42" fill="#a12c94"/><rect x="395.70" y="265.04" width="20.10" height="5.42" fill="#c24080"/><rect x="414.80" y="265.04" width="20.10" height="5.42" fill="#e77258"/><rect x="433.90" y="265.04" width="19.10" height="5.42" fill="#f28d46"/><rect x="300.20" y="269.46" width="20.10" height="5.42" fill="#b73489"/><rect x="319.30" y="269.46" width="20.10" height="5.42" fill="#952b99"/><rect x="338.40" y="269.46" width="20.10" height="5.42" fill="#592b95"/><rect x="357.50" y="269.46" width="20.10" height="5.42" fill="#333092"/><rect x="376.60" y="269.46" width="20.10" height="5.42" fill="#a82c91"/><rect x="395.70" y="269.46" width="20.10" height="5.42" fill="#c7457c"/><rect x="414.80" y="269.46" width="20.10" height="5.42" fill="#e97656"/><rect x="433.90" y="269.46" width="19.10" height="5.42" fill="#f49641"/><rect x="300.20" y="273.88" width="20.10" height="5.42" fill="#a22c94"/><rect x="319.30" y="273.88" width="20.10" height="5.42" fill="#762a99"/><rect x="338.40" y="273.88" width="20.10" height="5.42" fill="#3a2f92"/><rect x="357.50" y="273.88" width="20.10" height="5.42" fill="#303192"/><rect x="376.60" y="273.88" width="20.10" height="5.42" fill="#872a9b"/><rect x="395.70" y="273.88" width="20.10" height="5.42" fill="#b73488"/><rect x="414.80" y="273.88" width="20.10" height="5.42" fill="#dd6065"/><rect x="433.90" y="273.88" width="19.10" height="5.42" fill="#eb7b52"/><rect x="300.20" y="278.30" width="20.10" height="5.42" fill="#b12e8d"/><rect x="319.30" y="278.30" width="20.10" height="5.42" fill="#912a9b"/><rect x="338.40" y="278.30" width="20.10" height="5.42" fill="#472d93"/><rect x="357.50" y="278.30" width="20.10" height="5.42" fill="#313192"/><rect x="376.60" y="278.30" width="20.10" height="5.42" fill="#912a9b"/><rect x="395.70" y="278.30" width="20.10" height="5.42" fill="#c3417f"/><rect x="414.80" y="278.30" width="20.10" height="5.42" fill="#e46b5d"/><rect x="433.90" y="278.30" width="19.10" height="5.42" fill="#f28d47"/><rect x="300.20" y="282.72" width="20.10" height="5.42" fill="#bd3a84"/><rect x="319.30" y="282.72" width="20.10" height="5.42" fill="#912a9b"/><rect x="338.40" y="282.72" width="20.10" height="5.42" fill="#562b95"/><rect x="357.50" y="282.72" width="20.10" height="5.42" fill="#343092"/><rect x="376.60" y="282.72" width="20.10" height="5.42" fill="#a02c95"/><rect x="395.70" y="282.72" width="20.10" height="5.42" fill="#c3417f"/><rect x="414.80" y="282.72" width="20.10" height="5.42" fill="#e77259"/><rect x="433.90" y="282.72" width="19.10" height="5.42" fill="#f39144"/><rect x="300.20" y="287.14" width="20.10" height="5.42" fill="#bd3b84"/><rect x="319.30" y="287.14" width="20.10" height="5.42" fill="#9e2b95"/><rect x="338.40" y="287.14" width="20.10" height="5.42" fill="#612b97"/><rect x="357.50" y="287.14" width="20.10" height="5.42" fill="#343092"/><rect x="376.60" y="287.14" width="20.10" height="5.42" fill="#aa2c91"/><rect x="395.70" y="287.14" width="20.10" height="5.42" fill="#cd4b77"/><rect x="414.80" y="287.14" width="20.10" height="5.42" fill="#e56f5b"/><rect x="433.90" y="287.14" width="19.10" height="5.42" fill="#f38f45"/><rect x="300.20" y="291.56" width="20.10" height="5.42" fill="#7c2a9a"/><rect x="319.30" y="291.56" width="20.10" height="5.42" fill="#6e2a98"/><rect x="338.40" y="291.56" width="20.10" height="5.42" fill="#712a99"/><rect x="357.50" y="291.56" width="20.10" height="5.42" fill="#a12c94"/><rect x="376.60" y="291.56" width="20.10" height="5.42" fill="#382f92"/><rect x="395.70" y="291.56" width="20.10" height="5.42" fill="#3d2e93"/><rect x="414.80" y="291.56" width="20.10" height="5.42" fill="#b22f8c"/><rect x="433.90" y="291.56" width="19.10" height="5.42" fill="#f8a837"/><rect x="300.20" y="295.98" width="20.10" height="5.42" fill="#852a9b"/><rect x="319.30" y="295.98" width="20.10" height="5.42" fill="#752a99"/><rect x="338.40" y="295.98" width="20.10" height="5.42" fill="#6c2a98"/><rect x="357.50" y="295.98" width="20.10" height="5.42" fill="#9f2b95"/><rect x="376.60" y="295.98" width="20.10" height="5.42" fill="#333092"/><rect x="395.70" y="295.98" width="20.10" height="5.42" fill="#452d93"/><rect x="414.80" y="295.98" width="20.10" height="5.42" fill="#ad2d8f"/><rect x="433.90" y="295.98" width="19.10" height="5.42" fill="#f49542"/><rect x="300.20" y="300.40" width="20.10" height="5.42" fill="#852a9b"/><rect x="319.30" y="300.40" width="20.10" height="5.42" fill="#6f2a99"/><rect x="338.40" y="300.40" width="20.10" height="5.42" fill="#732a99"/><rect x="357.50" y="300.40" width="20.10" height="5.42" fill="#992b97"/><rect x="376.60" y="300.40" width="20.10" height="5.42" fill="#2e3192"/><rect x="395.70" y="300.40" width="20.10" height="5.42" fill="#442d93"/><rect x="414.80" y="300.40" width="20.10" height="5.42" fill="#ad2d8f"/><rect x="433.90" y="300.40" width="19.10" height="5.42" fill="#f59a3f"/><rect x="300.20" y="304.82" width="20.10" height="5.42" fill="#852a9b"/><rect x="319.30" y="304.82" width="20.10" height="5.42" fill="#702a99"/><rect x="338.40" y="304.82" width="20.10" height="5.42" fill="#6e2a98"/><rect x="357.50" y="304.82" width="20.10" height="5.42" fill="#a42c93"/><rect x="376.60" y="304.82" width="20.10" height="5.42" fill="#392f92"/><rect x="395.70" y="304.82" width="20.10" height="5.42" fill="#3a2f92"/><rect x="414.80" y="304.82" width="20.10" height="5.42" fill="#a72c92"/><rect x="433.90" y="304.82" width="19.10" height="5.42" fill="#f59840"/><rect x="300.20" y="309.24" width="20.10" height="5.42" fill="#8a2a9c"/><rect x="319.30" y="309.24" width="20.10" height="5.42" fill="#752a99"/><rect x="338.40" y="309.24" width="20.10" height="5.42" fill="#822a9b"/><rect x="357.50" y="309.24" width="20.10" height="5.42" fill="#af2d8e"/><rect x="376.60" y="309.24" width="20.10" height="5.42" fill="#313092"/><rect x="395.70" y="309.24" width="20.10" height="5.42" fill="#452d93"/><rect x="414.80" y="309.24" width="20.10" height="5.42" fill="#bd3b84"/><rect x="433.90" y="309.24" width="19.10" height="5.42" fill="#f8b034"/><rect x="300.20" y="313.66" width="20.10" height="5.42" fill="#842a9b"/><rect x="319.30" y="313.66" width="20.10" height="5.42" fill="#712a99"/><rect x="338.40" y="313.66" width="20.10" height="5.42" fill="#862a9b"/><rect x="357.50" y="313.66" width="20.10" height="5.42" fill="#a32c93"/><rect x="376.60" y="313.66" width="20.10" height="5.42" fill="#392f92"/><rect x="395.70" y="313.66" width="20.10" height="5.42" fill="#4b2c93"/><rect x="414.80" y="313.66" width="20.10" height="5.42" fill="#ba3786"/><rect x="433.90" y="313.66" width="19.10" height="5.42" fill="#f7a33a"/><rect x="300.20" y="318.08" width="20.10" height="5.42" fill="#882a9b"/><rect x="319.30" y="318.08" width="20.10" height="5.42" fill="#872a9b"/><rect x="338.40" y="318.08" width="20.10" height="5.42" fill="#852a9b"/><rect x="357.50" y="318.08" width="20.10" height="5.42" fill="#a52c92"/><rect x="376.60" y="318.08" width="20.10" height="5.42" fill="#382f92"/><rect x="395.70" y="318.08" width="20.10" height="5.42" fill="#482c93"/><rect x="414.80" y="318.08" width="20.10" height="5.42" fill="#b22f8d"/><rect x="433.90" y="318.08" width="19.10" height="5.42" fill="#f8b134"/><rect x="300.20" y="322.50" width="20.10" height="5.42" fill="#772a99"/><rect x="319.30" y="322.50" width="20.10" height="5.42" fill="#6d2a98"/><rect x="338.40" y="322.50" width="20.10" height="5.42" fill="#8f2a9c"/><rect x="357.50" y="322.50" width="20.10" height="5.42" fill="#b3308c"/><rect x="376.60" y="322.50" width="20.10" height="5.42" fill="#412e93"/><rect x="395.70" y="322.50" width="20.10" height="5.42" fill="#372f92"/><rect x="414.80" y="322.50" width="20.10" height="5.42" fill="#bd3a84"/><rect x="433.90" y="322.50" width="19.10" height="5.42" fill="#f7cf2b"/><rect x="300.20" y="326.92" width="20.10" height="5.42" fill="#7a2a9a"/><rect x="319.30" y="326.92" width="20.10" height="5.42" fill="#692a98"/><rect x="338.40" y="326.92" width="20.10" height="5.42" fill="#912a9b"/><rect x="357.50" y="326.92" width="20.10" height="5.42" fill="#ae2d8f"/><rect x="376.60" y="326.92" width="20.10" height="5.42" fill="#472d93"/><rect x="395.70" y="326.92" width="20.10" height="5.42" fill="#303192"/><rect x="414.80" y="326.92" width="20.10" height="5.42" fill="#bf3c82"/><rect x="433.90" y="326.92" width="19.10" height="5.42" fill="#f5d72c"/><rect x="300.20" y="331.34" width="20.10" height="5.42" fill="#822a9b"/><rect x="319.30" y="331.34" width="20.10" height="5.42" fill="#6f2a99"/><rect x="338.40" y="331.34" width="20.10" height="5.42" fill="#942b99"/><rect x="357.50" y="331.34" width="20.10" height="5.42" fill="#bb3886"/><rect x="376.60" y="331.34" width="20.10" height="5.42" fill="#3f2e93"/><rect x="395.70" y="331.34" width="20.10" height="5.42" fill="#363092"/><rect x="414.80" y="331.34" width="20.10" height="5.42" fill="#c6437d"/><rect x="433.90" y="331.34" width="19.10" height="5.42" fill="#f8c82c"/><rect x="300.20" y="335.76" width="20.10" height="5.42" fill="#dc5f67"/><rect x="319.30" y="335.76" width="20.10" height="5.42" fill="#d5566e"/><rect x="338.40" y="335.76" width="20.10" height="5.42" fill="#dc5f66"/><rect x="357.50" y="335.76" width="20.10" height="5.42" fill="#e36a5e"/><rect x="376.60" y="335.76" width="20.10" height="5.42" fill="#b02d8e"/><rect x="395.70" y="335.76" width="20.10" height="5.42" fill="#ba3786"/><rect x="414.80" y="335.76" width="20.10" height="5.42" fill="#442d93"/><rect x="433.90" y="335.76" width="19.10" height="5.42" fill="#f38f46"/><rect x="300.20" y="340.18" width="20.10" height="5.42" fill="#c9477b"/><rect x="319.30" y="340.18" width="20.10" height="5.42" fill="#cd4b77"/><rect x="338.40" y="340.18" width="20.10" height="5.42" fill="#d7586c"/><rect x="357.50" y="340.18" width="20.10" height="5.42" fill="#dd6066"/><rect x="376.60" y="340.18" width="20.10" height="5.42" fill="#a22c94"/><rect x="395.70" y="340.18" width="20.10" height="5.42" fill="#ac2d90"/><rect x="414.80" y="340.18" width="20.10" height="5.42" fill="#412e93"/><rect x="433.90" y="340.18" width="19.10" height="5.42" fill="#ec7b52"/><rect x="300.20" y="344.60" width="20.10" height="5.42" fill="#d05073"/><rect x="319.30" y="344.60" width="20.10" height="5.42" fill="#d35371"/><rect x="338.40" y="344.60" width="20.10" height="5.42" fill="#dd6066"/><rect x="357.50" y="344.60" width="20.10" height="5.42" fill="#e06462"/><rect x="376.60" y="344.60" width="20.10" height="5.42" fill="#a92c91"/><rect x="395.70" y="344.60" width="20.10" height="5.42" fill="#bf3d82"/><rect x="414.80" y="344.60" width="20.10" height="5.42" fill="#402e93"/><rect x="433.90" y="344.60" width="19.10" height="5.42" fill="#ee7f4f"/><rect x="300.20" y="349.02" width="20.10" height="5.42" fill="#d25272"/><rect x="319.30" y="349.02" width="20.10" height="5.42" fill="#cc4a78"/><rect x="338.40" y="349.02" width="20.10" height="5.42" fill="#d35271"/><rect x="357.50" y="349.02" width="20.10" height="5.42" fill="#de6264"/><rect x="376.60" y="349.02" width="20.10" height="5.42" fill="#a32c93"/><rect x="395.70" y="349.02" width="20.10" height="5.42" fill="#b22f8d"/><rect x="414.80" y="349.02" width="20.10" height="5.42" fill="#402e93"/><rect x="433.90" y="349.02" width="19.10" height="5.42" fill="#ed7f50"/><rect x="300.20" y="353.44" width="20.10" height="5.42" fill="#c9477a"/><rect x="319.30" y="353.44" width="20.10" height="5.42" fill="#c03d82"/><rect x="338.40" y="353.44" width="20.10" height="5.42" fill="#d15172"/><rect x="357.50" y="353.44" width="20.10" height="5.42" fill="#d95b6a"/><rect x="376.60" y="353.44" width="20.10" height="5.42" fill="#a82c91"/><rect x="395.70" y="353.44" width="20.10" height="5.42" fill="#b02d8e"/><rect x="414.80" y="353.44" width="20.10" height="5.42" fill="#462d93"/><rect x="433.90" y="353.44" width="19.10" height="5.42" fill="#ec7c51"/><rect x="300.20" y="357.86" width="20.10" height="5.42" fill="#d7586c"/><rect x="319.30" y="357.86" width="20.10" height="5.42" fill="#c5437d"/><rect x="338.40" y="357.86" width="20.10" height="5.42" fill="#d8596b"/><rect x="357.50" y="357.86" width="20.10" height="5.42" fill="#df6363"/><rect x="376.60" y="357.86" width="20.10" height="5.42" fill="#a22c94"/><rect x="395.70" y="357.86" width="20.10" height="5.42" fill="#ba3886"/><rect x="414.80" y="357.86" width="20.10" height="5.42" fill="#432d93"/><rect x="433.90" y="357.86" width="19.10" height="5.42" fill="#f28b48"/><rect x="300.20" y="362.28" width="20.10" height="5.42" fill="#f8c62c"/><rect x="319.30" y="362.28" width="20.10" height="5.42" fill="#f8bf2f"/><rect x="338.40" y="362.28" width="20.10" height="5.42" fill="#f8b034"/><rect x="357.50" y="362.28" width="20.10" height="5.42" fill="#f8a837"/><rect x="376.60" y="362.28" width="20.10" height="5.42" fill="#f4dc2d"/><rect x="395.70" y="362.28" width="20.10" height="5.42" fill="#eef030"/><rect x="414.80" y="362.28" width="20.10" height="5.42" fill="#f69c3e"/><rect x="433.90" y="362.28" width="19.10" height="5.42" fill="#442d93"/><rect x="300.20" y="366.70" width="20.10" height="5.42" fill="#f8c42d"/><rect x="319.30" y="366.70" width="20.10" height="5.42" fill="#f8b034"/><rect x="338.40" y="366.70" width="20.10" height="5.42" fill="#f7a439"/><rect x="357.50" y="366.70" width="20.10" height="5.42" fill="#f59b3f"/><rect x="376.60" y="366.70" width="20.10" height="5.42" fill="#f8c92b"/><rect x="395.70" y="366.70" width="20.10" height="5.42" fill="#eef030"/><rect x="414.80" y="366.70" width="20.10" height="5.42" fill="#f59840"/><rect x="433.90" y="366.70" width="19.10" height="5.42" fill="#432d93"/><rect x="300.20" y="371.12" width="20.10" height="5.42" fill="#f8ca2b"/><rect x="319.30" y="371.12" width="20.10" height="5.42" fill="#f8af35"/><rect x="338.40" y="371.12" width="20.10" height="5.42" fill="#f8b233"/><rect x="357.50" y="371.12" width="20.10" height="5.42" fill="#f7a23a"/><rect x="376.60" y="371.12" width="20.10" height="5.42" fill="#f7d12b"/><rect x="395.70" y="371.12" width="20.10" height="5.42" fill="#efeb2f"/><rect x="414.80" y="371.12" width="20.10" height="5.42" fill="#f59a3f"/><rect x="433.90" y="371.12" width="19.10" height="5.42" fill="#442d93"/><rect x="300.20" y="375.54" width="20.10" height="5.42" fill="#f8b333"/><rect x="319.30" y="375.54" width="20.10" height="5.42" fill="#f8a837"/><rect x="338.40" y="375.54" width="20.10" height="5.42" fill="#f8a439"/><rect x="357.50" y="375.54" width="20.10" height="5.42" fill="#f28c48"/><rect x="376.60" y="375.54" width="20.10" height="5.42" fill="#f8ca2b"/><rect x="395.70" y="375.54" width="20.10" height="5.42" fill="#f0e82f"/><rect x="414.80" y="375.54" width="20.10" height="5.42" fill="#f28b48"/><rect x="433.90" y="375.54" width="19.10" height="5.42" fill="#412e93"/><rect x="300.20" y="379.96" width="20.10" height="5.42" fill="#f7d02b"/><rect x="319.30" y="379.96" width="20.10" height="5.42" fill="#f8bd2f"/><rect x="338.40" y="379.96" width="20.10" height="5.42" fill="#f8af35"/><rect x="357.50" y="379.96" width="20.10" height="5.42" fill="#f49542"/><rect x="376.60" y="379.96" width="20.10" height="5.42" fill="#f8ca2b"/><rect x="395.70" y="379.96" width="20.10" height="5.42" fill="#f1e52e"/><rect x="414.80" y="379.96" width="20.10" height="5.42" fill="#f69c3e"/><rect x="433.90" y="379.96" width="19.10" height="5.42" fill="#422d93"/><rect x="300.20" y="384.38" width="20.10" height="5.42" fill="#f8ac36"/><rect x="319.30" y="384.38" width="20.10" height="5.42" fill="#f7a23b"/><rect x="338.40" y="384.38" width="20.10" height="5.42" fill="#f69c3e"/><rect x="357.50" y="384.38" width="20.10" height="5.42" fill="#f38f45"/><rect x="376.60" y="384.38" width="20.10" height="5.42" fill="#f8c12e"/><rect x="395.70" y="384.38" width="20.10" height="5.42" fill="#f6d32b"/><rect x="414.80" y="384.38" width="20.10" height="5.42" fill="#f0854c"/><rect x="433.90" y="384.38" width="19.10" height="5.42" fill="#412e93"/><rect x="300.20" y="388.80" width="20.10" height="5.42" fill="#f8c22e"/><rect x="319.30" y="388.80" width="20.10" height="5.42" fill="#f7a33a"/><rect x="338.40" y="388.80" width="20.10" height="5.42" fill="#f8a538"/><rect x="357.50" y="388.80" width="20.10" height="5.42" fill="#f49741"/><rect x="376.60" y="388.80" width="20.10" height="5.42" fill="#f8b532"/><rect x="395.70" y="388.80" width="20.10" height="5.42" fill="#f4d92c"/><rect x="414.80" y="388.80" width="20.10" height="5.42" fill="#f28e46"/><rect x="433.90" y="388.80" width="19.10" height="5.42" fill="#412e93"/><rect x="300.20" y="393.22" width="20.10" height="4.42" fill="#f8b732"/><rect x="319.30" y="393.22" width="20.10" height="4.42" fill="#f8b831"/><rect x="338.40" y="393.22" width="20.10" height="4.42" fill="#f59a3f"/><rect x="357.50" y="393.22" width="20.10" height="4.42" fill="#f49443"/><rect x="376.60" y="393.22" width="20.10" height="4.42" fill="#f8bd30"/><rect x="395.70" y="393.22" width="20.10" height="4.42" fill="#f3df2d"/><rect x="414.80" y="393.22" width="20.10" height="4.42" fill="#f49542"/><rect x="433.90" y="393.22" width="19.10" height="4.42" fill="#452d93"/>
<rect x="338" y="269.5" width="20.2" height="4.6" fill="none" stroke="#e8202a" stroke-width="1.5"/>
<rect x="272.3" y="167.80" width="20.9" height="30.94" fill="#f0708e"/>
<text x="282.90" y="185.97" font-size="9.6" text-anchor="middle" fill="#222" stroke="#222" stroke-width="0.22" textLength="14.90" lengthAdjust="spacingAndGlyphs">HSC</text>
<rect x="272.3" y="198.74" width="20.9" height="26.52" fill="#d8963a"/>
<text x="282.90" y="214.70" font-size="9.6" text-anchor="middle" fill="#222" stroke="#222" stroke-width="0.22" textLength="15.70" lengthAdjust="spacingAndGlyphs">MPP</text>
<rect x="272.3" y="225.26" width="20.9" height="35.36" fill="#9ca244"/>
<text x="282.90" y="245.64" font-size="9.6" text-anchor="middle" fill="#222" stroke="#222" stroke-width="0.22" textLength="16.30" lengthAdjust="spacingAndGlyphs">CMP</text>
<rect x="272.3" y="260.62" width="20.9" height="30.94" fill="#2eb070"/>
<text x="282.90" y="278.79" font-size="9.6" text-anchor="middle" fill="#222" stroke="#222" stroke-width="0.22" textLength="15.30" lengthAdjust="spacingAndGlyphs">MEP</text>
<rect x="272.3" y="291.56" width="20.9" height="30.94" fill="#2ab0a0"/>
<text x="282.90" y="309.73" font-size="9.6" text-anchor="middle" fill="#222" stroke="#222" stroke-width="0.22" textLength="16.90" lengthAdjust="spacingAndGlyphs">GMP</text>
<rect x="272.3" y="322.50" width="20.9" height="13.26" fill="#2eaadc"/>
<text x="282.90" y="331.83" font-size="9.6" text-anchor="middle" fill="#222" stroke="#222" stroke-width="0.22" textLength="19.90" lengthAdjust="spacingAndGlyphs">LMPP</text>
<rect x="272.3" y="335.76" width="20.9" height="26.52" fill="#a094cc"/>
<text x="282.90" y="351.72" font-size="9.6" text-anchor="middle" fill="#222" stroke="#222" stroke-width="0.22" textLength="20.10" lengthAdjust="spacingAndGlyphs">Mono</text>
<rect x="272.3" y="362.28" width="20.9" height="35.36" fill="#d474ac"/>
<text x="282.90" y="382.66" font-size="9.6" text-anchor="middle" fill="#222" stroke="#222" stroke-width="0.22" textLength="11.10" lengthAdjust="spacingAndGlyphs">Ery</text>
<line x1="309.75" y1="397.6" x2="309.75" y2="401.7" stroke="#222" stroke-width="1"/>
<text transform="translate(312.85,403.60) rotate(-90)" font-size="9.8" text-anchor="end" fill="#222" stroke="#222" stroke-width="0.22" textLength="15.00" lengthAdjust="spacingAndGlyphs">HSC</text>
<line x1="328.85" y1="397.6" x2="328.85" y2="401.7" stroke="#222" stroke-width="1"/>
<text transform="translate(331.95,403.60) rotate(-90)" font-size="9.8" text-anchor="end" fill="#222" stroke="#222" stroke-width="0.22" textLength="16.10" lengthAdjust="spacingAndGlyphs">MPP</text>
<line x1="347.95" y1="397.6" x2="347.95" y2="401.7" stroke="#222" stroke-width="1"/>
<text transform="translate(351.05,403.60) rotate(-90)" font-size="9.8" text-anchor="end" fill="#222" stroke="#222" stroke-width="0.22" textLength="16.30" lengthAdjust="spacingAndGlyphs">CMP</text>
<line x1="367.05" y1="397.6" x2="367.05" y2="401.7" stroke="#222" stroke-width="1"/>
<text transform="translate(370.15,403.60) rotate(-90)" font-size="9.8" text-anchor="end" fill="#222" stroke="#222" stroke-width="0.22" textLength="15.70" lengthAdjust="spacingAndGlyphs">MEP</text>
<line x1="386.15" y1="397.6" x2="386.15" y2="401.7" stroke="#222" stroke-width="1"/>
<text transform="translate(389.25,403.60) rotate(-90)" font-size="9.8" text-anchor="end" fill="#222" stroke="#222" stroke-width="0.22" textLength="16.60" lengthAdjust="spacingAndGlyphs">GMP</text>
<line x1="405.25" y1="397.6" x2="405.25" y2="401.7" stroke="#222" stroke-width="1"/>
<text transform="translate(408.35,403.60) rotate(-90)" font-size="9.8" text-anchor="end" fill="#222" stroke="#222" stroke-width="0.22" textLength="20.70" lengthAdjust="spacingAndGlyphs">LMPP</text>
<line x1="424.35" y1="397.6" x2="424.35" y2="401.7" stroke="#222" stroke-width="1"/>
<text transform="translate(427.45,403.60) rotate(-90)" font-size="9.8" text-anchor="end" fill="#222" stroke="#222" stroke-width="0.22" textLength="20.70" lengthAdjust="spacingAndGlyphs">Mono</text>
<line x1="443.45" y1="397.6" x2="443.45" y2="401.7" stroke="#222" stroke-width="1"/>
<text transform="translate(446.55,403.60) rotate(-90)" font-size="9.8" text-anchor="end" fill="#222" stroke="#222" stroke-width="0.22" textLength="10.90" lengthAdjust="spacingAndGlyphs">Ery</text>
<linearGradient id="pcb" x1="0" y1="0" x2="0" y2="1"><stop offset="0.0" stop-color="#eef030"/><stop offset="0.025" stop-color="#f0e72e"/><stop offset="0.05" stop-color="#f3de2d"/><stop offset="0.075" stop-color="#f6d52c"/><stop offset="0.1" stop-color="#f8cc2a"/><stop offset="0.125" stop-color="#f8c22e"/><stop offset="0.15" stop-color="#f8b931"/><stop offset="0.175" stop-color="#f8b034"/><stop offset="0.2" stop-color="#f8a638"/><stop offset="0.225" stop-color="#f69e3d"/><stop offset="0.25" stop-color="#f49542"/><stop offset="0.275" stop-color="#f28c47"/><stop offset="0.3" stop-color="#f0844c"/><stop offset="0.325" stop-color="#ec7c52"/><stop offset="0.35" stop-color="#e87457"/><stop offset="0.375" stop-color="#e46c5c"/><stop offset="0.4" stop-color="#e06462"/><stop offset="0.425" stop-color="#db5e68"/><stop offset="0.45" stop-color="#d6576d"/><stop offset="0.475" stop-color="#d15072"/><stop offset="0.5" stop-color="#cc4a78"/><stop offset="0.525" stop-color="#c5437e"/><stop offset="0.55" stop-color="#be3c83"/><stop offset="0.575" stop-color="#b73488"/><stop offset="0.6" stop-color="#b02d8e"/><stop offset="0.625" stop-color="#a82c92"/><stop offset="0.65" stop-color="#9f2c95"/><stop offset="0.675" stop-color="#962b98"/><stop offset="0.7" stop-color="#8e2a9c"/><stop offset="0.725" stop-color="#852a9b"/><stop offset="0.75" stop-color="#7c2a9a"/><stop offset="0.775" stop-color="#732a99"/><stop offset="0.8" stop-color="#6a2a98"/><stop offset="0.825" stop-color="#622a97"/><stop offset="0.85" stop-color="#5a2b96"/><stop offset="0.875" stop-color="#522c94"/><stop offset="0.9" stop-color="#4a2c93"/><stop offset="0.925" stop-color="#432d93"/><stop offset="0.95" stop-color="#3c2e92"/><stop offset="0.975" stop-color="#353092"/><stop offset="1.0" stop-color="#2e3192"/></linearGradient>
<rect x="459.6" y="167.9" width="12.8" height="229.6" fill="url(#pcb)"/>
<line x1="472.4" y1="185.4" x2="475.6" y2="185.4" stroke="#222" stroke-width="1"/>
<text x="479.30" y="188.00" font-size="9.2" text-anchor="start" fill="#111" stroke="#111" stroke-width="0.22" textLength="11.80" lengthAdjust="spacingAndGlyphs">1.4</text>
<line x1="472.4" y1="216.6" x2="475.6" y2="216.6" stroke="#222" stroke-width="1"/>
<text x="479.30" y="219.20" font-size="9.2" text-anchor="start" fill="#111" stroke="#111" stroke-width="0.22" textLength="11.80" lengthAdjust="spacingAndGlyphs">1.2</text>
<line x1="472.4" y1="247.8" x2="475.6" y2="247.8" stroke="#222" stroke-width="1"/>
<text x="479.30" y="250.40" font-size="9.2" text-anchor="start" fill="#111" stroke="#111" stroke-width="0.22" textLength="11.80" lengthAdjust="spacingAndGlyphs">1.0</text>
<line x1="472.4" y1="279.0" x2="475.6" y2="279.0" stroke="#222" stroke-width="1"/>
<text x="479.30" y="281.60" font-size="9.2" text-anchor="start" fill="#111" stroke="#111" stroke-width="0.22" textLength="11.80" lengthAdjust="spacingAndGlyphs">0.8</text>
<line x1="472.4" y1="310.2" x2="475.6" y2="310.2" stroke="#222" stroke-width="1"/>
<text x="479.30" y="312.80" font-size="9.2" text-anchor="start" fill="#111" stroke="#111" stroke-width="0.22" textLength="11.80" lengthAdjust="spacingAndGlyphs">0.6</text>
<line x1="472.4" y1="341.4" x2="475.6" y2="341.4" stroke="#222" stroke-width="1"/>
<text x="479.30" y="344.00" font-size="9.2" text-anchor="start" fill="#111" stroke="#111" stroke-width="0.22" textLength="11.80" lengthAdjust="spacingAndGlyphs">0.4</text>
<line x1="472.4" y1="372.6" x2="475.6" y2="372.6" stroke="#222" stroke-width="1"/>
<text x="479.30" y="375.20" font-size="9.2" text-anchor="start" fill="#111" stroke="#111" stroke-width="0.22" textLength="11.80" lengthAdjust="spacingAndGlyphs">0.2</text>
<text transform="translate(506.00,277.10) rotate(-90)" font-size="9.2" text-anchor="middle" fill="#222" stroke="#222" stroke-width="0.22" textLength="136.50" lengthAdjust="spacingAndGlyphs">Cityblock distance on fractional coverage</text>
<clipPath id="gc0"><rect x="307.5" y="447.8" width="179.2" height="23.599999999999966"/></clipPath>
<clipPath id="gc1"><rect x="307.5" y="485.6" width="179.2" height="23.69999999999999"/></clipPath>
<clipPath id="gc2"><rect x="307.5" y="523.7" width="179.2" height="22.899999999999977"/></clipPath>
<g clip-path="url(#gc0)">
<polyline points="315.50,457.00 338.86,457.00 362.22,453.00 385.58,449.00 408.94,461.50 432.30,458.40 455.66,452.70 479.02,420.00" fill="none" stroke="#8fd3cc" stroke-width="0.9" stroke-opacity="1.0" stroke-linejoin="round"/>
<polyline points="315.50,456.30 338.86,456.30 362.22,452.00 385.58,448.00 408.94,460.50 432.30,457.50 455.66,450.50 479.02,420.00" fill="none" stroke="#9ad8d0" stroke-width="0.8" stroke-opacity="1.0" stroke-linejoin="round"/>
<polyline points="315.50,457.60 338.86,457.60 362.22,454.00 385.58,450.00 408.94,462.00 432.30,459.00 455.66,454.00 479.02,420.00" fill="none" stroke="#a5dcd5" stroke-width="0.8" stroke-opacity="1.0" stroke-linejoin="round"/>
<polyline points="315.50,464.50 338.86,464.20 362.22,457.50 385.58,449.50 408.94,454.00 432.30,456.00 455.66,446.00 479.02,420.00" fill="none" stroke="#f7b4c6" stroke-width="0.8" stroke-opacity="1.0" stroke-linejoin="round"/>
<polyline points="315.50,464.50 338.86,464.20 362.22,461.00 385.58,456.50 408.94,457.50 432.30,457.50 455.66,441.00 479.02,420.00" fill="none" stroke="#e39a44" stroke-width="1.4" stroke-opacity="1.0" stroke-linejoin="round"/>
</g>
<polygon points="315.50,461.20 316.40,463.36 318.73,463.55 316.96,465.07 317.50,467.35 315.50,466.13 313.50,467.35 314.04,465.07 312.27,463.55 314.60,463.36" fill="#f0708e"/>
<polygon points="338.80,460.20 339.86,462.74 342.60,462.96 340.51,464.76 341.15,467.44 338.80,466.00 336.45,467.44 337.09,464.76 335.00,462.96 337.74,462.74" fill="#d8902c"/>
<polygon points="408.70,457.70 409.71,460.12 412.31,460.33 410.33,462.03 410.93,464.57 408.70,463.21 406.47,464.57 407.07,462.03 405.09,460.33 407.69,460.12" fill="#2ab0a0"/>
<g clip-path="url(#gc1)">
<polyline points="315.50,489.80 338.86,491.60 362.22,488.80 385.58,485.80 408.94,495.50 432.30,500.30 455.66,486.50 479.02,460.00" fill="none" stroke="#8ad2cc" stroke-width="0.8" stroke-opacity="1.0" stroke-linejoin="round"/>
<polyline points="315.50,491.00 338.86,492.00 362.22,490.00 385.58,487.00 408.94,497.00 432.30,501.50 455.66,487.00 479.02,460.00" fill="none" stroke="#6cc0e0" stroke-width="0.8" stroke-opacity="1.0" stroke-linejoin="round"/>
<polyline points="315.50,492.50 338.86,492.80 362.22,491.50 385.58,488.50 408.94,498.00 432.30,502.50 455.66,487.50 479.02,460.00" fill="none" stroke="#5ab8e0" stroke-width="0.8" stroke-opacity="1.0" stroke-linejoin="round"/>
<polyline points="315.50,494.00 338.86,493.50 362.22,493.00 385.58,490.00 408.94,499.50 432.30,503.50 455.66,488.00 479.02,460.00" fill="none" stroke="#6cc0e0" stroke-width="0.8" stroke-opacity="1.0" stroke-linejoin="round"/>
<polyline points="315.50,495.50 338.86,494.00 362.22,495.80 385.58,491.50 408.94,501.50 432.30,504.30 455.66,488.50 479.02,460.00" fill="none" stroke="#94d0e4" stroke-width="0.8" stroke-opacity="1.0" stroke-linejoin="round"/>
<polyline points="315.50,490.50 338.86,491.00 362.22,487.50 385.58,486.20 408.94,496.00 432.30,497.50 455.66,485.00 479.02,460.00" fill="none" stroke="#9ad8d0" stroke-width="0.8" stroke-opacity="1.0" stroke-linejoin="round"/>
</g>
<polygon points="408.70,494.50 409.71,496.92 412.31,497.13 410.33,498.83 410.93,501.37 408.70,500.01 406.47,501.37 407.07,498.83 405.09,497.13 407.69,496.92" fill="#2ab0a0"/>
<polygon points="432.00,496.60 433.01,499.02 435.61,499.23 433.63,500.93 434.23,503.47 432.00,502.11 429.77,503.47 430.37,500.93 428.39,499.23 430.99,499.02" fill="#2aa8dc"/>
<polygon points="432.00,500.20 433.01,502.62 435.61,502.83 433.63,504.53 434.23,507.07 432.00,505.71 429.77,507.07 430.37,504.53 428.39,502.83 430.99,502.62" fill="#2aa8dc"/>
<g clip-path="url(#gc2)">
<polyline points="315.50,528.80 338.86,529.00 362.22,527.60 385.58,525.30 408.94,534.00 432.30,530.00 455.66,525.00 479.02,500.00" fill="none" stroke="#7ccac4" stroke-width="0.8" stroke-opacity="1.0" stroke-linejoin="round"/>
<polyline points="315.50,529.80 338.86,530.00 362.22,528.40 385.58,525.80 408.94,536.00 432.30,532.00 455.66,527.00 479.02,500.00" fill="none" stroke="#6cc4bc" stroke-width="0.8" stroke-opacity="1.0" stroke-linejoin="round"/>
<polyline points="315.50,531.00 338.86,531.00 362.22,529.50 385.58,526.50 408.94,538.00 432.30,534.00 455.66,529.00 479.02,500.00" fill="none" stroke="#94d4ce" stroke-width="0.8" stroke-opacity="1.0" stroke-linejoin="round"/>
<polyline points="315.50,530.40 338.86,530.50 362.22,529.00 385.58,526.00 408.94,540.00 432.30,536.00 455.66,530.00 479.02,500.00" fill="none" stroke="#a0d8d2" stroke-width="0.8" stroke-opacity="1.0" stroke-linejoin="round"/>
<polyline points="315.50,532.40 338.86,533.00 362.22,537.20 385.58,531.80 408.94,536.00 432.30,532.00 455.66,515.00 479.02,500.00" fill="none" stroke="#ccd090" stroke-width="0.8" stroke-opacity="1.0" stroke-linejoin="round"/>
<polyline points="315.50,515.00 338.86,518.00 362.22,520.00 385.58,524.20 408.94,526.70 432.30,523.90 455.66,540.00 479.02,500.00" fill="none" stroke="#c4b8e6" stroke-width="0.8" stroke-opacity="1.0" stroke-linejoin="round"/>
</g>
<polygon points="362.20,533.40 363.21,535.82 365.81,536.03 363.83,537.73 364.43,540.27 362.20,538.91 359.97,540.27 360.57,537.73 358.59,536.03 361.19,535.82" fill="#9aa23a"/>
<polygon points="408.70,530.60 409.71,533.02 412.31,533.23 410.33,534.93 410.93,537.47 408.70,536.11 406.47,537.47 407.07,534.93 405.09,533.23 407.69,533.02" fill="#2ab0a0"/>
<polygon points="408.70,536.20 409.71,538.62 412.31,538.83 410.33,540.53 410.93,543.07 408.70,541.71 406.47,543.07 407.07,540.53 405.09,538.83 407.69,538.62" fill="#2ab0a0"/>
<polygon points="455.60,536.20 456.61,538.62 459.21,538.83 457.23,540.53 457.83,543.07 455.60,541.71 453.37,543.07 453.97,540.53 451.99,538.83 454.59,538.62" fill="#9a82c8"/>
<rect x="307.5" y="447.8" width="179.2" height="23.60" fill="none" stroke="#333" stroke-width="1.1"/>
<line x1="303.8" y1="454.50" x2="307.5" y2="454.50" stroke="#333" stroke-width="1.1"/>
<text x="301.60" y="457.70" font-size="7.8" text-anchor="end" fill="#222" font-weight="bold" textLength="12.00" lengthAdjust="spacingAndGlyphs">0.5</text>
<line x1="303.8" y1="471.40" x2="307.5" y2="471.40" stroke="#333" stroke-width="1.1"/>
<text x="301.60" y="474.60" font-size="7.8" text-anchor="end" fill="#222" font-weight="bold" textLength="12.00" lengthAdjust="spacingAndGlyphs">0.0</text>
<line x1="315.50" y1="471.4" x2="315.50" y2="474.20" stroke="#333" stroke-width="1"/>
<line x1="338.86" y1="471.4" x2="338.86" y2="474.20" stroke="#333" stroke-width="1"/>
<line x1="362.22" y1="471.4" x2="362.22" y2="474.20" stroke="#333" stroke-width="1"/>
<line x1="385.58" y1="471.4" x2="385.58" y2="474.20" stroke="#333" stroke-width="1"/>
<line x1="408.94" y1="471.4" x2="408.94" y2="474.20" stroke="#333" stroke-width="1"/>
<line x1="432.30" y1="471.4" x2="432.30" y2="474.20" stroke="#333" stroke-width="1"/>
<line x1="455.66" y1="471.4" x2="455.66" y2="474.20" stroke="#333" stroke-width="1"/>
<line x1="479.02" y1="471.4" x2="479.02" y2="474.20" stroke="#333" stroke-width="1"/>
<text x="263.80" y="465.60" font-size="10.0" text-anchor="start" fill="#555" stroke="#555" stroke-width="0.22" textLength="19.60" lengthAdjust="spacingAndGlyphs">pHSC</text>
<rect x="307.5" y="485.6" width="179.2" height="23.70" fill="none" stroke="#333" stroke-width="1.1"/>
<line x1="303.8" y1="492.40" x2="307.5" y2="492.40" stroke="#333" stroke-width="1.1"/>
<text x="301.60" y="495.60" font-size="7.8" text-anchor="end" fill="#222" font-weight="bold" textLength="12.00" lengthAdjust="spacingAndGlyphs">0.5</text>
<line x1="303.8" y1="509.30" x2="307.5" y2="509.30" stroke="#333" stroke-width="1.1"/>
<text x="301.60" y="512.50" font-size="7.8" text-anchor="end" fill="#222" font-weight="bold" textLength="12.00" lengthAdjust="spacingAndGlyphs">0.0</text>
<line x1="315.50" y1="509.3" x2="315.50" y2="512.10" stroke="#333" stroke-width="1"/>
<line x1="338.86" y1="509.3" x2="338.86" y2="512.10" stroke="#333" stroke-width="1"/>
<line x1="362.22" y1="509.3" x2="362.22" y2="512.10" stroke="#333" stroke-width="1"/>
<line x1="385.58" y1="509.3" x2="385.58" y2="512.10" stroke="#333" stroke-width="1"/>
<line x1="408.94" y1="509.3" x2="408.94" y2="512.10" stroke="#333" stroke-width="1"/>
<line x1="432.30" y1="509.3" x2="432.30" y2="512.10" stroke="#333" stroke-width="1"/>
<line x1="455.66" y1="509.3" x2="455.66" y2="512.10" stroke="#333" stroke-width="1"/>
<line x1="479.02" y1="509.3" x2="479.02" y2="512.10" stroke="#333" stroke-width="1"/>
<text x="263.80" y="503.90" font-size="10.0" text-anchor="start" fill="#555" stroke="#555" stroke-width="0.22" textLength="13.10" lengthAdjust="spacingAndGlyphs">LSC</text>
<rect x="307.5" y="523.7" width="179.2" height="22.90" fill="none" stroke="#333" stroke-width="1.1"/>
<line x1="303.8" y1="529.70" x2="307.5" y2="529.70" stroke="#333" stroke-width="1.1"/>
<text x="301.60" y="532.90" font-size="7.8" text-anchor="end" fill="#222" font-weight="bold" textLength="12.00" lengthAdjust="spacingAndGlyphs">0.5</text>
<line x1="303.8" y1="546.60" x2="307.5" y2="546.60" stroke="#333" stroke-width="1.1"/>
<text x="301.60" y="549.80" font-size="7.8" text-anchor="end" fill="#222" font-weight="bold" textLength="12.00" lengthAdjust="spacingAndGlyphs">0.0</text>
<line x1="315.50" y1="546.6" x2="315.50" y2="549.40" stroke="#333" stroke-width="1"/>
<line x1="338.86" y1="546.6" x2="338.86" y2="549.40" stroke="#333" stroke-width="1"/>
<line x1="362.22" y1="546.6" x2="362.22" y2="549.40" stroke="#333" stroke-width="1"/>
<line x1="385.58" y1="546.6" x2="385.58" y2="549.40" stroke="#333" stroke-width="1"/>
<line x1="408.94" y1="546.6" x2="408.94" y2="549.40" stroke="#333" stroke-width="1"/>
<line x1="432.30" y1="546.6" x2="432.30" y2="549.40" stroke="#333" stroke-width="1"/>
<line x1="455.66" y1="546.6" x2="455.66" y2="549.40" stroke="#333" stroke-width="1"/>
<line x1="479.02" y1="546.6" x2="479.02" y2="549.40" stroke="#333" stroke-width="1"/>
<text x="263.80" y="542.10" font-size="10.0" text-anchor="start" fill="#555" stroke="#555" stroke-width="0.22" textLength="16.70" lengthAdjust="spacingAndGlyphs">Blast</text>
<text transform="translate(318.60,552.00) rotate(-90)" font-size="9.6" text-anchor="end" fill="#222" stroke="#222" stroke-width="0.22" textLength="14.30" lengthAdjust="spacingAndGlyphs">HSC</text>
<text transform="translate(341.96,552.00) rotate(-90)" font-size="9.6" text-anchor="end" fill="#222" stroke="#222" stroke-width="0.22" textLength="15.40" lengthAdjust="spacingAndGlyphs">MPP</text>
<text transform="translate(365.32,552.00) rotate(-90)" font-size="9.6" text-anchor="end" fill="#222" stroke="#222" stroke-width="0.22" textLength="15.60" lengthAdjust="spacingAndGlyphs">CMP</text>
<text transform="translate(388.68,552.00) rotate(-90)" font-size="9.6" text-anchor="end" fill="#222" stroke="#222" stroke-width="0.22" textLength="15.00" lengthAdjust="spacingAndGlyphs">MEP</text>
<text transform="translate(412.04,552.00) rotate(-90)" font-size="9.6" text-anchor="end" fill="#222" stroke="#222" stroke-width="0.22" textLength="15.90" lengthAdjust="spacingAndGlyphs">GMP</text>
<text transform="translate(435.40,552.00) rotate(-90)" font-size="9.6" text-anchor="end" fill="#222" stroke="#222" stroke-width="0.22" textLength="20.00" lengthAdjust="spacingAndGlyphs">LMPP</text>
<text transform="translate(458.76,552.00) rotate(-90)" font-size="9.6" text-anchor="end" fill="#222" stroke="#222" stroke-width="0.22" textLength="20.00" lengthAdjust="spacingAndGlyphs">Mono</text>
<text transform="translate(482.12,552.00) rotate(-90)" font-size="9.6" text-anchor="end" fill="#222" stroke="#222" stroke-width="0.22" textLength="10.20" lengthAdjust="spacingAndGlyphs">Ery</text>
<text transform="translate(506.60,516.50) rotate(-90)" font-size="9.2" text-anchor="middle" fill="#222" stroke="#222" stroke-width="0.22" textLength="60.00" lengthAdjust="spacingAndGlyphs">Cityblock distance</text>
<path d="M285.2,603.2 L285.2,647.2 L334.4,647.2" fill="none" stroke="#222" stroke-width="1.2"/>
<line x1="282.0" y1="610.5" x2="285.2" y2="610.5" stroke="#222" stroke-width="1"/>
<text x="281.80" y="613.50" font-size="8.8" text-anchor="end" fill="#222" stroke="#222" stroke-width="0.22" textLength="12.90" lengthAdjust="spacingAndGlyphs">HSC</text>
<line x1="282.0" y1="625.1" x2="285.2" y2="625.1" stroke="#222" stroke-width="1"/>
<text x="281.80" y="628.10" font-size="8.8" text-anchor="end" fill="#222" stroke="#222" stroke-width="0.22" textLength="13.70" lengthAdjust="spacingAndGlyphs">MPP</text>
<line x1="282.0" y1="640" x2="285.2" y2="640" stroke="#222" stroke-width="1"/>
<text x="281.80" y="643.00" font-size="8.8" text-anchor="end" fill="#222" stroke="#222" stroke-width="0.22" textLength="14.40" lengthAdjust="spacingAndGlyphs">GMP</text>
<line x1="293.8" y1="647.2" x2="293.8" y2="650.2" stroke="#222" stroke-width="1"/>
<text transform="translate(297.30,650.30) rotate(-90)" font-size="8.8" text-anchor="end" fill="#222" stroke="#222" stroke-width="0.22" textLength="12.90" lengthAdjust="spacingAndGlyphs">HSC</text>
<line x1="310" y1="647.2" x2="310" y2="650.2" stroke="#222" stroke-width="1"/>
<text transform="translate(313.50,650.30) rotate(-90)" font-size="8.8" text-anchor="end" fill="#222" stroke="#222" stroke-width="0.22" textLength="14.50" lengthAdjust="spacingAndGlyphs">MPP</text>
<line x1="326.3" y1="647.2" x2="326.3" y2="650.2" stroke="#222" stroke-width="1"/>
<text transform="translate(329.80,650.30) rotate(-90)" font-size="8.8" text-anchor="end" fill="#222" stroke="#222" stroke-width="0.22" textLength="15.30" lengthAdjust="spacingAndGlyphs">GMP</text>
<circle cx="293.6" cy="610.4" r="2.3" fill="#2db46e"/>
<circle cx="310" cy="625.1" r="4.6" fill="#2db46e"/>
<circle cx="326.3" cy="640" r="3.4" fill="#2db46e"/>
<text x="309.70" y="599.80" font-size="9.4" text-anchor="middle" fill="#444" stroke="#444" stroke-width="0.22" textLength="19.20" lengthAdjust="spacingAndGlyphs">pHSC</text>
<path d="M360.8,603.2 L360.8,647.2 L409.1,647.2" fill="none" stroke="#222" stroke-width="1.2"/>
<line x1="357.6" y1="613.8" x2="360.8" y2="613.8" stroke="#222" stroke-width="1"/>
<text x="357.40" y="616.80" font-size="8.8" text-anchor="end" fill="#222" stroke="#222" stroke-width="0.22" textLength="15.20" lengthAdjust="spacingAndGlyphs">GMP</text>
<line x1="357.6" y1="636.7" x2="360.8" y2="636.7" stroke="#222" stroke-width="1"/>
<text x="357.40" y="639.70" font-size="8.8" text-anchor="end" fill="#222" stroke="#222" stroke-width="0.22" textLength="17.50" lengthAdjust="spacingAndGlyphs">LMPP</text>
<line x1="372.6" y1="647.2" x2="372.6" y2="650.2" stroke="#222" stroke-width="1"/>
<text transform="translate(376.10,650.30) rotate(-90)" font-size="8.8" text-anchor="end" fill="#222" stroke="#222" stroke-width="0.22" textLength="15.20" lengthAdjust="spacingAndGlyphs">GMP</text>
<line x1="397.2" y1="647.2" x2="397.2" y2="650.2" stroke="#222" stroke-width="1"/>
<text transform="translate(400.70,650.30) rotate(-90)" font-size="8.8" text-anchor="end" fill="#222" stroke="#222" stroke-width="0.22" textLength="16.80" lengthAdjust="spacingAndGlyphs">LMPP</text>
<circle cx="372.6" cy="613.8" r="3.4" fill="#2db46e"/>
<circle cx="397.2" cy="613.8" r="4.6" fill="#f5a623"/>
<circle cx="397.2" cy="636.6" r="2.3" fill="#2db46e"/>
<text x="385.20" y="599.80" font-size="9.4" text-anchor="middle" fill="#444" stroke="#444" stroke-width="0.22" textLength="12.70" lengthAdjust="spacingAndGlyphs">LSC</text>
<path d="M434.8,603.2 L434.8,647.2 L483.1,647.2" fill="none" stroke="#222" stroke-width="1.2"/>
<line x1="431.6" y1="610.6" x2="434.8" y2="610.6" stroke="#222" stroke-width="1"/>
<text x="431.40" y="613.60" font-size="8.8" text-anchor="end" fill="#222" stroke="#222" stroke-width="0.22" textLength="14.40" lengthAdjust="spacingAndGlyphs">CMP</text>
<line x1="431.6" y1="624.9" x2="434.8" y2="624.9" stroke="#222" stroke-width="1"/>
<text x="431.40" y="627.90" font-size="8.8" text-anchor="end" fill="#222" stroke="#222" stroke-width="0.22" textLength="15.20" lengthAdjust="spacingAndGlyphs">GMP</text>
<line x1="431.6" y1="640" x2="434.8" y2="640" stroke="#222" stroke-width="1"/>
<text x="431.40" y="643.00" font-size="8.8" text-anchor="end" fill="#222" stroke="#222" stroke-width="0.22" textLength="18.00" lengthAdjust="spacingAndGlyphs">Mono</text>
<line x1="443.4" y1="647.2" x2="443.4" y2="650.2" stroke="#222" stroke-width="1"/>
<text transform="translate(446.90,650.30) rotate(-90)" font-size="8.8" text-anchor="end" fill="#222" stroke="#222" stroke-width="0.22" textLength="15.20" lengthAdjust="spacingAndGlyphs">CMP</text>
<line x1="459.5" y1="647.2" x2="459.5" y2="650.2" stroke="#222" stroke-width="1"/>
<text transform="translate(463.00,650.30) rotate(-90)" font-size="8.8" text-anchor="end" fill="#222" stroke="#222" stroke-width="0.22" textLength="15.30" lengthAdjust="spacingAndGlyphs">GMP</text>
<line x1="475.8" y1="647.2" x2="475.8" y2="650.2" stroke="#222" stroke-width="1"/>
<text transform="translate(479.30,650.30) rotate(-90)" font-size="8.8" text-anchor="end" fill="#222" stroke="#222" stroke-width="0.22" textLength="17.50" lengthAdjust="spacingAndGlyphs">Mono</text>
<circle cx="443.4" cy="624.9" r="2.5" fill="#ee6048"/>
<circle cx="459.5" cy="624.9" r="4.6" fill="#2db46e"/>
<circle cx="459.5" cy="640" r="2.5" fill="#ee6048"/>
<circle cx="475.8" cy="640" r="2.5" fill="#2db46e"/>
<text x="459.90" y="599.80" font-size="9.4" text-anchor="middle" fill="#444" stroke="#444" stroke-width="0.22" textLength="17.50" lengthAdjust="spacingAndGlyphs">Blast</text>
<text transform="translate(262.00,637.20) rotate(-90)" font-size="9.0" text-anchor="middle" fill="#333" stroke="#333" stroke-width="0.22" textLength="49.00" lengthAdjust="spacingAndGlyphs">Enh. cytometry</text>
<rect x="486.8" y="607.6" width="25.6" height="35.6" fill="#fff" stroke="#111" stroke-width="1.1"/>
<text x="488.00" y="613.30" font-size="5.6" text-anchor="start" fill="#333" stroke="#333" stroke-width="0.22" textLength="22.00" lengthAdjust="spacingAndGlyphs"># samples</text>
<circle cx="496.3" cy="619.2" r="2.2" fill="#c4c4c4"/>
<text x="506.60" y="622.10" font-size="7.8" text-anchor="middle" fill="#111" stroke="#111" stroke-width="0.22" textLength="4.60" lengthAdjust="spacingAndGlyphs">1</text>
<circle cx="496.3" cy="627.1" r="3.7" fill="#c4c4c4"/>
<text x="506.60" y="630.00" font-size="7.8" text-anchor="middle" fill="#111" stroke="#111" stroke-width="0.22" textLength="4.60" lengthAdjust="spacingAndGlyphs">2</text>
<circle cx="496.3" cy="637.1" r="4.6" fill="#c4c4c4"/>
<text x="506.60" y="640.00" font-size="7.8" text-anchor="middle" fill="#111" stroke="#111" stroke-width="0.22" textLength="4.60" lengthAdjust="spacingAndGlyphs">4</text>
<line x1="290.2" y1="673.2" x2="371.9" y2="673.2" stroke="#555" stroke-width="1.5"/>
<line x1="400.9" y1="673.2" x2="482.5" y2="673.2" stroke="#555" stroke-width="1.5"/>
<text x="373.80" y="675.80" font-size="9.0" text-anchor="start" fill="#333" stroke="#333" stroke-width="0.22" textLength="24.40" lengthAdjust="spacingAndGlyphs">Heptad</text>
<circle cx="295" cy="683" r="3.85" fill="#2db46e"/>
<text x="301.20" y="688.00" font-size="10.4" text-anchor="start" fill="#333" stroke="#333" stroke-width="0.22" textLength="55.20" lengthAdjust="spacingAndGlyphs">Complete match</text>
<circle cx="373.1" cy="683" r="3.85" fill="#f5a623"/>
<text x="379.50" y="688.00" font-size="10.4" text-anchor="start" fill="#333" stroke="#333" stroke-width="0.22" textLength="41.20" lengthAdjust="spacingAndGlyphs">Close match</text>
<circle cx="436.1" cy="683" r="3.85" fill="#ee6048"/>
<text x="443.70" y="688.00" font-size="10.4" text-anchor="start" fill="#333" stroke="#333" stroke-width="0.22" textLength="33.50" lengthAdjust="spacingAndGlyphs">Mismatch</text>
<rect x="0" y="0" width="520" height="1.4" fill="#000"/>
<rect x="0" y="0" width="1.4" height="697" fill="#000"/>
<rect x="518.6" y="0" width="1.4" height="697" fill="#000"/>
<rect x="0" y="695.2" width="520" height="1.8" fill="#000"/>
</svg></body></html>
